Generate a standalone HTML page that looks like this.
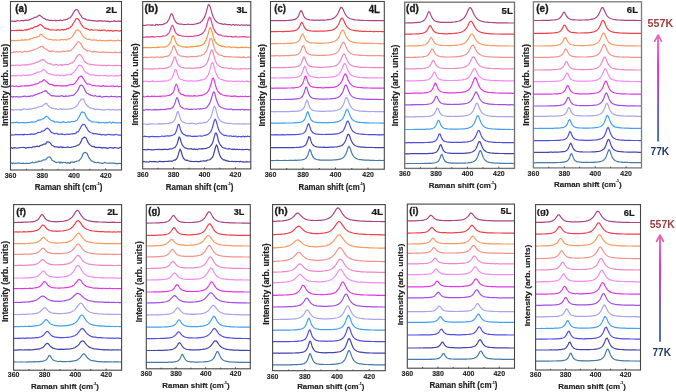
<!DOCTYPE html>
<html><head><meta charset="utf-8"><title>Raman spectra</title><style>
*{margin:0;padding:0}
html,body{width:676px;height:392px;background:#fff;overflow:hidden}
svg{display:block;will-change:transform}
text{font-family:"Liberation Sans", sans-serif}
.tl{font-weight:bold;fill:#222;stroke:#222;stroke-width:0.15px}
.ax{font-weight:bold;fill:#222;stroke:#222;stroke-width:0.2px}
.yl{font-weight:bold;fill:#222;stroke:#222;stroke-width:0.2px}
.pl{font-weight:bold;fill:#1a1a1a;stroke:#1a1a1a;stroke-width:0.3px}
.ly{font-weight:bold;fill:#1a1a1a;stroke:#1a1a1a;stroke-width:0.25px}
.k557{font-weight:bold;fill:#9e3c3e}
.k77{font-weight:bold;fill:#1e3a6a}
</style></head>
<body><svg width="676" height="392" viewBox="0 0 676 392">
<g fill="none" stroke-width="1.2" stroke-linejoin="round">
<path d="M10.7 21.1 11.7 21.0 12.7 21.2 13.7 21.3 14.7 21.2 15.7 21.3 16.7 20.9 17.7 20.5 18.7 21.0 19.7 21.0 20.8 20.6 21.8 20.6 22.8 20.6 23.8 20.8 24.8 20.4 25.8 20.0 26.8 20.4 27.8 20.0 28.8 20.1 29.8 19.6 30.8 19.4 31.8 18.6 32.8 18.5 33.8 17.7 34.8 17.4 35.8 17.1 36.8 17.2 37.8 16.1 38.9 15.4 39.9 15.2 40.9 16.2 41.9 16.8 42.9 17.9 43.9 18.7 44.9 18.7 45.9 19.7 46.9 19.8 47.9 19.7 48.9 20.3 49.9 20.3 50.9 20.3 51.9 20.4 52.9 20.8 53.9 20.5 54.9 20.2 55.9 21.0 57.0 20.3 58.0 20.5 59.0 20.7 60.0 19.9 61.0 20.2 62.0 20.6 63.0 20.2 64.0 19.9 65.0 19.9 66.0 19.5 67.0 19.4 68.0 18.7 69.0 18.0 70.0 17.8 71.0 16.5 72.0 15.3 73.0 13.3 74.0 11.9 75.0 10.3 76.1 9.7 77.1 9.6 78.1 10.5 79.1 12.8 80.1 14.5 81.1 15.7 82.1 17.7 83.1 18.2 84.1 18.8 85.1 18.9 86.1 19.4 87.1 20.0 88.1 20.2 89.1 20.4 90.1 20.0 91.1 20.7 92.1 20.7 93.1 20.6 94.2 20.8 95.2 20.9 96.2 21.2 97.2 20.9 98.2 21.1 99.2 20.7 100.2 20.9 101.2 21.1 102.2 20.9 103.2 21.2 104.2 20.8 105.2 21.1 106.2 21.0 107.2 21.5 108.2 21.1 109.2 21.7 110.2 21.8 111.2 21.3 112.3 21.5 113.3 21.2 114.3 20.6 115.3 21.5 116.3 21.4 117.3 21.2 118.3 21.1 119.3 21.3 120.3 21.3 121.3 21.1" stroke="#ae4482"/>
<path d="M10.7 30.4 11.7 30.8 12.7 30.5 13.7 30.5 14.7 30.7 15.7 30.3 16.7 30.6 17.7 30.1 18.7 30.3 19.7 30.2 20.8 30.4 21.8 30.2 22.8 30.6 23.8 30.3 24.8 29.8 25.8 30.3 26.8 29.4 27.8 29.9 28.8 29.0 29.8 29.2 30.8 28.4 31.8 28.2 32.8 28.3 33.8 27.2 34.8 26.7 35.8 26.8 36.8 26.4 37.8 25.9 38.9 25.4 39.9 24.3 40.9 24.8 41.9 25.3 42.9 26.5 43.9 27.4 44.9 28.4 45.9 28.2 46.9 29.0 47.9 28.9 48.9 29.4 49.9 29.8 50.9 29.8 51.9 30.0 52.9 29.9 53.9 30.0 54.9 30.0 55.9 30.3 57.0 30.2 58.0 29.5 59.0 30.1 60.0 30.2 61.0 29.7 62.0 29.4 63.0 30.1 64.0 29.6 65.0 29.6 66.0 29.7 67.0 28.7 68.0 28.6 69.0 28.1 70.0 27.7 71.0 26.5 72.0 25.6 73.0 23.9 74.0 22.3 75.0 20.5 76.1 18.6 77.1 18.7 78.1 18.9 79.1 20.3 80.1 22.3 81.1 24.2 82.1 25.4 83.1 26.9 84.1 27.7 85.1 28.2 86.1 28.4 87.1 28.9 88.1 29.2 89.1 29.7 90.1 30.1 91.1 29.6 92.1 29.7 93.1 30.1 94.2 30.0 95.2 30.0 96.2 30.0 97.2 30.0 98.2 30.5 99.2 30.0 100.2 30.8 101.2 30.2 102.2 30.3 103.2 30.2 104.2 30.0 105.2 30.1 106.2 30.9 107.2 31.0 108.2 30.3 109.2 30.9 110.2 30.6 111.2 30.4 112.3 31.1 113.3 31.2 114.3 30.6 115.3 30.6 116.3 30.7 117.3 30.6 118.3 30.9 119.3 31.1 120.3 30.7 121.3 30.9" stroke="#f2404a"/>
<path d="M10.7 41.0 11.7 40.4 12.7 40.5 13.7 40.4 14.7 40.7 15.7 40.6 16.7 40.7 17.7 40.6 18.7 40.3 19.7 40.5 20.8 40.1 21.8 40.1 22.8 39.6 23.8 40.4 24.8 39.7 25.8 39.9 26.8 39.7 27.8 40.0 28.8 39.5 29.8 38.9 30.8 38.9 31.8 38.5 32.8 38.3 33.8 37.5 34.8 37.4 35.8 37.7 36.8 36.9 37.8 36.8 38.9 36.6 39.9 35.2 40.9 34.2 41.9 34.7 42.9 35.8 43.9 36.8 44.9 37.1 45.9 38.1 46.9 38.7 47.9 39.0 48.9 39.3 49.9 39.3 50.9 39.5 51.9 39.7 52.9 40.1 53.9 39.8 54.9 40.1 55.9 39.7 57.0 40.3 58.0 40.0 59.0 40.0 60.0 40.3 61.0 39.5 62.0 39.5 63.0 40.0 64.0 39.5 65.0 39.5 66.0 40.2 67.0 39.2 68.0 39.1 69.0 38.7 70.0 38.6 71.0 37.8 72.0 36.9 73.0 35.4 74.0 34.1 75.0 32.4 76.1 30.4 77.1 30.1 78.1 29.9 79.1 30.9 80.1 31.3 81.1 33.2 82.1 34.9 83.1 36.3 84.1 37.4 85.1 38.1 86.1 38.7 87.1 39.1 88.1 39.3 89.1 39.1 90.1 39.6 91.1 39.9 92.1 40.1 93.1 40.2 94.2 39.7 95.2 40.1 96.2 40.2 97.2 40.4 98.2 40.7 99.2 40.4 100.2 40.2 101.2 40.6 102.2 40.5 103.2 40.6 104.2 40.5 105.2 41.0 106.2 40.6 107.2 40.8 108.2 40.3 109.2 40.8 110.2 40.4 111.2 40.2 112.3 40.7 113.3 40.8 114.3 40.6 115.3 40.6 116.3 40.9 117.3 40.5 118.3 40.1 119.3 40.7 120.3 40.7 121.3 41.0" stroke="#f89a62"/>
<path d="M10.7 52.2 11.7 52.6 12.7 52.5 13.7 51.8 14.7 52.4 15.7 51.8 16.7 51.7 17.7 52.0 18.7 51.9 19.7 51.5 20.8 52.0 21.8 52.1 22.8 52.3 23.8 51.8 24.8 51.3 25.8 51.4 26.8 51.8 27.8 51.6 28.8 51.4 29.8 50.9 30.8 50.8 31.8 50.4 32.8 50.1 33.8 49.9 34.8 49.4 35.8 49.0 36.8 48.7 37.8 48.2 38.9 47.4 39.9 47.1 40.9 46.5 41.9 46.6 42.9 46.4 43.9 48.0 44.9 48.9 45.9 49.1 46.9 49.8 47.9 50.5 48.9 51.3 49.9 51.2 50.9 51.4 51.9 51.2 52.9 50.9 53.9 51.5 54.9 51.8 55.9 52.0 57.0 51.7 58.0 51.8 59.0 52.0 60.0 51.7 61.0 52.0 62.0 51.3 63.0 51.3 64.0 51.2 65.0 51.6 66.0 51.2 67.0 51.2 68.0 51.1 69.0 50.9 70.0 50.8 71.0 50.4 72.0 49.1 73.0 48.5 74.0 47.2 75.0 45.4 76.1 44.5 77.1 42.8 78.1 41.9 79.1 41.9 80.1 42.9 81.1 44.0 82.1 45.9 83.1 47.9 84.1 48.9 85.1 49.3 86.1 50.0 87.1 51.1 88.1 50.5 89.1 51.0 90.1 51.0 91.1 51.6 92.1 51.7 93.1 52.1 94.2 51.1 95.2 51.9 96.2 51.5 97.2 52.2 98.2 52.0 99.2 52.5 100.2 52.2 101.2 51.9 102.2 52.5 103.2 51.9 104.2 52.1 105.2 52.5 106.2 52.4 107.2 52.4 108.2 52.3 109.2 52.4 110.2 52.5 111.2 52.4 112.3 52.6 113.3 52.7 114.3 52.3 115.3 52.1 116.3 52.8 117.3 52.3 118.3 52.5 119.3 52.6 120.3 52.1 121.3 52.5" stroke="#f6928a"/>
<path d="M10.7 64.9 11.7 65.6 12.7 65.2 13.7 65.4 14.7 65.5 15.7 65.1 16.7 65.3 17.7 65.0 18.7 65.2 19.7 65.5 20.8 65.1 21.8 65.1 22.8 64.8 23.8 65.2 24.8 64.9 25.8 65.3 26.8 64.5 27.8 64.9 28.8 64.9 29.8 64.3 30.8 63.8 31.8 64.2 32.8 63.8 33.8 63.4 34.8 63.1 35.8 62.4 36.8 62.3 37.8 62.0 38.9 61.2 39.9 61.1 40.9 60.1 41.9 59.8 42.9 59.6 43.9 60.2 44.9 60.2 45.9 61.9 46.9 62.6 47.9 63.3 48.9 63.6 49.9 64.0 50.9 63.7 51.9 64.7 52.9 65.0 53.9 64.9 54.9 65.1 55.9 64.5 57.0 64.5 58.0 65.1 59.0 65.2 60.0 64.9 61.0 64.4 62.0 65.5 63.0 64.6 64.0 65.0 65.0 64.3 66.0 64.8 67.0 64.4 68.0 64.6 69.0 64.3 70.0 63.3 71.0 63.1 72.0 62.9 73.0 62.3 74.0 61.6 75.0 59.8 76.1 57.9 77.1 56.1 78.1 54.8 79.1 54.6 80.1 54.6 81.1 55.6 82.1 57.0 83.1 58.7 84.1 60.8 85.1 62.1 86.1 62.7 87.1 63.4 88.1 63.9 89.1 64.0 90.1 64.6 91.1 64.3 92.1 64.6 93.1 64.7 94.2 64.9 95.2 65.1 96.2 65.2 97.2 65.1 98.2 65.2 99.2 65.1 100.2 65.2 101.2 65.6 102.2 65.2 103.2 65.6 104.2 65.4 105.2 65.4 106.2 65.9 107.2 65.3 108.2 65.3 109.2 65.4 110.2 65.5 111.2 65.5 112.3 65.7 113.3 65.5 114.3 65.6 115.3 65.4 116.3 65.8 117.3 65.4 118.3 65.4 119.3 65.5 120.3 65.6 121.3 65.3" stroke="#f486c8"/>
<path d="M10.7 76.2 11.7 75.6 12.7 75.7 13.7 75.6 14.7 75.6 15.7 75.9 16.7 75.7 17.7 75.5 18.7 75.5 19.7 75.5 20.8 76.0 21.8 75.4 22.8 75.1 23.8 75.1 24.8 75.3 25.8 75.7 26.8 74.9 27.8 75.1 28.8 75.7 29.8 74.7 30.8 75.0 31.8 74.8 32.8 74.3 33.8 73.5 34.8 73.6 35.8 73.1 36.8 72.3 37.8 72.0 38.9 72.1 39.9 71.8 40.9 71.5 41.9 70.7 42.9 69.7 43.9 69.5 44.9 70.3 45.9 71.1 46.9 72.6 47.9 73.2 48.9 73.6 49.9 74.0 50.9 74.2 51.9 74.6 52.9 74.9 53.9 74.9 54.9 75.3 55.9 75.6 57.0 75.0 58.0 75.2 59.0 75.1 60.0 75.7 61.0 75.3 62.0 75.4 63.0 75.4 64.0 75.8 65.0 75.2 66.0 74.7 67.0 74.8 68.0 74.9 69.0 74.6 70.0 74.2 71.0 74.9 72.0 73.7 73.0 73.0 74.0 72.2 75.0 70.8 76.1 69.5 77.1 67.9 78.1 66.2 79.1 65.0 80.1 65.2 81.1 65.5 82.1 66.5 83.1 68.0 84.1 70.3 85.1 71.7 86.1 72.6 87.1 73.0 88.1 73.9 89.1 73.9 90.1 74.8 91.1 74.8 92.1 75.0 93.1 74.9 94.2 74.9 95.2 75.7 96.2 75.6 97.2 75.3 98.2 75.7 99.2 75.9 100.2 75.3 101.2 75.5 102.2 75.5 103.2 75.8 104.2 75.4 105.2 75.8 106.2 75.4 107.2 76.0 108.2 76.0 109.2 75.7 110.2 76.0 111.2 75.6 112.3 75.7 113.3 76.0 114.3 75.8 115.3 75.9 116.3 75.6 117.3 76.0 118.3 75.9 119.3 75.5 120.3 75.2 121.3 75.3" stroke="#f48af4"/>
<path d="M10.7 86.2 11.7 86.2 12.7 85.8 13.7 86.3 14.7 86.5 15.7 86.2 16.7 86.0 17.7 86.4 18.7 86.6 19.7 86.5 20.8 85.9 21.8 86.2 22.8 86.0 23.8 85.9 24.8 85.7 25.8 85.9 26.8 85.6 27.8 85.9 28.8 85.7 29.8 85.7 30.8 85.0 31.8 85.1 32.8 85.1 33.8 84.7 34.8 84.4 35.8 83.8 36.8 84.0 37.8 83.5 38.9 83.0 39.9 81.8 40.9 81.9 41.9 81.6 42.9 80.6 43.9 79.6 44.9 80.2 45.9 81.1 46.9 81.8 47.9 83.0 48.9 83.7 49.9 84.5 50.9 84.2 51.9 84.6 52.9 85.1 53.9 85.2 54.9 86.1 55.9 85.4 57.0 85.7 58.0 85.6 59.0 85.5 60.0 85.8 61.0 86.2 62.0 85.6 63.0 85.9 64.0 85.8 65.0 85.8 66.0 85.7 67.0 86.2 68.0 85.1 69.0 85.2 70.0 84.8 71.0 84.4 72.0 84.6 73.0 84.7 74.0 83.9 75.0 83.2 76.1 81.9 77.1 80.2 78.1 79.0 79.1 76.9 80.1 76.6 81.1 76.1 82.1 76.8 83.1 78.3 84.1 80.0 85.1 81.7 86.1 82.9 87.1 84.1 88.1 84.2 89.1 84.1 90.1 84.4 91.1 84.8 92.1 85.2 93.1 85.7 94.2 85.3 95.2 85.8 96.2 85.9 97.2 86.0 98.2 85.9 99.2 86.1 100.2 86.1 101.2 86.4 102.2 86.2 103.2 85.5 104.2 86.2 105.2 86.3 106.2 86.1 107.2 86.0 108.2 86.5 109.2 86.3 110.2 86.0 111.2 86.2 112.3 86.2 113.3 85.9 114.3 86.5 115.3 86.3 116.3 86.5 117.3 85.9 118.3 86.9 119.3 86.5 120.3 86.5 121.3 86.2" stroke="#e438e6"/>
<path d="M10.7 96.6 11.7 96.4 12.7 97.2 13.7 96.5 14.7 96.8 15.7 96.9 16.7 96.5 17.7 96.9 18.7 97.2 19.7 96.7 20.8 97.0 21.8 96.7 22.8 96.4 23.8 96.4 24.8 96.0 25.8 96.4 26.8 96.7 27.8 96.4 28.8 96.4 29.8 96.4 30.8 95.8 31.8 95.9 32.8 96.1 33.8 95.1 34.8 95.1 35.8 94.6 36.8 94.3 37.8 93.8 38.9 93.7 39.9 93.0 40.9 92.9 41.9 92.4 42.9 91.8 43.9 91.5 44.9 90.6 45.9 90.8 46.9 91.7 47.9 93.3 48.9 93.4 49.9 94.5 50.9 95.4 51.9 95.8 52.9 95.7 53.9 95.8 54.9 96.1 55.9 96.0 57.0 96.3 58.0 96.0 59.0 96.4 60.0 96.2 61.0 95.9 62.0 95.5 63.0 96.5 64.0 96.3 65.0 96.4 66.0 95.9 67.0 96.3 68.0 96.1 69.0 95.8 70.0 95.9 71.0 95.7 72.0 95.3 73.0 95.4 74.0 94.7 75.0 93.8 76.1 92.6 77.1 91.3 78.1 89.9 79.1 87.5 80.1 85.6 81.1 85.1 82.1 85.4 83.1 86.6 84.1 88.0 85.1 90.4 86.1 92.2 87.1 93.3 88.1 93.6 89.1 94.6 90.1 94.7 91.1 95.5 92.1 95.4 93.1 96.0 94.2 96.1 95.2 95.4 96.2 96.0 97.2 96.5 98.2 96.4 99.2 96.3 100.2 96.1 101.2 96.7 102.2 97.1 103.2 96.7 104.2 96.6 105.2 96.6 106.2 96.3 107.2 96.6 108.2 96.5 109.2 97.0 110.2 96.5 111.2 96.2 112.3 96.5 113.3 96.7 114.3 96.7 115.3 96.3 116.3 97.1 117.3 96.8 118.3 96.7 119.3 96.6 120.3 96.9 121.3 96.7" stroke="#a64ce8"/>
<path d="M10.7 109.8 11.7 109.7 12.7 109.8 13.7 110.1 14.7 109.7 15.7 109.5 16.7 110.0 17.7 109.7 18.7 109.5 19.7 109.9 20.8 109.6 21.8 109.9 22.8 109.2 23.8 108.9 24.8 108.9 25.8 109.5 26.8 109.2 27.8 109.3 28.8 109.2 29.8 108.7 30.8 109.4 31.8 108.6 32.8 108.7 33.8 108.1 34.8 108.2 35.8 108.2 36.8 107.6 37.8 107.1 38.9 106.9 39.9 106.5 40.9 106.4 41.9 106.5 42.9 105.2 43.9 104.6 44.9 103.9 45.9 103.4 46.9 103.6 47.9 105.1 48.9 106.4 49.9 107.1 50.9 107.4 51.9 108.5 52.9 108.1 53.9 108.8 54.9 109.1 55.9 108.6 57.0 109.1 58.0 109.5 59.0 109.3 60.0 108.9 61.0 108.9 62.0 109.4 63.0 109.1 64.0 109.0 65.0 109.4 66.0 109.1 67.0 109.1 68.0 109.2 69.0 109.1 70.0 108.8 71.0 108.7 72.0 108.7 73.0 108.4 74.0 107.6 75.0 107.4 76.1 106.5 77.1 105.4 78.1 104.1 79.1 101.9 80.1 100.9 81.1 99.2 82.1 99.2 83.1 98.9 84.1 100.1 85.1 103.0 86.1 104.5 87.1 105.5 88.1 106.5 89.1 107.2 90.1 108.0 91.1 108.2 92.1 108.4 93.1 108.8 94.2 108.7 95.2 109.8 96.2 109.0 97.2 109.6 98.2 109.1 99.2 109.5 100.2 109.7 101.2 109.4 102.2 109.8 103.2 109.9 104.2 110.1 105.2 109.7 106.2 109.5 107.2 109.4 108.2 109.7 109.2 109.4 110.2 109.7 111.2 109.8 112.3 109.6 113.3 109.5 114.3 109.9 115.3 109.9 116.3 109.8 117.3 109.8 118.3 110.1 119.3 109.5 120.3 109.9 121.3 109.7" stroke="#a8a4ee"/>
<path d="M10.7 123.0 11.7 122.7 12.7 122.6 13.7 122.9 14.7 122.2 15.7 122.6 16.7 122.2 17.7 122.4 18.7 122.9 19.7 122.8 20.8 122.5 21.8 122.6 22.8 122.6 23.8 122.6 24.8 123.0 25.8 122.5 26.8 123.0 27.8 122.2 28.8 122.5 29.8 122.4 30.8 122.2 31.8 121.9 32.8 122.2 33.8 122.1 34.8 121.8 35.8 121.8 36.8 121.2 37.8 120.1 38.9 120.5 39.9 119.7 40.9 119.9 41.9 119.1 42.9 118.9 43.9 118.4 44.9 117.5 45.9 116.3 46.9 116.4 47.9 117.0 48.9 118.5 49.9 119.2 50.9 120.3 51.9 120.6 52.9 121.2 53.9 121.0 54.9 122.3 55.9 122.0 57.0 121.7 58.0 122.2 59.0 122.4 60.0 122.3 61.0 122.6 62.0 122.2 63.0 121.6 64.0 121.9 65.0 122.5 66.0 122.5 67.0 122.3 68.0 121.8 69.0 122.3 70.0 122.2 71.0 121.6 72.0 121.5 73.0 121.6 74.0 121.5 75.0 121.3 76.1 120.5 77.1 120.2 78.1 118.2 79.1 117.1 80.1 114.9 81.1 112.7 82.1 111.9 83.1 112.4 84.1 112.4 85.1 113.7 86.1 116.2 87.1 118.0 88.1 119.1 89.1 120.4 90.1 120.2 91.1 121.8 92.1 121.8 93.1 121.8 94.2 122.0 95.2 122.0 96.2 122.1 97.2 122.3 98.2 122.0 99.2 123.0 100.2 122.5 101.2 122.7 102.2 122.5 103.2 122.5 104.2 122.9 105.2 122.8 106.2 122.4 107.2 122.6 108.2 122.9 109.2 122.1 110.2 122.1 111.2 123.2 112.3 122.7 113.3 122.1 114.3 122.6 115.3 122.7 116.3 122.8 117.3 122.9 118.3 122.9 119.3 123.0 120.3 122.6 121.3 122.9" stroke="#44a0f4"/>
<path d="M10.7 134.9 11.7 135.1 12.7 134.8 13.7 135.0 14.7 134.8 15.7 134.4 16.7 134.6 17.7 134.6 18.7 134.6 19.7 134.7 20.8 134.7 21.8 134.7 22.8 134.4 23.8 134.9 24.8 134.2 25.8 134.5 26.8 134.7 27.8 134.5 28.8 134.5 29.8 134.2 30.8 134.4 31.8 133.8 32.8 134.2 33.8 134.4 34.8 133.8 35.8 134.0 36.8 133.2 37.8 132.6 38.9 132.3 39.9 132.5 40.9 132.0 41.9 131.0 42.9 131.1 43.9 130.8 44.9 130.0 45.9 128.8 46.9 128.2 47.9 128.4 48.9 129.2 49.9 130.4 50.9 131.8 51.9 132.7 52.9 132.9 53.9 133.6 54.9 133.6 55.9 133.7 57.0 133.3 58.0 134.3 59.0 134.1 60.0 134.2 61.0 134.1 62.0 133.9 63.0 134.4 64.0 134.5 65.0 134.7 66.0 134.5 67.0 134.1 68.0 134.2 69.0 134.4 70.0 134.2 71.0 134.0 72.0 133.7 73.0 133.8 74.0 133.5 75.0 133.7 76.1 133.1 77.1 131.7 78.1 132.0 79.1 130.3 80.1 128.5 81.1 126.7 82.1 125.2 83.1 124.3 84.1 124.3 85.1 125.1 86.1 127.2 87.1 128.7 88.1 130.5 89.1 131.6 90.1 132.2 91.1 132.7 92.1 133.0 93.1 133.7 94.2 133.5 95.2 133.6 96.2 133.8 97.2 133.8 98.2 134.3 99.2 134.4 100.2 134.2 101.2 134.9 102.2 134.5 103.2 134.7 104.2 134.7 105.2 135.1 106.2 134.9 107.2 134.7 108.2 134.4 109.2 134.4 110.2 134.7 111.2 134.8 112.3 135.0 113.3 134.6 114.3 134.8 115.3 134.6 116.3 134.3 117.3 134.8 118.3 135.2 119.3 135.0 120.3 135.2 121.3 135.2" stroke="#4f4fe6"/>
<path d="M10.7 147.6 11.7 147.9 12.7 148.4 13.7 147.8 14.7 147.6 15.7 148.0 16.7 148.1 17.7 148.0 18.7 147.8 19.7 147.7 20.8 147.5 21.8 147.5 22.8 147.5 23.8 147.4 24.8 147.6 25.8 148.2 26.8 147.7 27.8 147.5 28.8 147.7 29.8 147.3 30.8 147.5 31.8 147.6 32.8 146.8 33.8 146.9 34.8 146.9 35.8 146.5 36.8 146.3 37.8 146.2 38.9 146.7 39.9 145.8 40.9 145.4 41.9 145.2 42.9 144.6 43.9 144.0 44.9 144.1 45.9 143.6 46.9 141.9 47.9 141.8 48.9 142.0 49.9 142.7 50.9 143.9 51.9 145.3 52.9 145.6 53.9 146.4 54.9 146.9 55.9 146.8 57.0 146.8 58.0 147.3 59.0 147.2 60.0 147.4 61.0 146.6 62.0 147.6 63.0 147.1 64.0 147.5 65.0 147.5 66.0 147.3 67.0 147.2 68.0 147.1 69.0 147.3 70.0 147.5 71.0 147.4 72.0 147.0 73.0 146.9 74.0 146.5 75.0 146.5 76.1 146.0 77.1 145.4 78.1 145.2 79.1 144.7 80.1 143.3 81.1 141.6 82.1 138.8 83.1 138.1 84.1 137.1 85.1 137.4 86.1 138.1 87.1 140.2 88.1 142.4 89.1 144.0 90.1 144.9 91.1 145.7 92.1 146.4 93.1 146.6 94.2 146.4 95.2 147.5 96.2 147.2 97.2 147.6 98.2 147.4 99.2 147.3 100.2 147.6 101.2 147.4 102.2 148.2 103.2 147.4 104.2 148.0 105.2 147.6 106.2 147.8 107.2 148.6 108.2 148.1 109.2 147.8 110.2 147.5 111.2 147.8 112.3 147.9 113.3 148.3 114.3 147.6 115.3 147.5 116.3 148.0 117.3 148.0 118.3 148.4 119.3 147.8 120.3 147.3 121.3 147.8" stroke="#4444b2"/>
<path d="M10.7 162.9 11.7 163.1 12.7 163.6 13.7 162.9 14.7 163.6 15.7 163.3 16.7 163.2 17.7 163.0 18.7 163.1 19.7 163.1 20.8 163.4 21.8 163.5 22.8 163.1 23.8 163.3 24.8 163.5 25.8 163.4 26.8 163.2 27.8 163.5 28.8 163.3 29.8 163.3 30.8 162.8 31.8 162.6 32.8 162.1 33.8 162.9 34.8 162.6 35.8 162.0 36.8 162.1 37.8 161.9 38.9 161.1 39.9 161.3 40.9 161.2 41.9 160.9 42.9 160.1 43.9 159.8 44.9 160.0 45.9 159.4 46.9 158.3 47.9 157.4 48.9 157.0 49.9 156.9 50.9 158.2 51.9 160.1 52.9 160.7 53.9 161.1 54.9 161.8 55.9 162.6 57.0 162.3 58.0 162.2 59.0 162.0 60.0 163.2 61.0 161.9 62.0 163.0 63.0 162.5 64.0 162.4 65.0 162.5 66.0 162.7 67.0 163.1 68.0 162.6 69.0 162.9 70.0 163.4 71.0 161.8 72.0 162.3 73.0 161.9 74.0 162.5 75.0 161.7 76.1 161.4 77.1 161.0 78.1 161.0 79.1 160.6 80.1 159.3 81.1 158.3 82.1 156.2 83.1 153.7 84.1 152.8 85.1 152.3 86.1 152.7 87.1 153.5 88.1 155.7 89.1 158.0 90.1 159.1 91.1 160.7 92.1 161.2 93.1 161.4 94.2 162.3 95.2 162.3 96.2 162.8 97.2 162.5 98.2 162.2 99.2 163.0 100.2 162.8 101.2 163.2 102.2 163.3 103.2 163.4 104.2 162.6 105.2 162.4 106.2 163.0 107.2 163.3 108.2 163.0 109.2 163.3 110.2 163.0 111.2 163.1 112.3 163.2 113.3 163.1 114.3 163.4 115.3 163.4 116.3 163.8 117.3 163.4 118.3 163.7 119.3 163.3 120.3 163.6 121.3 163.3" stroke="#467aa8"/>
</g>
<rect x="10.5" y="1.5" width="111.0" height="168.5" fill="none" stroke="#454545" stroke-width="1.10"/>
<path d="M26.4,170.0v-1.2 M42.2,170.0v-1.6 M58.1,170.0v-1.2 M73.9,170.0v-1.6 M89.8,170.0v-1.2 M105.6,170.0v-1.6" stroke="#3a3a3a" stroke-width="0.9"/>
<text class="tl" style="font-size:10.0px" transform="translate(4.72,177.55) scale(0.7000,0.6831)">360</text>
<text class="tl" style="font-size:10.0px" transform="translate(36.44,177.55) scale(0.7000,0.6831)">380</text>
<text class="tl" style="font-size:10.0px" transform="translate(68.18,177.55) scale(0.7000,0.6831)">400</text>
<text class="tl" style="font-size:10.0px" transform="translate(99.90,177.55) scale(0.7000,0.6831)">420</text>
<text class="ax" style="font-size:10.0px" transform="translate(34.77,189.90) scale(0.7945,0.8576)">Raman shift (cm<tspan style="font-size:4.50px" dy="-5.60">-1</tspan><tspan dy="5.60">)</tspan></text>
<text class="yl" style="font-size:10.0px" transform="translate(7.60,126.08) rotate(-90) scale(0.8613,0.8140)">Intensity (arb. units)</text>
<text class="pl" style="font-size:10.0px" transform="translate(15.31,12.44) scale(0.9759,1.0397)">(a)</text>
<text class="ly" style="font-size:10.0px" transform="translate(105.86,12.90) scale(0.9718,0.9012)">2L</text>
<g fill="none" stroke-width="1.2" stroke-linejoin="round">
<path d="M142.9 25.1 143.9 25.5 144.9 25.3 145.9 25.4 146.9 25.0 147.9 24.8 148.9 25.0 149.9 25.2 151.0 24.8 152.0 25.4 153.0 24.8 154.0 25.2 155.0 25.5 156.0 24.4 157.0 24.6 158.0 25.1 159.0 24.7 160.0 24.7 161.0 24.6 162.0 24.7 163.0 24.4 164.0 23.9 165.0 23.6 166.1 22.9 167.1 22.3 168.1 20.6 169.1 19.3 170.1 16.2 171.1 14.0 172.1 13.9 173.1 16.1 174.1 19.3 175.1 20.9 176.1 22.3 177.1 23.2 178.1 23.6 179.1 24.0 180.1 24.2 181.1 24.1 182.2 24.2 183.2 24.5 184.2 24.7 185.2 24.5 186.2 24.5 187.2 24.3 188.2 24.0 189.2 24.3 190.2 24.5 191.2 24.4 192.2 24.5 193.2 24.4 194.2 24.3 195.2 24.0 196.2 23.9 197.3 23.4 198.3 23.3 199.3 22.9 200.3 22.6 201.3 21.4 202.3 20.7 203.3 19.2 204.3 17.7 205.3 15.1 206.3 12.2 207.3 8.2 208.3 4.7 209.3 5.1 210.3 7.2 211.3 10.9 212.4 14.7 213.4 17.2 214.4 19.0 215.4 20.8 216.4 21.5 217.4 22.5 218.4 23.0 219.4 23.4 220.4 23.6 221.4 23.8 222.4 23.9 223.4 24.5 224.4 23.9 225.4 24.2 226.4 24.4 227.4 24.7 228.5 24.7 229.5 24.6 230.5 24.7 231.5 25.2 232.5 24.7 233.5 24.3 234.5 25.3 235.5 24.8 236.5 24.9 237.5 25.1 238.5 24.8 239.5 25.3 240.5 25.1 241.5 24.8 242.5 25.2 243.6 25.2 244.6 25.1 245.6 25.2 246.6 24.8 247.6 25.4 248.6 25.0 249.6 25.4 250.6 25.1" stroke="#ae4482"/>
<path d="M142.9 37.0 143.9 37.5 144.9 37.0 145.9 37.2 146.9 37.1 147.9 36.6 148.9 37.2 149.9 37.1 151.0 36.6 152.0 36.9 153.0 36.6 154.0 36.8 155.0 37.0 156.0 36.8 157.0 36.5 158.0 36.5 159.0 36.6 160.0 36.6 161.0 36.5 162.0 36.5 163.0 35.8 164.0 36.0 165.0 36.0 166.1 35.5 167.1 34.7 168.1 33.8 169.1 32.6 170.1 30.6 171.1 27.4 172.1 25.4 173.1 26.1 174.1 28.7 175.1 31.6 176.1 33.2 177.1 34.1 178.1 34.9 179.1 35.4 180.1 35.3 181.1 35.8 182.2 36.2 183.2 36.0 184.2 36.2 185.2 36.5 186.2 36.3 187.2 36.4 188.2 36.8 189.2 36.4 190.2 36.4 191.2 36.4 192.2 36.5 193.2 36.2 194.2 36.1 195.2 35.9 196.2 36.0 197.3 35.5 198.3 35.6 199.3 35.1 200.3 34.4 201.3 34.3 202.3 33.6 203.3 32.3 204.3 31.3 205.3 29.4 206.3 26.6 207.3 23.0 208.3 19.8 209.3 17.1 210.3 17.8 211.3 21.1 212.4 24.8 213.4 28.0 214.4 30.1 215.4 32.0 216.4 33.0 217.4 33.7 218.4 34.6 219.4 34.9 220.4 34.9 221.4 35.5 222.4 35.9 223.4 36.0 224.4 36.3 225.4 36.2 226.4 36.1 227.4 36.6 228.5 36.5 229.5 36.3 230.5 36.7 231.5 36.6 232.5 36.9 233.5 36.9 234.5 36.9 235.5 36.3 236.5 36.9 237.5 36.9 238.5 37.0 239.5 36.9 240.5 36.8 241.5 36.9 242.5 36.5 243.6 36.9 244.6 36.6 245.6 36.9 246.6 36.8 247.6 37.3 248.6 37.0 249.6 37.0 250.6 37.0" stroke="#ee3f96"/>
<path d="M142.9 48.0 143.9 47.4 144.9 47.7 145.9 47.7 146.9 47.6 147.9 47.6 148.9 47.5 149.9 47.8 151.0 47.7 152.0 47.5 153.0 47.5 154.0 47.5 155.0 47.6 156.0 47.6 157.0 47.4 158.0 47.1 159.0 47.5 160.0 46.9 161.0 47.0 162.0 47.2 163.0 46.8 164.0 47.1 165.0 47.0 166.1 46.6 167.1 46.0 168.1 45.4 169.1 44.5 170.1 42.9 171.1 40.9 172.1 37.2 173.1 35.7 174.1 37.1 175.1 40.2 176.1 42.8 177.1 44.5 178.1 45.4 179.1 45.8 180.1 46.0 181.1 46.3 182.2 46.8 183.2 46.9 184.2 47.0 185.2 46.8 186.2 47.4 187.2 46.7 188.2 47.1 189.2 47.1 190.2 46.9 191.2 46.7 192.2 46.8 193.2 46.6 194.2 46.7 195.2 46.4 196.2 46.3 197.3 46.4 198.3 45.9 199.3 45.9 200.3 45.7 201.3 45.5 202.3 44.8 203.3 43.9 204.3 43.3 205.3 41.4 206.3 39.5 207.3 36.6 208.3 33.4 209.3 29.3 210.3 27.5 211.3 29.5 212.4 33.1 213.4 37.2 214.4 39.5 215.4 41.8 216.4 42.9 217.4 44.4 218.4 44.7 219.4 45.4 220.4 45.6 221.4 46.2 222.4 46.4 223.4 46.0 224.4 46.8 225.4 46.9 226.4 47.0 227.4 47.2 228.5 46.8 229.5 46.8 230.5 47.3 231.5 47.6 232.5 47.0 233.5 47.1 234.5 47.2 235.5 47.1 236.5 47.6 237.5 47.5 238.5 47.7 239.5 47.7 240.5 47.3 241.5 47.6 242.5 47.1 243.6 47.5 244.6 47.7 245.6 47.4 246.6 47.2 247.6 47.5 248.6 47.8 249.6 47.5 250.6 47.3" stroke="#f8963e"/>
<path d="M142.9 57.5 143.9 57.6 144.9 57.2 145.9 57.4 146.9 57.6 147.9 57.4 148.9 57.5 149.9 57.3 151.0 57.3 152.0 57.1 153.0 57.2 154.0 57.6 155.0 57.2 156.0 57.1 157.0 57.1 158.0 57.0 159.0 57.3 160.0 57.3 161.0 56.9 162.0 57.2 163.0 57.3 164.0 56.6 165.0 56.7 166.1 56.4 167.1 56.4 168.1 55.9 169.1 55.2 170.1 54.1 171.1 52.2 172.1 50.2 173.1 46.3 174.1 45.4 175.1 47.7 176.1 50.5 177.1 52.9 178.1 54.6 179.1 54.8 180.1 55.9 181.1 56.0 182.2 56.3 183.2 56.2 184.2 56.7 185.2 56.5 186.2 56.9 187.2 56.6 188.2 57.0 189.2 56.9 190.2 56.4 191.2 56.7 192.2 56.7 193.2 56.3 194.2 56.6 195.2 56.7 196.2 56.3 197.3 56.6 198.3 56.0 199.3 55.8 200.3 55.9 201.3 55.6 202.3 55.0 203.3 54.5 204.3 53.9 205.3 52.5 206.3 51.5 207.3 49.0 208.3 45.9 209.3 42.0 210.3 38.5 211.3 38.2 212.4 40.5 213.4 44.6 214.4 48.1 215.4 50.7 216.4 52.5 217.4 53.4 218.4 54.5 219.4 54.9 220.4 55.2 221.4 55.5 222.4 55.7 223.4 56.3 224.4 56.6 225.4 56.4 226.4 56.6 227.4 56.5 228.5 56.8 229.5 56.7 230.5 56.8 231.5 56.9 232.5 57.0 233.5 57.0 234.5 57.1 235.5 57.1 236.5 57.0 237.5 57.3 238.5 56.9 239.5 57.3 240.5 57.1 241.5 57.3 242.5 57.4 243.6 56.9 244.6 57.4 245.6 57.6 246.6 57.5 247.6 57.4 248.6 56.9 249.6 57.3 250.6 57.2" stroke="#f6928a"/>
<path d="M142.9 69.1 143.9 68.8 144.9 68.8 145.9 68.5 146.9 69.0 147.9 68.8 148.9 68.8 149.9 69.1 151.0 68.9 152.0 68.9 153.0 69.3 154.0 68.7 155.0 68.7 156.0 68.9 157.0 69.0 158.0 68.4 159.0 68.6 160.0 68.4 161.0 68.3 162.0 68.6 163.0 68.3 164.0 68.4 165.0 68.3 166.1 68.1 167.1 67.9 168.1 67.3 169.1 67.1 170.1 66.4 171.1 65.3 172.1 63.4 173.1 60.7 174.1 57.4 175.1 56.9 176.1 59.8 177.1 62.8 178.1 65.0 179.1 65.7 180.1 66.6 181.1 67.3 182.2 67.7 183.2 67.5 184.2 68.0 185.2 68.2 186.2 68.2 187.2 68.2 188.2 68.0 189.2 68.3 190.2 67.9 191.2 68.5 192.2 68.2 193.2 68.5 194.2 67.9 195.2 68.2 196.2 68.1 197.3 67.8 198.3 67.6 199.3 68.0 200.3 67.6 201.3 67.6 202.3 66.9 203.3 66.6 204.3 66.0 205.3 65.3 206.3 64.1 207.3 62.5 208.3 59.8 209.3 56.3 210.3 53.0 211.3 49.9 212.4 50.5 213.4 53.7 214.4 57.8 215.4 60.7 216.4 63.1 217.4 64.3 218.4 65.4 219.4 66.2 220.4 66.7 221.4 67.2 222.4 67.7 223.4 67.6 224.4 67.8 225.4 68.0 226.4 67.9 227.4 68.0 228.5 68.5 229.5 68.6 230.5 68.2 231.5 68.2 232.5 68.7 233.5 68.8 234.5 68.8 235.5 68.8 236.5 69.0 237.5 68.7 238.5 69.0 239.5 69.0 240.5 68.6 241.5 68.9 242.5 68.8 243.6 68.7 244.6 68.7 245.6 68.9 246.6 68.8 247.6 69.0 248.6 68.5 249.6 68.7 250.6 69.1" stroke="#f486c8"/>
<path d="M142.9 81.5 143.9 81.4 144.9 81.4 145.9 81.1 146.9 81.2 147.9 81.6 148.9 81.5 149.9 81.7 151.0 81.4 152.0 81.4 153.0 80.9 154.0 81.4 155.0 81.8 156.0 81.5 157.0 81.3 158.0 81.6 159.0 81.5 160.0 81.4 161.0 81.2 162.0 81.2 163.0 81.3 164.0 80.9 165.0 81.1 166.1 80.9 167.1 80.9 168.1 80.6 169.1 80.0 170.1 79.9 171.1 78.9 172.1 77.5 173.1 75.6 174.1 72.4 175.1 69.6 176.1 69.6 177.1 72.9 178.1 76.0 179.1 78.2 180.1 79.2 181.1 79.5 182.2 79.7 183.2 80.3 184.2 80.3 185.2 80.8 186.2 80.8 187.2 80.9 188.2 80.8 189.2 81.2 190.2 80.8 191.2 80.7 192.2 81.2 193.2 81.2 194.2 80.8 195.2 81.0 196.2 81.3 197.3 80.6 198.3 80.6 199.3 80.6 200.3 79.9 201.3 80.1 202.3 80.0 203.3 79.5 204.3 79.3 205.3 78.7 206.3 77.6 207.3 76.5 208.3 74.7 209.3 71.6 210.3 68.2 211.3 64.3 212.4 62.4 213.4 64.1 214.4 67.8 215.4 71.7 216.4 74.1 217.4 76.5 218.4 77.6 219.4 78.8 220.4 79.2 221.4 79.5 222.4 79.6 223.4 80.3 224.4 80.4 225.4 80.7 226.4 80.9 227.4 81.1 228.5 80.9 229.5 81.3 230.5 81.0 231.5 81.1 232.5 81.3 233.5 81.4 234.5 81.5 235.5 80.9 236.5 81.6 237.5 81.0 238.5 81.2 239.5 81.4 240.5 81.6 241.5 81.2 242.5 81.1 243.6 81.6 244.6 81.5 245.6 81.2 246.6 81.4 247.6 81.1 248.6 81.6 249.6 81.4 250.6 81.7" stroke="#f48af4"/>
<path d="M142.9 96.1 143.9 96.7 144.9 97.0 145.9 96.5 146.9 96.5 147.9 96.1 148.9 96.6 149.9 96.5 151.0 96.3 152.0 96.1 153.0 96.5 154.0 96.2 155.0 96.3 156.0 96.5 157.0 96.4 158.0 96.4 159.0 96.5 160.0 96.1 161.0 96.6 162.0 96.0 163.0 96.0 164.0 96.1 165.0 96.2 166.1 96.0 167.1 95.7 168.1 95.5 169.1 95.4 170.1 94.9 171.1 94.7 172.1 93.7 173.1 92.7 174.1 89.9 175.1 86.6 176.1 84.1 177.1 85.2 178.1 88.8 179.1 92.2 180.1 93.2 181.1 94.5 182.2 94.6 183.2 94.7 184.2 95.6 185.2 95.6 186.2 95.8 187.2 95.8 188.2 95.8 189.2 95.7 190.2 96.2 191.2 95.7 192.2 96.2 193.2 95.9 194.2 95.7 195.2 95.8 196.2 96.1 197.3 96.0 198.3 95.8 199.3 95.7 200.3 95.3 201.3 95.6 202.3 95.1 203.3 94.8 204.3 94.4 205.3 94.0 206.3 93.1 207.3 92.4 208.3 91.0 209.3 89.1 210.3 86.0 211.3 82.9 212.4 78.6 213.4 78.1 214.4 80.8 215.4 84.9 216.4 88.4 217.4 90.5 218.4 92.2 219.4 93.0 220.4 94.2 221.4 94.1 222.4 94.8 223.4 95.2 224.4 95.5 225.4 95.7 226.4 95.9 227.4 95.9 228.5 95.9 229.5 96.0 230.5 96.3 231.5 96.2 232.5 96.3 233.5 96.2 234.5 95.9 235.5 96.1 236.5 96.4 237.5 96.6 238.5 96.6 239.5 96.7 240.5 96.2 241.5 96.5 242.5 96.4 243.6 96.5 244.6 96.4 245.6 96.2 246.6 96.6 247.6 96.5 248.6 96.6 249.6 96.3 250.6 96.7" stroke="#e438e6"/>
<path d="M142.9 110.0 143.9 110.1 144.9 110.1 145.9 109.7 146.9 109.3 147.9 110.0 148.9 109.6 149.9 109.7 151.0 110.0 152.0 109.8 153.0 109.8 154.0 109.9 155.0 109.3 156.0 110.1 157.0 109.6 158.0 109.6 159.0 109.8 160.0 109.6 161.0 109.4 162.0 109.6 163.0 109.5 164.0 109.4 165.0 109.8 166.1 109.1 167.1 108.8 168.1 108.9 169.1 108.7 170.1 109.0 171.1 108.3 172.1 107.9 173.1 107.0 174.1 105.1 175.1 102.9 176.1 99.2 177.1 97.5 178.1 99.5 179.1 103.0 180.1 105.6 181.1 107.0 182.2 107.4 183.2 108.5 184.2 108.8 185.2 109.0 186.2 108.8 187.2 108.7 188.2 109.1 189.2 109.4 190.2 109.4 191.2 109.1 192.2 109.5 193.2 109.0 194.2 109.0 195.2 109.3 196.2 109.1 197.3 109.0 198.3 108.8 199.3 109.3 200.3 108.7 201.3 108.9 202.3 108.8 203.3 108.5 204.3 108.3 205.3 108.1 206.3 107.7 207.3 106.9 208.3 105.4 209.3 103.9 210.3 101.9 211.3 98.7 212.4 95.1 213.4 91.9 214.4 92.2 215.4 95.9 216.4 99.8 217.4 102.6 218.4 104.7 219.4 106.2 220.4 106.8 221.4 107.6 222.4 107.8 223.4 108.3 224.4 108.6 225.4 108.8 226.4 109.0 227.4 109.2 228.5 109.3 229.5 109.1 230.5 109.2 231.5 109.1 232.5 109.8 233.5 109.6 234.5 109.6 235.5 109.5 236.5 109.7 237.5 109.7 238.5 109.5 239.5 109.6 240.5 109.9 241.5 109.4 242.5 109.5 243.6 109.8 244.6 109.6 245.6 109.9 246.6 109.5 247.6 109.8 248.6 109.9 249.6 109.8 250.6 109.9" stroke="#a64ce8"/>
<path d="M142.9 124.0 143.9 124.0 144.9 124.0 145.9 124.1 146.9 124.7 147.9 124.0 148.9 124.4 149.9 123.9 151.0 123.8 152.0 123.9 153.0 124.0 154.0 124.0 155.0 124.0 156.0 124.0 157.0 124.0 158.0 124.1 159.0 123.6 160.0 123.9 161.0 123.7 162.0 123.9 163.0 123.8 164.0 123.8 165.0 123.6 166.1 123.5 167.1 123.5 168.1 123.6 169.1 123.5 170.1 122.8 171.1 122.9 172.1 122.5 173.1 121.6 174.1 120.7 175.1 119.1 176.1 116.4 177.1 112.2 178.1 111.4 179.1 114.4 180.1 118.0 181.1 120.4 182.2 121.7 183.2 122.1 184.2 122.5 185.2 123.0 186.2 123.4 187.2 123.5 188.2 123.4 189.2 123.7 190.2 123.3 191.2 123.3 192.2 123.0 193.2 123.4 194.2 123.6 195.2 123.7 196.2 124.2 197.3 123.6 198.3 123.4 199.3 123.2 200.3 123.2 201.3 123.1 202.3 123.0 203.3 122.8 204.3 122.4 205.3 122.6 206.3 122.1 207.3 121.8 208.3 120.5 209.3 119.5 210.3 118.0 211.3 116.0 212.4 112.3 213.4 108.4 214.4 106.0 215.4 107.7 216.4 111.5 217.4 115.4 218.4 117.7 219.4 119.5 220.4 120.7 221.4 121.5 222.4 122.1 223.4 122.2 224.4 122.8 225.4 122.9 226.4 123.2 227.4 123.5 228.5 123.2 229.5 123.7 230.5 123.4 231.5 123.5 232.5 124.0 233.5 123.9 234.5 123.8 235.5 123.9 236.5 124.0 237.5 123.7 238.5 123.9 239.5 123.8 240.5 124.0 241.5 123.8 242.5 124.1 243.6 123.9 244.6 123.8 245.6 123.9 246.6 124.0 247.6 124.2 248.6 123.9 249.6 123.9 250.6 124.0" stroke="#a8a4ee"/>
<path d="M142.9 136.8 143.9 136.5 144.9 136.1 145.9 136.7 146.9 136.5 147.9 136.5 148.9 137.1 149.9 136.6 151.0 136.7 152.0 136.3 153.0 136.6 154.0 136.7 155.0 136.6 156.0 136.5 157.0 136.6 158.0 136.5 159.0 136.8 160.0 136.5 161.0 136.3 162.0 136.0 163.0 136.3 164.0 136.3 165.0 136.1 166.1 136.1 167.1 135.9 168.1 135.9 169.1 136.1 170.1 135.8 171.1 135.7 172.1 135.4 173.1 135.0 174.1 134.5 175.1 133.7 176.1 131.5 177.1 128.6 178.1 124.5 179.1 124.4 180.1 128.4 181.1 131.1 182.2 133.0 183.2 134.2 184.2 134.6 185.2 135.0 186.2 135.8 187.2 135.6 188.2 135.8 189.2 135.9 190.2 135.9 191.2 136.3 192.2 136.3 193.2 136.3 194.2 136.3 195.2 136.2 196.2 136.4 197.3 136.3 198.3 136.0 199.3 136.0 200.3 135.9 201.3 136.3 202.3 136.0 203.3 135.8 204.3 135.5 205.3 135.4 206.3 134.8 207.3 134.7 208.3 134.1 209.3 133.3 210.3 132.1 211.3 130.6 212.4 127.6 213.4 124.0 214.4 120.2 215.4 119.1 216.4 121.8 217.4 125.7 218.4 129.0 219.4 131.3 220.4 132.6 221.4 133.7 222.4 134.2 223.4 134.9 224.4 135.6 225.4 135.2 226.4 135.6 227.4 136.0 228.5 136.0 229.5 136.2 230.5 135.7 231.5 136.1 232.5 136.5 233.5 136.2 234.5 136.4 235.5 136.0 236.5 136.6 237.5 136.9 238.5 136.4 239.5 136.5 240.5 136.6 241.5 136.9 242.5 136.4 243.6 136.2 244.6 136.9 245.6 136.3 246.6 136.7 247.6 136.1 248.6 136.5 249.6 136.6 250.6 136.4" stroke="#4f4fe6"/>
<path d="M142.9 149.5 143.9 149.7 144.9 149.5 145.9 149.7 146.9 150.0 147.9 149.2 148.9 149.7 149.9 149.7 151.0 149.5 152.0 149.9 153.0 149.9 154.0 149.7 155.0 149.7 156.0 149.5 157.0 149.3 158.0 149.6 159.0 149.4 160.0 149.4 161.0 149.7 162.0 149.4 163.0 149.6 164.0 149.2 165.0 149.3 166.1 149.3 167.1 149.6 168.1 149.2 169.1 149.3 170.1 148.9 171.1 148.9 172.1 148.8 173.1 148.2 174.1 147.8 175.1 147.4 176.1 145.8 177.1 144.0 178.1 140.5 179.1 136.9 180.1 138.2 181.1 142.0 182.2 144.9 183.2 146.2 184.2 147.2 185.2 148.1 186.2 148.1 187.2 148.7 188.2 148.8 189.2 148.8 190.2 149.0 191.2 148.6 192.2 149.1 193.2 149.4 194.2 148.9 195.2 149.3 196.2 149.2 197.3 149.8 198.3 148.9 199.3 148.9 200.3 148.9 201.3 148.8 202.3 148.6 203.3 148.8 204.3 148.5 205.3 148.7 206.3 148.4 207.3 147.8 208.3 147.6 209.3 147.3 210.3 146.2 211.3 145.0 212.4 143.3 213.4 140.1 214.4 136.3 215.4 133.1 216.4 133.2 217.4 136.2 218.4 140.8 219.4 143.3 220.4 145.0 221.4 146.2 222.4 147.4 223.4 147.8 224.4 148.1 225.4 148.2 226.4 148.7 227.4 149.0 228.5 148.7 229.5 148.8 230.5 149.0 231.5 149.3 232.5 149.1 233.5 149.3 234.5 149.1 235.5 149.6 236.5 149.4 237.5 149.4 238.5 149.7 239.5 149.4 240.5 149.5 241.5 149.6 242.5 149.4 243.6 149.8 244.6 149.5 245.6 149.4 246.6 149.5 247.6 149.3 248.6 149.8 249.6 149.9 250.6 149.5" stroke="#4646b4"/>
<path d="M142.9 161.7 143.9 161.4 144.9 161.7 145.9 162.0 146.9 161.7 147.9 162.0 148.9 162.1 149.9 161.3 151.0 161.7 152.0 161.6 153.0 161.7 154.0 161.4 155.0 161.7 156.0 161.5 157.0 162.0 158.0 162.0 159.0 161.4 160.0 161.4 161.0 161.6 162.0 161.6 163.0 161.6 164.0 161.8 165.0 161.3 166.1 161.5 167.1 161.4 168.1 161.4 169.1 161.2 170.1 161.2 171.1 161.1 172.1 161.3 173.1 160.8 174.1 160.1 175.1 160.2 176.1 159.3 177.1 157.8 178.1 155.4 179.1 151.6 180.1 149.1 181.1 151.0 182.2 155.3 183.2 157.8 184.2 159.0 185.2 160.0 186.2 160.3 187.2 160.1 188.2 160.8 189.2 161.0 190.2 161.4 191.2 161.4 192.2 161.5 193.2 161.5 194.2 161.6 195.2 161.5 196.2 161.4 197.3 161.6 198.3 161.7 199.3 161.6 200.3 161.2 201.3 161.3 202.3 161.0 203.3 160.9 204.3 161.1 205.3 160.8 206.3 161.0 207.3 160.1 208.3 160.0 209.3 159.9 210.3 159.5 211.3 158.3 212.4 157.4 213.4 155.0 214.4 151.5 215.4 147.5 216.4 144.9 217.4 146.3 218.4 150.8 219.4 154.1 220.4 156.6 221.4 158.2 222.4 158.9 223.4 159.9 224.4 159.8 225.4 160.6 226.4 160.3 227.4 161.2 228.5 161.0 229.5 161.4 230.5 161.5 231.5 161.3 232.5 161.3 233.5 161.7 234.5 161.3 235.5 161.7 236.5 161.6 237.5 161.5 238.5 161.5 239.5 162.0 240.5 161.3 241.5 161.6 242.5 161.8 243.6 161.9 244.6 162.1 245.6 162.0 246.6 161.6 247.6 161.8 248.6 162.0 249.6 161.9 250.6 161.5" stroke="#4040a0"/>
</g>
<rect x="142.7" y="1.6" width="108.1" height="167.3" fill="none" stroke="#454545" stroke-width="1.10"/>
<path d="M158.1,168.9v-1.2 M173.6,168.9v-1.6 M189.0,168.9v-1.2 M204.5,168.9v-1.6 M219.9,168.9v-1.2 M235.4,168.9v-1.6" stroke="#3a3a3a" stroke-width="0.9"/>
<text class="tl" style="font-size:10.0px" transform="translate(136.92,176.75) scale(0.7000,0.6831)">360</text>
<text class="tl" style="font-size:10.0px" transform="translate(167.81,176.75) scale(0.7000,0.6831)">380</text>
<text class="tl" style="font-size:10.0px" transform="translate(198.72,176.75) scale(0.7000,0.6831)">400</text>
<text class="tl" style="font-size:10.0px" transform="translate(229.61,176.75) scale(0.7000,0.6831)">420</text>
<text class="ax" style="font-size:10.0px" transform="translate(165.87,189.60) scale(0.7945,0.8285)">Raman shift (cm<tspan style="font-size:4.50px" dy="-5.60">-1</tspan><tspan dy="5.60">)</tspan></text>
<text class="yl" style="font-size:10.0px" transform="translate(137.80,125.48) rotate(-90) scale(0.8592,0.8140)">Intensity (arb. units)</text>
<text class="pl" style="font-size:10.0px" transform="translate(144.47,12.38) scale(1.0620,1.0182)">(b)</text>
<text class="ly" style="font-size:10.0px" transform="translate(236.38,12.90) scale(0.9434,0.9738)">3L</text>
<g fill="none" stroke-width="1.2" stroke-linejoin="round">
<path d="M270.7 20.7 271.7 20.7 272.7 20.6 273.7 20.7 274.7 20.7 275.7 20.7 276.7 20.7 277.7 20.7 278.7 20.7 279.7 20.6 280.7 20.6 281.7 20.6 282.7 20.6 283.7 20.5 284.7 20.6 285.8 20.6 286.8 20.5 287.8 20.5 288.8 20.4 289.8 20.3 290.8 20.2 291.8 20.1 292.8 19.9 293.8 19.7 294.8 19.4 295.8 18.9 296.8 18.2 297.8 17.1 298.8 15.2 299.8 12.5 300.8 10.5 301.8 11.2 302.8 13.8 303.8 16.1 304.8 17.7 305.8 18.4 306.8 19.1 307.8 19.5 308.8 19.7 309.8 19.9 310.8 20.0 311.8 20.1 312.8 20.1 313.9 20.2 314.9 20.3 315.9 20.2 316.9 20.2 317.9 20.2 318.9 20.3 319.9 20.2 320.9 20.2 321.9 20.1 322.9 20.2 323.9 20.1 324.9 20.1 325.9 20.0 326.9 19.9 327.9 19.7 328.9 19.6 329.9 19.5 330.9 19.2 331.9 18.9 332.9 18.5 333.9 18.1 334.9 17.3 335.9 16.4 336.9 15.2 337.9 13.5 338.9 11.2 339.9 8.9 340.9 7.4 342.0 7.6 343.0 9.3 344.0 11.6 345.0 13.7 346.0 15.3 347.0 16.6 348.0 17.5 349.0 18.1 350.0 18.7 351.0 19.0 352.0 19.3 353.0 19.4 354.0 19.6 355.0 19.9 356.0 20.0 357.0 20.1 358.0 20.2 359.0 20.2 360.0 20.3 361.0 20.3 362.0 20.4 363.0 20.4 364.0 20.5 365.0 20.5 366.0 20.5 367.0 20.5 368.0 20.5 369.0 20.6 370.1 20.5 371.1 20.6 372.1 20.6 373.1 20.7 374.1 20.7 375.1 20.6 376.1 20.6 377.1 20.6 378.1 20.6 379.1 20.7 380.1 20.7 381.1 20.7 382.1 20.6 383.1 20.7 384.1 20.7" stroke="#ae4482"/>
<path d="M270.7 31.6 271.7 31.6 272.7 31.6 273.7 31.6 274.7 31.5 275.7 31.6 276.7 31.6 277.7 31.5 278.7 31.5 279.7 31.5 280.7 31.5 281.7 31.6 282.7 31.5 283.7 31.6 284.7 31.4 285.8 31.5 286.8 31.4 287.8 31.4 288.8 31.4 289.8 31.3 290.8 31.2 291.8 31.1 292.8 30.9 293.8 30.8 294.8 30.6 295.8 30.4 296.8 29.8 297.8 29.1 298.8 28.0 299.8 26.1 300.8 23.6 301.8 22.2 302.8 23.6 303.8 26.1 304.8 28.0 305.8 29.0 306.8 29.9 307.8 30.3 308.8 30.5 309.8 30.9 310.8 30.9 311.8 31.0 312.8 31.1 313.9 31.0 314.9 31.3 315.9 31.1 316.9 31.1 317.9 31.1 318.9 31.2 319.9 31.2 320.9 31.2 321.9 31.1 322.9 31.2 323.9 31.1 324.9 30.9 325.9 31.0 326.9 30.9 327.9 30.7 328.9 30.7 329.9 30.4 330.9 30.3 331.9 30.1 332.9 29.7 333.9 29.4 334.9 28.8 335.9 28.0 336.9 27.0 337.9 25.5 338.9 23.7 339.9 21.3 340.9 19.1 342.0 18.0 343.0 18.9 344.0 21.0 345.0 23.4 346.0 25.3 347.0 26.8 348.0 27.8 349.0 28.6 350.0 29.3 351.0 29.7 352.0 30.0 353.0 30.3 354.0 30.4 355.0 30.6 356.0 30.8 357.0 30.9 358.0 30.9 359.0 31.1 360.0 31.2 361.0 31.1 362.0 31.3 363.0 31.3 364.0 31.3 365.0 31.4 366.0 31.3 367.0 31.5 368.0 31.5 369.0 31.5 370.1 31.4 371.1 31.5 372.1 31.5 373.1 31.6 374.1 31.5 375.1 31.6 376.1 31.5 377.1 31.5 378.1 31.6 379.1 31.5 380.1 31.5 381.1 31.5 382.1 31.6 383.1 31.6 384.1 31.5" stroke="#f2404a"/>
<path d="M270.7 43.6 271.7 43.7 272.7 43.5 273.7 43.6 274.7 43.5 275.7 43.6 276.7 43.6 277.7 43.6 278.7 43.5 279.7 43.5 280.7 43.6 281.7 43.5 282.7 43.5 283.7 43.6 284.7 43.6 285.8 43.5 286.8 43.4 287.8 43.4 288.8 43.4 289.8 43.3 290.8 43.2 291.8 43.3 292.8 43.1 293.8 43.0 294.8 42.8 295.8 42.6 296.8 42.2 297.8 41.6 298.8 40.8 299.8 39.4 300.8 37.0 301.8 34.6 302.8 33.8 303.8 35.8 304.8 38.3 305.8 40.1 306.8 41.3 307.8 41.8 308.8 42.3 309.8 42.6 310.8 42.8 311.8 42.9 312.8 43.0 313.9 43.0 314.9 43.1 315.9 43.1 316.9 43.2 317.9 43.1 318.9 43.3 319.9 43.3 320.9 43.1 321.9 43.2 322.9 43.1 323.9 43.1 324.9 43.1 325.9 43.0 326.9 42.8 327.9 43.0 328.9 42.7 329.9 42.5 330.9 42.4 331.9 42.2 332.9 41.9 333.9 41.5 334.9 41.2 335.9 40.6 336.9 39.7 337.9 38.5 338.9 36.9 339.9 34.8 340.9 32.4 342.0 30.3 343.0 29.9 344.0 31.4 345.0 33.8 346.0 36.2 347.0 38.0 348.0 39.2 349.0 40.3 350.0 41.0 351.0 41.4 352.0 41.9 353.0 42.1 354.0 42.4 355.0 42.6 356.0 42.7 357.0 42.9 358.0 43.0 359.0 42.9 360.0 43.2 361.0 43.2 362.0 43.2 363.0 43.3 364.0 43.4 365.0 43.2 366.0 43.4 367.0 43.3 368.0 43.4 369.0 43.4 370.1 43.4 371.1 43.4 372.1 43.4 373.1 43.5 374.1 43.5 375.1 43.5 376.1 43.5 377.1 43.5 378.1 43.6 379.1 43.6 380.1 43.5 381.1 43.6 382.1 43.6 383.1 43.6 384.1 43.6" stroke="#f89a62"/>
<path d="M270.7 55.8 271.7 55.8 272.7 55.8 273.7 55.7 274.7 55.8 275.7 55.6 276.7 55.7 277.7 55.7 278.7 55.8 279.7 55.9 280.7 55.8 281.7 55.7 282.7 55.6 283.7 55.8 284.7 55.6 285.8 55.7 286.8 55.6 287.8 55.7 288.8 55.6 289.8 55.6 290.8 55.4 291.8 55.4 292.8 55.4 293.8 55.2 294.8 55.1 295.8 54.9 296.8 54.6 297.8 54.2 298.8 53.6 299.8 52.6 300.8 51.0 301.8 48.3 302.8 45.7 303.8 45.8 304.8 48.4 305.8 50.9 306.8 52.6 307.8 53.6 308.8 54.2 309.8 54.4 310.8 54.8 311.8 55.0 312.8 55.2 313.9 55.2 314.9 55.2 315.9 55.3 316.9 55.4 317.9 55.4 318.9 55.4 319.9 55.4 320.9 55.3 321.9 55.3 322.9 55.2 323.9 55.4 324.9 55.3 325.9 55.2 326.9 55.2 327.9 55.2 328.9 55.1 329.9 54.9 330.9 54.8 331.9 54.6 332.9 54.3 333.9 54.0 334.9 53.7 335.9 53.2 336.9 52.6 337.9 51.6 338.9 50.3 339.9 48.5 340.9 46.1 342.0 43.7 343.0 42.1 344.0 42.4 345.0 44.4 346.0 47.0 347.0 49.1 348.0 50.8 349.0 51.9 350.0 52.8 351.0 53.4 352.0 53.9 353.0 54.2 354.0 54.5 355.0 54.8 356.0 54.9 357.0 55.0 358.0 55.1 359.0 55.1 360.0 55.3 361.0 55.4 362.0 55.4 363.0 55.5 364.0 55.5 365.0 55.5 366.0 55.5 367.0 55.6 368.0 55.6 369.0 55.6 370.1 55.7 371.1 55.7 372.1 55.7 373.1 55.6 374.1 55.7 375.1 55.6 376.1 55.7 377.1 55.7 378.1 55.7 379.1 55.7 380.1 55.7 381.1 55.7 382.1 55.8 383.1 55.8 384.1 55.7" stroke="#f6928a"/>
<path d="M270.7 67.7 271.7 67.7 272.7 67.7 273.7 67.8 274.7 67.6 275.7 67.7 276.7 67.7 277.7 67.6 278.7 67.5 279.7 67.7 280.7 67.6 281.7 67.6 282.7 67.6 283.7 67.6 284.7 67.6 285.8 67.5 286.8 67.5 287.8 67.5 288.8 67.4 289.8 67.4 290.8 67.4 291.8 67.3 292.8 67.2 293.8 67.2 294.8 67.1 295.8 67.0 296.8 66.7 297.8 66.4 298.8 65.9 299.8 65.2 300.8 64.1 301.8 62.0 302.8 59.0 303.8 56.7 304.8 57.8 305.8 60.7 306.8 63.2 307.8 64.7 308.8 65.6 309.8 66.1 310.8 66.5 311.8 66.7 312.8 66.9 313.9 67.1 314.9 67.2 315.9 67.2 316.9 67.2 317.9 67.3 318.9 67.3 319.9 67.3 320.9 67.3 321.9 67.3 322.9 67.3 323.9 67.3 324.9 67.2 325.9 67.1 326.9 67.1 327.9 67.1 328.9 66.9 329.9 66.9 330.9 66.7 331.9 66.6 332.9 66.5 333.9 66.2 334.9 66.0 335.9 65.6 336.9 65.1 337.9 64.2 338.9 63.2 339.9 61.7 340.9 59.7 342.0 57.1 343.0 54.8 344.0 53.8 345.0 54.9 346.0 57.3 347.0 59.9 348.0 61.9 349.0 63.3 350.0 64.3 351.0 65.1 352.0 65.5 353.0 66.1 354.0 66.3 355.0 66.6 356.0 66.6 357.0 66.9 358.0 66.9 359.0 67.1 360.0 67.2 361.0 67.3 362.0 67.3 363.0 67.4 364.0 67.3 365.0 67.3 366.0 67.4 367.0 67.5 368.0 67.5 369.0 67.6 370.1 67.5 371.1 67.5 372.1 67.6 373.1 67.6 374.1 67.7 375.1 67.7 376.1 67.7 377.1 67.6 378.1 67.6 379.1 67.7 380.1 67.7 381.1 67.6 382.1 67.7 383.1 67.7 384.1 67.7" stroke="#f486c8"/>
<path d="M270.7 78.1 271.7 78.0 272.7 78.0 273.7 77.9 274.7 78.1 275.7 78.0 276.7 78.0 277.7 78.0 278.7 78.0 279.7 78.0 280.7 77.9 281.7 78.0 282.7 77.9 283.7 77.9 284.7 77.9 285.8 77.9 286.8 77.8 287.8 77.8 288.8 77.8 289.8 77.8 290.8 77.8 291.8 77.7 292.8 77.7 293.8 77.5 294.8 77.5 295.8 77.4 296.8 77.1 297.8 76.9 298.8 76.6 299.8 75.9 300.8 75.1 301.8 73.6 302.8 71.1 303.8 67.9 304.8 66.0 305.8 67.9 306.8 71.4 307.8 73.7 308.8 75.1 309.8 76.0 310.8 76.5 311.8 76.8 312.8 76.9 313.9 77.3 314.9 77.3 315.9 77.4 316.9 77.5 317.9 77.6 318.9 77.5 319.9 77.6 320.9 77.5 321.9 77.5 322.9 77.5 323.9 77.5 324.9 77.5 325.9 77.5 326.9 77.5 327.9 77.4 328.9 77.4 329.9 77.2 330.9 77.2 331.9 76.9 332.9 76.8 333.9 76.7 334.9 76.4 335.9 76.1 336.9 75.5 337.9 74.9 338.9 74.1 339.9 72.9 340.9 71.1 342.0 68.8 343.0 66.0 344.0 63.8 345.0 63.5 346.0 65.4 347.0 68.2 348.0 70.7 349.0 72.5 350.0 73.9 351.0 74.8 352.0 75.5 353.0 76.0 354.0 76.4 355.0 76.6 356.0 77.0 357.0 77.0 358.0 77.3 359.0 77.2 360.0 77.5 361.0 77.5 362.0 77.6 363.0 77.5 364.0 77.7 365.0 77.7 366.0 77.7 367.0 77.8 368.0 77.8 369.0 77.8 370.1 77.8 371.1 77.8 372.1 77.9 373.1 77.9 374.1 77.9 375.1 77.9 376.1 77.8 377.1 77.9 378.1 77.9 379.1 78.0 380.1 78.0 381.1 77.9 382.1 78.0 383.1 78.0 384.1 78.0" stroke="#f48af4"/>
<path d="M270.7 88.2 271.7 88.1 272.7 88.3 273.7 88.2 274.7 88.2 275.7 88.2 276.7 88.2 277.7 88.2 278.7 88.1 279.7 88.2 280.7 88.2 281.7 88.1 282.7 88.1 283.7 88.1 284.7 88.2 285.8 88.0 286.8 88.1 287.8 88.0 288.8 88.0 289.8 88.0 290.8 88.0 291.8 87.8 292.8 87.8 293.8 87.9 294.8 87.8 295.8 87.5 296.8 87.5 297.8 87.3 298.8 87.0 299.8 86.6 300.8 85.9 301.8 84.9 302.8 83.2 303.8 80.4 304.8 76.8 305.8 75.9 306.8 78.8 307.8 82.1 308.8 84.2 309.8 85.5 310.8 86.3 311.8 86.7 312.8 87.1 313.9 87.2 314.9 87.4 315.9 87.5 316.9 87.6 317.9 87.7 318.9 87.7 319.9 87.7 320.9 87.7 321.9 87.8 322.9 87.9 323.9 87.9 324.9 87.7 325.9 87.7 326.9 87.7 327.9 87.7 328.9 87.6 329.9 87.6 330.9 87.4 331.9 87.3 332.9 87.3 333.9 87.1 334.9 87.0 335.9 86.6 336.9 86.3 337.9 85.7 338.9 85.0 339.9 84.1 340.9 82.7 342.0 80.9 343.0 78.3 344.0 75.6 345.0 73.8 346.0 74.5 347.0 77.0 348.0 79.7 349.0 81.9 350.0 83.5 351.0 84.6 352.0 85.4 353.0 86.1 354.0 86.5 355.0 86.9 356.0 87.0 357.0 87.2 358.0 87.5 359.0 87.5 360.0 87.5 361.0 87.7 362.0 87.7 363.0 87.8 364.0 87.8 365.0 88.0 366.0 87.9 367.0 87.9 368.0 88.0 369.0 88.0 370.1 88.0 371.1 88.1 372.1 88.1 373.1 88.1 374.1 88.1 375.1 88.1 376.1 88.1 377.1 88.1 378.1 88.2 379.1 88.2 380.1 88.2 381.1 88.1 382.1 88.1 383.1 88.1 384.1 88.2" stroke="#e438e6"/>
<path d="M270.7 99.6 271.7 99.5 272.7 99.5 273.7 99.6 274.7 99.5 275.7 99.5 276.7 99.5 277.7 99.5 278.7 99.6 279.7 99.5 280.7 99.5 281.7 99.5 282.7 99.5 283.7 99.5 284.7 99.4 285.8 99.4 286.8 99.4 287.8 99.4 288.8 99.4 289.8 99.3 290.8 99.3 291.8 99.3 292.8 99.2 293.8 99.1 294.8 99.1 295.8 98.9 296.8 98.9 297.8 98.7 298.8 98.6 299.8 98.2 300.8 97.7 301.8 97.0 302.8 95.8 303.8 93.8 304.8 90.6 305.8 87.2 306.8 87.4 307.8 90.9 308.8 94.0 309.8 95.9 310.8 97.0 311.8 97.8 312.8 98.2 313.9 98.5 314.9 98.6 315.9 98.9 316.9 98.9 317.9 98.8 318.9 99.0 319.9 99.1 320.9 99.1 321.9 99.0 322.9 99.1 323.9 99.0 324.9 99.1 325.9 99.1 326.9 98.9 327.9 99.0 328.9 99.0 329.9 98.9 330.9 98.8 331.9 98.7 332.9 98.6 333.9 98.5 334.9 98.4 335.9 98.1 336.9 97.8 337.9 97.4 338.9 96.9 339.9 96.1 340.9 95.0 342.0 93.4 343.0 91.3 344.0 88.5 345.0 85.8 346.0 84.9 347.0 86.4 348.0 89.3 349.0 91.8 350.0 94.0 351.0 95.3 352.0 96.4 353.0 97.0 354.0 97.5 355.0 97.9 356.0 98.2 357.0 98.5 358.0 98.5 359.0 98.7 360.0 98.8 361.0 99.0 362.0 99.1 363.0 99.0 364.0 99.1 365.0 99.2 366.0 99.2 367.0 99.3 368.0 99.2 369.0 99.3 370.1 99.3 371.1 99.4 372.1 99.3 373.1 99.4 374.1 99.3 375.1 99.3 376.1 99.4 377.1 99.4 378.1 99.4 379.1 99.6 380.1 99.4 381.1 99.5 382.1 99.5 383.1 99.5 384.1 99.5" stroke="#a64ce8"/>
<path d="M270.7 111.7 271.7 111.7 272.7 111.6 273.7 111.7 274.7 111.8 275.7 111.6 276.7 111.7 277.7 111.6 278.7 111.7 279.7 111.7 280.7 111.6 281.7 111.6 282.7 111.7 283.7 111.6 284.7 111.7 285.8 111.6 286.8 111.6 287.8 111.7 288.8 111.6 289.8 111.5 290.8 111.4 291.8 111.4 292.8 111.4 293.8 111.4 294.8 111.4 295.8 111.3 296.8 111.3 297.8 111.1 298.8 111.1 299.8 110.7 300.8 110.4 301.8 109.8 302.8 109.2 303.8 108.0 304.8 105.9 305.8 102.7 306.8 100.0 307.8 101.4 308.8 104.7 309.8 107.3 310.8 108.9 311.8 109.7 312.8 110.2 313.9 110.5 314.9 110.8 315.9 111.0 316.9 111.1 317.9 111.2 318.9 111.2 319.9 111.3 320.9 111.3 321.9 111.2 322.9 111.4 323.9 111.3 324.9 111.3 325.9 111.3 326.9 111.2 327.9 111.2 328.9 111.2 329.9 111.2 330.9 111.1 331.9 111.0 332.9 110.9 333.9 110.8 334.9 110.6 335.9 110.5 336.9 110.3 337.9 109.9 338.9 109.5 339.9 109.0 340.9 108.2 342.0 106.9 343.0 105.3 344.0 102.9 345.0 100.1 346.0 97.7 347.0 97.8 348.0 99.9 349.0 102.9 350.0 105.3 351.0 106.9 352.0 108.2 353.0 109.0 354.0 109.6 355.0 110.1 356.0 110.3 357.0 110.5 358.0 110.8 359.0 110.9 360.0 111.1 361.0 111.2 362.0 111.2 363.0 111.3 364.0 111.2 365.0 111.4 366.0 111.4 367.0 111.4 368.0 111.6 369.0 111.6 370.1 111.5 371.1 111.6 372.1 111.5 373.1 111.5 374.1 111.6 375.1 111.7 376.1 111.7 377.1 111.6 378.1 111.7 379.1 111.6 380.1 111.6 381.1 111.7 382.1 111.6 383.1 111.6 384.1 111.6" stroke="#a8a4ee"/>
<path d="M270.7 123.2 271.7 123.1 272.7 123.1 273.7 123.1 274.7 123.2 275.7 123.1 276.7 123.1 277.7 123.1 278.7 123.1 279.7 123.0 280.7 123.1 281.7 123.2 282.7 123.1 283.7 123.1 284.7 123.0 285.8 123.1 286.8 123.0 287.8 123.0 288.8 123.0 289.8 123.0 290.8 123.0 291.8 123.0 292.8 122.9 293.8 122.9 294.8 122.9 295.8 122.7 296.8 122.7 297.8 122.6 298.8 122.5 299.8 122.3 300.8 122.1 301.8 121.8 302.8 121.3 303.8 120.6 304.8 119.1 305.8 116.8 306.8 113.4 307.8 111.6 308.8 114.0 309.8 117.1 310.8 119.3 311.8 120.6 312.8 121.3 313.9 121.8 314.9 122.1 315.9 122.4 316.9 122.4 317.9 122.6 318.9 122.6 319.9 122.6 320.9 122.6 321.9 122.7 322.9 122.8 323.9 122.7 324.9 122.7 325.9 122.7 326.9 122.8 327.9 122.7 328.9 122.7 329.9 122.6 330.9 122.5 331.9 122.5 332.9 122.5 333.9 122.4 334.9 122.2 335.9 122.1 336.9 121.9 337.9 121.6 338.9 121.3 339.9 120.9 340.9 120.3 342.0 119.4 343.0 118.2 344.0 116.2 345.0 113.6 346.0 110.7 347.0 109.2 348.0 110.1 349.0 112.9 350.0 115.6 351.0 117.7 352.0 119.1 353.0 120.1 354.0 120.7 355.0 121.3 356.0 121.7 357.0 121.9 358.0 122.2 359.0 122.3 360.0 122.3 361.0 122.5 362.0 122.6 363.0 122.6 364.0 122.6 365.0 122.8 366.0 122.7 367.0 122.8 368.0 122.9 369.0 122.9 370.1 123.0 371.1 123.0 372.1 123.0 373.1 122.9 374.1 123.0 375.1 123.0 376.1 123.0 377.1 123.0 378.1 123.0 379.1 123.0 380.1 123.1 381.1 123.1 382.1 123.0 383.1 123.1 384.1 123.1" stroke="#44a0f4"/>
<path d="M270.7 134.7 271.7 134.8 272.7 134.9 273.7 134.8 274.7 134.7 275.7 134.8 276.7 134.7 277.7 134.8 278.7 134.8 279.7 134.8 280.7 134.8 281.7 134.7 282.7 134.8 283.7 134.7 284.7 134.8 285.8 134.8 286.8 134.7 287.8 134.7 288.8 134.7 289.8 134.8 290.8 134.7 291.8 134.7 292.8 134.5 293.8 134.6 294.8 134.6 295.8 134.6 296.8 134.5 297.8 134.5 298.8 134.3 299.8 134.2 300.8 134.0 301.8 133.8 302.8 133.5 303.8 132.9 304.8 132.1 305.8 130.6 306.8 127.9 307.8 124.6 308.8 123.7 309.8 126.6 310.8 129.7 311.8 131.5 312.8 132.6 313.9 133.2 314.9 133.6 315.9 133.9 316.9 134.1 317.9 134.2 318.9 134.3 319.9 134.3 320.9 134.5 321.9 134.4 322.9 134.5 323.9 134.5 324.9 134.5 325.9 134.3 326.9 134.4 327.9 134.4 328.9 134.4 329.9 134.3 330.9 134.4 331.9 134.3 332.9 134.1 333.9 134.2 334.9 134.1 335.9 133.9 336.9 133.8 337.9 133.6 338.9 133.3 339.9 132.9 340.9 132.4 342.0 131.8 343.0 130.8 344.0 129.3 345.0 127.1 346.0 124.3 347.0 121.7 348.0 121.0 349.0 122.7 350.0 125.6 351.0 128.3 352.0 130.1 353.0 131.3 354.0 132.1 355.0 132.8 356.0 133.2 357.0 133.5 358.0 133.7 359.0 133.9 360.0 134.0 361.0 134.2 362.0 134.2 363.0 134.3 364.0 134.4 365.0 134.5 366.0 134.5 367.0 134.5 368.0 134.6 369.0 134.5 370.1 134.6 371.1 134.6 372.1 134.6 373.1 134.6 374.1 134.7 375.1 134.7 376.1 134.6 377.1 134.8 378.1 134.8 379.1 134.7 380.1 134.8 381.1 134.8 382.1 134.8 383.1 134.7 384.1 134.7" stroke="#4f4fe6"/>
<path d="M270.7 147.7 271.7 147.7 272.7 147.7 273.7 147.8 274.7 147.7 275.7 147.7 276.7 147.7 277.7 147.7 278.7 147.6 279.7 147.7 280.7 147.6 281.7 147.7 282.7 147.7 283.7 147.7 284.7 147.7 285.8 147.7 286.8 147.6 287.8 147.6 288.8 147.6 289.8 147.6 290.8 147.6 291.8 147.7 292.8 147.6 293.8 147.6 294.8 147.5 295.8 147.5 296.8 147.4 297.8 147.5 298.8 147.4 299.8 147.2 300.8 147.1 301.8 146.9 302.8 146.6 303.8 146.2 304.8 145.6 305.8 144.7 306.8 142.9 307.8 140.0 308.8 136.7 309.8 137.0 310.8 140.4 311.8 143.2 312.8 144.8 313.9 145.7 314.9 146.3 315.9 146.6 316.9 146.8 317.9 147.0 318.9 147.2 319.9 147.2 320.9 147.2 321.9 147.3 322.9 147.4 323.9 147.2 324.9 147.4 325.9 147.4 326.9 147.3 327.9 147.4 328.9 147.3 329.9 147.2 330.9 147.2 331.9 147.2 332.9 147.2 333.9 147.1 334.9 147.0 335.9 147.0 336.9 146.9 337.9 146.7 338.9 146.4 339.9 146.2 340.9 145.8 342.0 145.4 343.0 144.5 344.0 143.3 345.0 141.7 346.0 139.4 347.0 136.6 348.0 134.2 349.0 134.6 350.0 137.0 351.0 139.9 352.0 142.1 353.0 143.6 354.0 144.8 355.0 145.4 356.0 146.0 357.0 146.3 358.0 146.6 359.0 146.8 360.0 146.9 361.0 147.1 362.0 147.1 363.0 147.1 364.0 147.2 365.0 147.3 366.0 147.4 367.0 147.5 368.0 147.4 369.0 147.5 370.1 147.5 371.1 147.4 372.1 147.5 373.1 147.5 374.1 147.5 375.1 147.7 376.1 147.7 377.1 147.6 378.1 147.7 379.1 147.6 380.1 147.7 381.1 147.6 382.1 147.6 383.1 147.6 384.1 147.7" stroke="#4444b2"/>
<path d="M270.7 160.5 271.7 160.5 272.7 160.6 273.7 160.5 274.7 160.5 275.7 160.5 276.7 160.4 277.7 160.4 278.7 160.5 279.7 160.5 280.7 160.5 281.7 160.5 282.7 160.5 283.7 160.4 284.7 160.5 285.8 160.4 286.8 160.5 287.8 160.5 288.8 160.4 289.8 160.4 290.8 160.3 291.8 160.4 292.8 160.4 293.8 160.3 294.8 160.3 295.8 160.2 296.8 160.3 297.8 160.2 298.8 160.2 299.8 160.1 300.8 160.0 301.8 159.9 302.8 159.6 303.8 159.5 304.8 159.0 305.8 158.4 306.8 157.2 307.8 155.3 308.8 152.1 309.8 149.4 310.8 150.9 311.8 154.3 312.8 156.7 313.9 158.0 314.9 158.9 315.9 159.2 316.9 159.5 317.9 159.8 318.9 159.8 319.9 160.1 320.9 160.1 321.9 160.2 322.9 160.2 323.9 160.2 324.9 160.2 325.9 160.2 326.9 160.1 327.9 160.2 328.9 160.2 329.9 160.2 330.9 160.0 331.9 160.2 332.9 160.0 333.9 159.9 334.9 159.9 335.9 159.9 336.9 159.7 337.9 159.6 338.9 159.4 339.9 159.2 340.9 158.8 342.0 158.5 343.0 157.8 344.0 156.9 345.0 155.7 346.0 153.8 347.0 151.0 348.0 147.9 349.0 146.4 350.0 147.8 351.0 150.7 352.0 153.6 353.0 155.5 354.0 156.9 355.0 157.8 356.0 158.4 357.0 158.8 358.0 159.2 359.0 159.5 360.0 159.7 361.0 159.7 362.0 159.9 363.0 159.9 364.0 160.1 365.0 160.1 366.0 160.1 367.0 160.2 368.0 160.2 369.0 160.2 370.1 160.3 371.1 160.4 372.1 160.3 373.1 160.4 374.1 160.3 375.1 160.5 376.1 160.5 377.1 160.5 378.1 160.5 379.1 160.4 380.1 160.4 381.1 160.5 382.1 160.5 383.1 160.4 384.1 160.5" stroke="#467aa8"/>
</g>
<rect x="270.5" y="1.5" width="113.8" height="167.7" fill="none" stroke="#454545" stroke-width="1.10"/>
<path d="M286.8,169.2v-1.2 M303.0,169.2v-1.6 M319.3,169.2v-1.2 M335.5,169.2v-1.6 M351.8,169.2v-1.2 M368.0,169.2v-1.6" stroke="#3a3a3a" stroke-width="0.9"/>
<text class="tl" style="font-size:10.0px" transform="translate(264.73,177.15) scale(0.7000,0.6831)">360</text>
<text class="tl" style="font-size:10.0px" transform="translate(297.24,177.15) scale(0.7000,0.6831)">380</text>
<text class="tl" style="font-size:10.0px" transform="translate(329.78,177.15) scale(0.7000,0.6831)">400</text>
<text class="tl" style="font-size:10.0px" transform="translate(362.30,177.15) scale(0.7000,0.6831)">420</text>
<text class="ax" style="font-size:10.0px" transform="translate(298.47,190.10) scale(0.7886,0.8576)">Raman shift (cm<tspan style="font-size:4.50px" dy="-5.60">-1</tspan><tspan dy="5.60">)</tspan></text>
<text class="yl" style="font-size:10.0px" transform="translate(265.20,126.38) rotate(-90) scale(0.8613,0.8430)">Intensity (arb. units)</text>
<text class="pl" style="font-size:10.0px" transform="translate(274.32,12.38) scale(0.9537,1.0182)">(c)</text>
<text class="ly" style="font-size:10.0px" transform="translate(368.66,12.90) scale(0.9634,1.0174)">4L</text>
<g fill="none" stroke-width="1.2" stroke-linejoin="round">
<path d="M404.9 23.0 405.9 22.9 406.9 23.0 407.9 22.9 408.9 22.8 409.9 22.9 410.9 22.8 411.9 22.8 412.9 22.8 413.9 22.7 414.9 22.7 415.9 22.6 416.9 22.6 417.9 22.4 419.0 22.3 420.0 22.1 421.0 21.8 422.0 21.5 423.0 21.1 424.0 20.3 425.0 19.3 426.0 17.7 427.0 15.4 428.0 12.9 429.0 11.5 430.0 12.8 431.0 15.3 432.0 17.5 433.0 19.2 434.0 20.2 435.0 20.9 436.0 21.3 437.0 21.7 438.0 21.9 439.0 22.1 440.0 22.2 441.0 22.3 442.0 22.3 443.0 22.4 444.0 22.4 445.0 22.3 446.1 22.4 447.1 22.4 448.1 22.3 449.1 22.4 450.1 22.3 451.1 22.3 452.1 22.2 453.1 22.1 454.1 22.0 455.1 21.9 456.1 21.7 457.1 21.5 458.1 21.3 459.1 21.0 460.1 20.6 461.1 20.1 462.1 19.6 463.1 18.8 464.1 17.8 465.1 16.4 466.1 14.6 467.1 12.5 468.1 10.1 469.1 8.2 470.1 7.4 471.1 8.3 472.1 10.3 473.1 12.6 474.2 14.8 475.2 16.5 476.2 17.9 477.2 18.9 478.2 19.7 479.2 20.3 480.2 20.7 481.2 21.1 482.2 21.4 483.2 21.6 484.2 21.8 485.2 22.0 486.2 22.1 487.2 22.2 488.2 22.3 489.2 22.4 490.2 22.5 491.2 22.5 492.2 22.6 493.2 22.6 494.2 22.7 495.2 22.7 496.2 22.8 497.2 22.8 498.2 22.8 499.2 22.8 500.2 22.9 501.3 22.9 502.3 22.9 503.3 22.9 504.3 22.9 505.3 22.9 506.3 22.9 507.3 22.9 508.3 23.0 509.3 23.0 510.3 23.0 511.3 23.0 512.3 23.0 513.3 23.0 514.3 23.0" stroke="#ae4482"/>
<path d="M404.9 34.2 405.9 34.2 406.9 34.1 407.9 34.1 408.9 34.2 409.9 34.2 410.9 34.2 411.9 34.1 412.9 34.0 413.9 34.0 414.9 34.0 415.9 33.9 416.9 33.9 417.9 33.9 419.0 33.8 420.0 33.7 421.0 33.5 422.0 33.4 423.0 33.1 424.0 32.7 425.0 32.3 426.0 31.5 427.0 30.4 428.0 28.7 429.0 26.7 430.0 25.5 431.0 26.3 432.0 28.3 433.0 30.1 434.0 31.3 435.0 32.1 436.0 32.6 437.0 33.0 438.0 33.2 439.0 33.4 440.0 33.5 441.0 33.5 442.0 33.7 443.0 33.7 444.0 33.7 445.0 33.8 446.1 33.8 447.1 33.8 448.1 33.7 449.1 33.7 450.1 33.7 451.1 33.6 452.1 33.6 453.1 33.5 454.1 33.4 455.1 33.4 456.1 33.2 457.1 33.2 458.1 33.0 459.1 32.7 460.1 32.5 461.1 32.2 462.1 31.8 463.1 31.3 464.1 30.7 465.1 29.8 466.1 28.6 467.1 27.0 468.1 25.2 469.1 23.1 470.1 21.5 471.1 21.1 472.1 22.0 473.1 23.9 474.2 25.9 475.2 27.7 476.2 29.1 477.2 30.2 478.2 31.0 479.2 31.6 480.2 32.0 481.2 32.4 482.2 32.7 483.2 32.9 484.2 33.1 485.2 33.3 486.2 33.4 487.2 33.5 488.2 33.6 489.2 33.7 490.2 33.8 491.2 33.8 492.2 33.8 493.2 33.9 494.2 34.0 495.2 34.0 496.2 34.0 497.2 34.0 498.2 34.0 499.2 34.0 500.2 34.1 501.3 34.1 502.3 34.1 503.3 34.1 504.3 34.1 505.3 34.1 506.3 34.1 507.3 34.1 508.3 34.2 509.3 34.2 510.3 34.1 511.3 34.2 512.3 34.2 513.3 34.1 514.3 34.2" stroke="#f2404a"/>
<path d="M404.9 46.0 405.9 46.0 406.9 46.0 407.9 46.0 408.9 45.9 409.9 45.9 410.9 45.9 411.9 45.9 412.9 45.9 413.9 45.9 414.9 45.8 415.9 45.8 416.9 45.8 417.9 45.7 419.0 45.7 420.0 45.6 421.0 45.5 422.0 45.4 423.0 45.2 424.0 45.0 425.0 44.7 426.0 44.2 427.0 43.5 428.0 42.3 429.0 40.7 430.0 38.7 431.0 37.5 432.0 38.2 433.0 40.2 434.0 42.0 435.0 43.2 436.0 44.0 437.0 44.5 438.0 44.8 439.0 45.1 440.0 45.2 441.0 45.4 442.0 45.4 443.0 45.5 444.0 45.5 445.0 45.5 446.1 45.5 447.1 45.6 448.1 45.6 449.1 45.6 450.1 45.5 451.1 45.6 452.1 45.5 453.1 45.5 454.1 45.4 455.1 45.3 456.1 45.3 457.1 45.1 458.1 45.0 459.1 45.0 460.1 44.7 461.1 44.4 462.1 44.2 463.1 43.8 464.1 43.4 465.1 42.8 466.1 41.9 467.1 40.7 468.1 39.2 469.1 37.5 470.1 35.5 471.1 34.0 472.1 33.8 473.1 34.9 474.2 36.7 475.2 38.6 476.2 40.3 477.2 41.5 478.2 42.5 479.2 43.2 480.2 43.8 481.2 44.1 482.2 44.5 483.2 44.6 484.2 44.9 485.2 45.1 486.2 45.2 487.2 45.3 488.2 45.4 489.2 45.5 490.2 45.6 491.2 45.6 492.2 45.6 493.2 45.7 494.2 45.7 495.2 45.7 496.2 45.8 497.2 45.8 498.2 45.8 499.2 45.9 500.2 45.9 501.3 45.9 502.3 46.0 503.3 45.9 504.3 45.9 505.3 45.9 506.3 46.0 507.3 45.9 508.3 46.0 509.3 46.0 510.3 46.0 511.3 46.0 512.3 46.0 513.3 46.0 514.3 46.0" stroke="#f89a62"/>
<path d="M404.9 57.4 405.9 57.4 406.9 57.4 407.9 57.4 408.9 57.3 409.9 57.4 410.9 57.3 411.9 57.3 412.9 57.3 413.9 57.3 414.9 57.2 415.9 57.3 416.9 57.3 417.9 57.1 419.0 57.1 420.0 57.1 421.0 57.0 422.0 56.9 423.0 56.8 424.0 56.6 425.0 56.5 426.0 56.2 427.0 55.7 428.0 55.0 429.0 54.0 430.0 52.4 431.0 50.2 432.0 48.9 433.0 49.6 434.0 51.6 435.0 53.5 436.0 54.6 437.0 55.4 438.0 55.9 439.0 56.2 440.0 56.5 441.0 56.6 442.0 56.8 443.0 56.9 444.0 56.9 445.0 56.9 446.1 57.0 447.1 57.0 448.1 57.1 449.1 57.0 450.1 57.0 451.1 56.9 452.1 57.0 453.1 56.9 454.1 56.9 455.1 56.8 456.1 56.8 457.1 56.7 458.1 56.6 459.1 56.4 460.1 56.3 461.1 56.1 462.1 55.9 463.1 55.7 464.1 55.3 465.1 54.8 466.1 54.2 467.1 53.3 468.1 52.1 469.1 50.6 470.1 48.7 471.1 46.7 472.1 45.3 473.1 45.2 474.2 46.7 475.2 48.7 476.2 50.5 477.2 52.1 478.2 53.3 479.2 54.1 480.2 54.8 481.2 55.3 482.2 55.7 483.2 56.0 484.2 56.2 485.2 56.4 486.2 56.5 487.2 56.7 488.2 56.8 489.2 56.9 490.2 56.9 491.2 57.0 492.2 57.0 493.2 57.1 494.2 57.1 495.2 57.2 496.2 57.2 497.2 57.1 498.2 57.2 499.2 57.3 500.2 57.2 501.3 57.3 502.3 57.3 503.3 57.3 504.3 57.3 505.3 57.3 506.3 57.3 507.3 57.3 508.3 57.4 509.3 57.4 510.3 57.3 511.3 57.3 512.3 57.4 513.3 57.4 514.3 57.4" stroke="#f6928a"/>
<path d="M404.9 68.9 405.9 68.9 406.9 68.9 407.9 68.9 408.9 68.9 409.9 68.8 410.9 68.8 411.9 68.9 412.9 68.8 413.9 68.9 414.9 68.8 415.9 68.8 416.9 68.7 417.9 68.7 419.0 68.7 420.0 68.7 421.0 68.6 422.0 68.6 423.0 68.5 424.0 68.3 425.0 68.2 426.0 68.0 427.0 67.7 428.0 67.3 429.0 66.6 430.0 65.8 431.0 64.2 432.0 62.1 433.0 60.4 434.0 61.1 435.0 63.1 436.0 65.0 437.0 66.2 438.0 67.0 439.0 67.5 440.0 67.8 441.0 68.0 442.0 68.2 443.0 68.3 444.0 68.4 445.0 68.5 446.1 68.5 447.1 68.5 448.1 68.5 449.1 68.5 450.1 68.5 451.1 68.5 452.1 68.5 453.1 68.5 454.1 68.5 455.1 68.4 456.1 68.4 457.1 68.3 458.1 68.2 459.1 68.1 460.1 68.0 461.1 67.9 462.1 67.8 463.1 67.5 464.1 67.2 465.1 66.9 466.1 66.4 467.1 65.8 468.1 64.9 469.1 63.7 470.1 62.1 471.1 60.2 472.1 58.2 473.1 56.9 474.2 57.1 475.2 58.8 476.2 60.8 477.2 62.7 478.2 64.1 479.2 65.2 480.2 66.0 481.2 66.6 482.2 67.0 483.2 67.3 484.2 67.6 485.2 67.8 486.2 68.0 487.2 68.1 488.2 68.2 489.2 68.3 490.2 68.4 491.2 68.5 492.2 68.5 493.2 68.6 494.2 68.6 495.2 68.6 496.2 68.7 497.2 68.7 498.2 68.7 499.2 68.7 500.2 68.7 501.3 68.8 502.3 68.8 503.3 68.8 504.3 68.8 505.3 68.8 506.3 68.8 507.3 68.8 508.3 68.9 509.3 68.9 510.3 68.9 511.3 68.9 512.3 68.9 513.3 68.8 514.3 69.0" stroke="#f486c8"/>
<path d="M404.9 80.9 405.9 80.9 406.9 80.9 407.9 80.9 408.9 80.9 409.9 80.9 410.9 80.8 411.9 80.9 412.9 80.8 413.9 80.8 414.9 80.8 415.9 80.8 416.9 80.7 417.9 80.7 419.0 80.7 420.0 80.7 421.0 80.7 422.0 80.6 423.0 80.5 424.0 80.4 425.0 80.4 426.0 80.2 427.0 80.0 428.0 79.8 429.0 79.3 430.0 78.6 431.0 77.7 432.0 76.1 433.0 73.8 434.0 72.0 435.0 72.6 436.0 74.8 437.0 76.8 438.0 78.2 439.0 79.0 440.0 79.4 441.0 79.8 442.0 80.0 443.0 80.2 444.0 80.4 445.0 80.4 446.1 80.4 447.1 80.4 448.1 80.5 449.1 80.5 450.1 80.5 451.1 80.5 452.1 80.5 453.1 80.5 454.1 80.5 455.1 80.4 456.1 80.5 457.1 80.4 458.1 80.3 459.1 80.2 460.1 80.1 461.1 80.0 462.1 79.9 463.1 79.7 464.1 79.5 465.1 79.2 466.1 78.9 467.1 78.4 468.1 77.7 469.1 76.8 470.1 75.5 471.1 73.8 472.1 71.7 473.1 69.7 474.2 68.4 475.2 69.0 476.2 70.8 477.2 73.0 478.2 74.9 479.2 76.3 480.2 77.3 481.2 78.1 482.2 78.7 483.2 79.1 484.2 79.4 485.2 79.7 486.2 79.8 487.2 80.0 488.2 80.2 489.2 80.2 490.2 80.3 491.2 80.5 492.2 80.5 493.2 80.5 494.2 80.6 495.2 80.6 496.2 80.6 497.2 80.6 498.2 80.7 499.2 80.7 500.2 80.7 501.3 80.7 502.3 80.8 503.3 80.7 504.3 80.8 505.3 80.8 506.3 80.8 507.3 80.9 508.3 80.8 509.3 80.8 510.3 80.8 511.3 80.9 512.3 80.9 513.3 80.9 514.3 80.9" stroke="#f48af4"/>
<path d="M404.9 93.3 405.9 93.2 406.9 93.3 407.9 93.3 408.9 93.3 409.9 93.3 410.9 93.3 411.9 93.3 412.9 93.2 413.9 93.2 414.9 93.2 415.9 93.2 416.9 93.2 417.9 93.1 419.0 93.1 420.0 93.2 421.0 93.1 422.0 93.1 423.0 93.0 424.0 92.9 425.0 92.8 426.0 92.7 427.0 92.6 428.0 92.3 429.0 92.0 430.0 91.6 431.0 90.9 432.0 89.8 433.0 88.0 434.0 85.5 435.0 83.1 436.0 83.6 437.0 86.2 438.0 88.6 439.0 90.1 440.0 91.1 441.0 91.7 442.0 92.0 443.0 92.3 444.0 92.5 445.0 92.6 446.1 92.7 447.1 92.8 448.1 92.8 449.1 92.9 450.1 92.9 451.1 92.8 452.1 92.9 453.1 92.8 454.1 92.8 455.1 92.8 456.1 92.7 457.1 92.7 458.1 92.7 459.1 92.5 460.1 92.5 461.1 92.3 462.1 92.3 463.1 92.1 464.1 91.8 465.1 91.6 466.1 91.3 467.1 90.8 468.1 90.2 469.1 89.3 470.1 88.2 471.1 86.5 472.1 84.2 473.1 81.4 474.2 78.7 475.2 77.5 476.2 78.5 477.2 81.2 478.2 84.0 479.2 86.4 480.2 87.9 481.2 89.2 482.2 90.1 483.2 90.8 484.2 91.3 485.2 91.6 486.2 91.9 487.2 92.1 488.2 92.3 489.2 92.5 490.2 92.5 491.2 92.7 492.2 92.7 493.2 92.8 494.2 92.9 495.2 92.9 496.2 93.0 497.2 93.0 498.2 93.0 499.2 93.1 500.2 93.1 501.3 93.1 502.3 93.1 503.3 93.1 504.3 93.2 505.3 93.2 506.3 93.2 507.3 93.2 508.3 93.2 509.3 93.3 510.3 93.2 511.3 93.2 512.3 93.3 513.3 93.3 514.3 93.3" stroke="#e438e6"/>
<path d="M404.9 104.8 405.9 104.8 406.9 104.8 407.9 104.8 408.9 104.8 409.9 104.8 410.9 104.8 411.9 104.7 412.9 104.8 413.9 104.7 414.9 104.7 415.9 104.7 416.9 104.7 417.9 104.7 419.0 104.7 420.0 104.7 421.0 104.6 422.0 104.6 423.0 104.6 424.0 104.5 425.0 104.5 426.0 104.5 427.0 104.3 428.0 104.2 429.0 104.0 430.0 103.8 431.0 103.5 432.0 102.9 433.0 102.0 434.0 100.5 435.0 98.4 436.0 96.2 437.0 96.5 438.0 98.7 439.0 100.9 440.0 102.2 441.0 103.0 442.0 103.5 443.0 103.8 444.0 103.9 445.0 104.1 446.1 104.2 447.1 104.3 448.1 104.4 449.1 104.3 450.1 104.4 451.1 104.4 452.1 104.5 453.1 104.4 454.1 104.4 455.1 104.4 456.1 104.3 457.1 104.3 458.1 104.3 459.1 104.3 460.1 104.2 461.1 104.1 462.1 104.1 463.1 103.9 464.1 103.8 465.1 103.7 466.1 103.5 467.1 103.2 468.1 102.8 469.1 102.2 470.1 101.5 471.1 100.6 472.1 99.2 473.1 97.2 474.2 94.9 475.2 92.6 476.2 91.8 477.2 93.1 478.2 95.3 479.2 97.7 480.2 99.5 481.2 100.8 482.2 101.8 483.2 102.4 484.2 102.9 485.2 103.2 486.2 103.5 487.2 103.7 488.2 103.9 489.2 104.1 490.2 104.2 491.2 104.2 492.2 104.3 493.2 104.3 494.2 104.4 495.2 104.5 496.2 104.5 497.2 104.5 498.2 104.6 499.2 104.6 500.2 104.6 501.3 104.6 502.3 104.7 503.3 104.7 504.3 104.7 505.3 104.7 506.3 104.7 507.3 104.8 508.3 104.8 509.3 104.7 510.3 104.8 511.3 104.7 512.3 104.7 513.3 104.8 514.3 104.8" stroke="#a64ce8"/>
<path d="M404.9 116.9 405.9 116.8 406.9 116.8 407.9 116.8 408.9 116.8 409.9 116.8 410.9 116.8 411.9 116.8 412.9 116.8 413.9 116.8 414.9 116.7 415.9 116.8 416.9 116.7 417.9 116.7 419.0 116.7 420.0 116.7 421.0 116.7 422.0 116.6 423.0 116.6 424.0 116.6 425.0 116.6 426.0 116.5 427.0 116.5 428.0 116.4 429.0 116.3 430.0 116.1 431.0 115.8 432.0 115.6 433.0 115.0 434.0 114.2 435.0 112.7 436.0 110.5 437.0 108.1 438.0 108.3 439.0 110.6 440.0 112.9 441.0 114.2 442.0 115.0 443.0 115.5 444.0 115.8 445.0 116.0 446.1 116.2 447.1 116.3 448.1 116.4 449.1 116.4 450.1 116.4 451.1 116.4 452.1 116.5 453.1 116.5 454.1 116.4 455.1 116.4 456.1 116.4 457.1 116.4 458.1 116.3 459.1 116.3 460.1 116.3 461.1 116.2 462.1 116.1 463.1 116.1 464.1 116.0 465.1 115.8 466.1 115.7 467.1 115.4 468.1 115.1 469.1 114.7 470.1 114.2 471.1 113.4 472.1 112.3 473.1 110.8 474.2 108.6 475.2 106.0 476.2 103.6 477.2 103.1 478.2 104.7 479.2 107.4 480.2 109.8 481.2 111.6 482.2 113.0 483.2 113.8 484.2 114.5 485.2 115.0 486.2 115.3 487.2 115.6 488.2 115.7 489.2 116.0 490.2 116.0 491.2 116.1 492.2 116.3 493.2 116.3 494.2 116.4 495.2 116.4 496.2 116.5 497.2 116.6 498.2 116.5 499.2 116.6 500.2 116.6 501.3 116.6 502.3 116.6 503.3 116.6 504.3 116.7 505.3 116.7 506.3 116.7 507.3 116.7 508.3 116.7 509.3 116.7 510.3 116.7 511.3 116.7 512.3 116.8 513.3 116.8 514.3 116.8" stroke="#a8a4ee"/>
<path d="M404.9 129.5 405.9 129.5 406.9 129.5 407.9 129.5 408.9 129.5 409.9 129.5 410.9 129.5 411.9 129.5 412.9 129.5 413.9 129.4 414.9 129.5 415.9 129.4 416.9 129.4 417.9 129.4 419.0 129.4 420.0 129.4 421.0 129.4 422.0 129.4 423.0 129.4 424.0 129.3 425.0 129.3 426.0 129.2 427.0 129.2 428.0 129.2 429.0 129.1 430.0 129.0 431.0 128.8 432.0 128.6 433.0 128.2 434.0 127.7 435.0 126.9 436.0 125.5 437.0 123.1 438.0 120.6 439.0 120.4 440.0 123.0 441.0 125.4 442.0 126.8 443.0 127.6 444.0 128.2 445.0 128.6 446.1 128.7 447.1 128.9 448.1 129.0 449.1 129.0 450.1 129.1 451.1 129.1 452.1 129.2 453.1 129.2 454.1 129.2 455.1 129.2 456.1 129.1 457.1 129.1 458.1 129.1 459.1 129.1 460.1 129.0 461.1 128.9 462.1 129.0 463.1 128.9 464.1 128.8 465.1 128.7 466.1 128.5 467.1 128.4 468.1 128.2 469.1 127.8 470.1 127.4 471.1 126.9 472.1 126.1 473.1 125.0 474.2 123.3 475.2 121.1 476.2 118.3 477.2 115.9 478.2 115.7 479.2 117.8 480.2 120.6 481.2 123.0 482.2 124.7 483.2 126.0 484.2 126.8 485.2 127.4 486.2 127.8 487.2 128.1 488.2 128.4 489.2 128.5 490.2 128.7 491.2 128.8 492.2 128.9 493.2 129.0 494.2 129.0 495.2 129.1 496.2 129.2 497.2 129.2 498.2 129.3 499.2 129.2 500.2 129.3 501.3 129.3 502.3 129.4 503.3 129.3 504.3 129.4 505.3 129.4 506.3 129.4 507.3 129.5 508.3 129.4 509.3 129.4 510.3 129.5 511.3 129.5 512.3 129.5 513.3 129.5 514.3 129.5" stroke="#44a0f4"/>
<path d="M404.9 142.7 405.9 142.7 406.9 142.8 407.9 142.7 408.9 142.7 409.9 142.7 410.9 142.8 411.9 142.7 412.9 142.7 413.9 142.7 414.9 142.7 415.9 142.7 416.9 142.7 417.9 142.7 419.0 142.7 420.0 142.7 421.0 142.6 422.0 142.6 423.0 142.6 424.0 142.6 425.0 142.5 426.0 142.5 427.0 142.5 428.0 142.4 429.0 142.3 430.0 142.3 431.0 142.2 432.0 142.1 433.0 141.9 434.0 141.6 435.0 141.1 436.0 140.4 437.0 139.0 438.0 136.8 439.0 134.1 440.0 133.8 441.0 136.5 442.0 138.7 443.0 140.2 444.0 141.0 445.0 141.5 446.1 141.7 447.1 142.0 448.1 142.1 449.1 142.2 450.1 142.3 451.1 142.3 452.1 142.3 453.1 142.4 454.1 142.4 455.1 142.4 456.1 142.4 457.1 142.4 458.1 142.4 459.1 142.3 460.1 142.4 461.1 142.3 462.1 142.3 463.1 142.2 464.1 142.1 465.1 142.1 466.1 142.0 467.1 141.9 468.1 141.7 469.1 141.5 470.1 141.3 471.1 140.9 472.1 140.5 473.1 139.8 474.2 138.7 475.2 137.2 476.2 135.0 477.2 132.5 478.2 130.5 479.2 130.6 480.2 132.8 481.2 135.4 482.2 137.4 483.2 138.8 484.2 139.8 485.2 140.6 486.2 141.0 487.2 141.3 488.2 141.6 489.2 141.8 490.2 141.9 491.2 142.0 492.2 142.1 493.2 142.3 494.2 142.3 495.2 142.3 496.2 142.4 497.2 142.5 498.2 142.5 499.2 142.4 500.2 142.5 501.3 142.5 502.3 142.6 503.3 142.6 504.3 142.6 505.3 142.6 506.3 142.6 507.3 142.6 508.3 142.6 509.3 142.7 510.3 142.6 511.3 142.7 512.3 142.6 513.3 142.7 514.3 142.7" stroke="#4f4fe6"/>
<path d="M404.9 153.7 405.9 153.8 406.9 153.7 407.9 153.8 408.9 153.8 409.9 153.7 410.9 153.7 411.9 153.7 412.9 153.7 413.9 153.7 414.9 153.7 415.9 153.7 416.9 153.7 417.9 153.7 419.0 153.6 420.0 153.7 421.0 153.6 422.0 153.6 423.0 153.7 424.0 153.6 425.0 153.6 426.0 153.6 427.0 153.5 428.0 153.6 429.0 153.4 430.0 153.4 431.0 153.3 432.0 153.3 433.0 153.1 434.0 152.9 435.0 152.6 436.0 152.2 437.0 151.5 438.0 150.2 439.0 148.0 440.0 145.2 441.0 144.6 442.0 147.2 443.0 149.8 444.0 151.2 445.0 152.1 446.1 152.5 447.1 152.8 448.1 153.0 449.1 153.1 450.1 153.2 451.1 153.3 452.1 153.3 453.1 153.4 454.1 153.4 455.1 153.4 456.1 153.4 457.1 153.4 458.1 153.4 459.1 153.4 460.1 153.4 461.1 153.3 462.1 153.3 463.1 153.3 464.1 153.3 465.1 153.2 466.1 153.1 467.1 153.1 468.1 152.9 469.1 152.8 470.1 152.6 471.1 152.3 472.1 152.0 473.1 151.5 474.2 150.8 475.2 149.8 476.2 148.2 477.2 145.9 478.2 143.3 479.2 141.4 480.2 142.1 481.2 144.5 482.2 147.0 483.2 149.0 484.2 150.3 485.2 151.1 486.2 151.8 487.2 152.2 488.2 152.5 489.2 152.7 490.2 152.9 491.2 153.0 492.2 153.1 493.2 153.2 494.2 153.3 495.2 153.3 496.2 153.4 497.2 153.4 498.2 153.4 499.2 153.5 500.2 153.5 501.3 153.5 502.3 153.5 503.3 153.5 504.3 153.6 505.3 153.6 506.3 153.6 507.3 153.7 508.3 153.6 509.3 153.6 510.3 153.6 511.3 153.7 512.3 153.7 513.3 153.7 514.3 153.7" stroke="#4444b2"/>
<path d="M404.9 163.5 405.9 163.5 406.9 163.5 407.9 163.6 408.9 163.5 409.9 163.5 410.9 163.5 411.9 163.5 412.9 163.5 413.9 163.5 414.9 163.5 415.9 163.5 416.9 163.5 417.9 163.5 419.0 163.5 420.0 163.5 421.0 163.5 422.0 163.4 423.0 163.5 424.0 163.4 425.0 163.4 426.0 163.4 427.0 163.3 428.0 163.3 429.0 163.3 430.0 163.2 431.0 163.3 432.0 163.2 433.0 163.0 434.0 163.0 435.0 162.8 436.0 162.5 437.0 162.1 438.0 161.5 439.0 160.3 440.0 158.2 441.0 155.2 442.0 154.4 443.0 157.1 444.0 159.6 445.0 161.1 446.1 161.9 447.1 162.4 448.1 162.7 449.1 162.8 450.1 162.9 451.1 163.1 452.1 163.1 453.1 163.2 454.1 163.2 455.1 163.2 456.1 163.2 457.1 163.3 458.1 163.2 459.1 163.2 460.1 163.2 461.1 163.2 462.1 163.2 463.1 163.2 464.1 163.1 465.1 163.1 466.1 163.0 467.1 163.0 468.1 162.9 469.1 162.7 470.1 162.6 471.1 162.4 472.1 162.2 473.1 161.8 474.2 161.3 475.2 160.5 476.2 159.4 477.2 157.7 478.2 155.2 479.2 152.2 480.2 150.4 481.2 151.5 482.2 154.4 483.2 157.2 484.2 159.0 485.2 160.3 486.2 161.1 487.2 161.7 488.2 162.1 489.2 162.3 490.2 162.5 491.2 162.7 492.2 162.8 493.2 162.9 494.2 163.0 495.2 163.1 496.2 163.1 497.2 163.2 498.2 163.2 499.2 163.2 500.2 163.3 501.3 163.3 502.3 163.4 503.3 163.4 504.3 163.4 505.3 163.4 506.3 163.5 507.3 163.4 508.3 163.5 509.3 163.4 510.3 163.4 511.3 163.4 512.3 163.4 513.3 163.5 514.3 163.5" stroke="#467aa8"/>
</g>
<rect x="404.7" y="2.2" width="109.8" height="166.2" fill="none" stroke="#727272" stroke-width="1.35"/>
<path d="M420.4,168.4v-1.2 M436.1,168.4v-1.6 M451.8,168.4v-1.2 M467.4,168.4v-1.6 M483.1,168.4v-1.2 M498.8,168.4v-1.6" stroke="#3a3a3a" stroke-width="0.9"/>
<text class="tl" style="font-size:10.0px" transform="translate(398.93,176.40) scale(0.7000,0.6831)">360</text>
<text class="tl" style="font-size:10.0px" transform="translate(430.30,176.40) scale(0.7000,0.6831)">380</text>
<text class="tl" style="font-size:10.0px" transform="translate(461.70,176.40) scale(0.7000,0.6831)">400</text>
<text class="tl" style="font-size:10.0px" transform="translate(493.07,176.40) scale(0.7000,0.6831)">420</text>
<text class="ax" style="font-size:10.0px" transform="translate(428.66,188.30) scale(0.8005,0.7994)">Raman shift (cm<tspan style="font-size:4.50px" dy="-5.60">-1</tspan><tspan dy="5.60">)</tspan></text>
<text class="yl" style="font-size:10.0px" transform="translate(398.20,126.17) rotate(-90) scale(0.8550,0.8866)">Intensity (arb. units)</text>
<text class="pl" style="font-size:10.0px" transform="translate(406.10,11.72) scale(0.9941,1.0504)">(d)</text>
<text class="ly" style="font-size:10.0px" transform="translate(501.60,14.20) scale(0.9593,0.9448)">5L</text>
<g fill="none" stroke-width="1.2" stroke-linejoin="round">
<path d="M533.6 20.5 534.6 20.5 535.6 20.5 536.6 20.5 537.6 20.5 538.6 20.5 539.6 20.5 540.6 20.5 541.7 20.4 542.7 20.4 543.7 20.4 544.7 20.4 545.7 20.4 546.7 20.3 547.7 20.3 548.7 20.3 549.7 20.3 550.7 20.2 551.7 20.2 552.7 20.1 553.7 20.0 554.7 19.9 555.7 19.7 556.8 19.5 557.8 19.2 558.8 18.7 559.8 18.1 560.8 17.0 561.8 15.4 562.8 13.5 563.8 12.1 564.8 12.8 565.8 14.8 566.8 16.5 567.8 17.7 568.8 18.5 569.8 19.0 570.8 19.4 571.8 19.5 572.9 19.8 573.9 19.8 574.9 19.9 575.9 20.0 576.9 20.0 577.9 20.0 578.9 20.1 579.9 20.1 580.9 20.1 581.9 20.0 582.9 20.0 583.9 20.0 584.9 19.9 585.9 19.9 586.9 19.9 588.0 19.8 589.0 19.7 590.0 19.5 591.0 19.4 592.0 19.2 593.0 18.9 594.0 18.6 595.0 18.2 596.0 17.6 597.0 16.7 598.0 15.5 599.0 13.8 600.0 11.6 601.0 9.1 602.0 7.5 603.1 7.7 604.1 9.7 605.1 12.1 606.1 14.2 607.1 15.8 608.1 16.9 609.1 17.7 610.1 18.3 611.1 18.7 612.1 19.0 613.1 19.3 614.1 19.5 615.1 19.6 616.1 19.8 617.1 19.9 618.1 20.0 619.2 20.0 620.2 20.1 621.2 20.1 622.2 20.2 623.2 20.2 624.2 20.3 625.2 20.3 626.2 20.3 627.2 20.3 628.2 20.4 629.2 20.4 630.2 20.4 631.2 20.4 632.2 20.4 633.2 20.4 634.3 20.4 635.3 20.4 636.3 20.4 637.3 20.5 638.3 20.5 639.3 20.5 640.3 20.5 641.3 20.5" stroke="#ae4482"/>
<path d="M533.6 33.4 534.6 33.4 535.6 33.4 536.6 33.4 537.6 33.4 538.6 33.4 539.6 33.4 540.6 33.3 541.7 33.4 542.7 33.3 543.7 33.4 544.7 33.4 545.7 33.3 546.7 33.2 547.7 33.3 548.7 33.2 549.7 33.2 550.7 33.2 551.7 33.1 552.7 33.0 553.7 32.9 554.7 32.8 555.7 32.7 556.8 32.6 557.8 32.3 558.8 32.0 559.8 31.5 560.8 30.7 561.8 29.4 562.8 27.6 563.8 25.6 564.8 25.0 565.8 26.4 566.8 28.4 567.8 30.0 568.8 31.0 569.8 31.7 570.8 32.1 571.8 32.3 572.9 32.5 573.9 32.7 574.9 32.7 575.9 32.8 576.9 32.9 577.9 33.0 578.9 33.0 579.9 33.0 580.9 33.0 581.9 32.9 582.9 33.0 583.9 32.9 584.9 32.9 585.9 32.9 586.9 32.8 588.0 32.8 589.0 32.6 590.0 32.5 591.0 32.4 592.0 32.3 593.0 32.0 594.0 31.8 595.0 31.4 596.0 30.9 597.0 30.2 598.0 29.2 599.0 27.8 600.0 25.9 601.0 23.5 602.0 21.1 603.1 20.2 604.1 21.4 605.1 23.8 606.1 26.2 607.1 28.1 608.1 29.4 609.1 30.3 610.1 31.0 611.1 31.5 612.1 31.8 613.1 32.1 614.1 32.3 615.1 32.5 616.1 32.6 617.1 32.7 618.1 32.8 619.2 32.9 620.2 33.0 621.2 33.0 622.2 33.1 623.2 33.1 624.2 33.2 625.2 33.2 626.2 33.2 627.2 33.2 628.2 33.3 629.2 33.3 630.2 33.3 631.2 33.3 632.2 33.3 633.2 33.4 634.3 33.4 635.3 33.4 636.3 33.4 637.3 33.4 638.3 33.4 639.3 33.3 640.3 33.4 641.3 33.4" stroke="#f2404a"/>
<path d="M533.6 46.0 534.6 46.0 535.6 46.0 536.6 46.0 537.6 46.0 538.6 46.0 539.6 46.0 540.6 46.0 541.7 46.0 542.7 46.0 543.7 45.9 544.7 45.9 545.7 45.9 546.7 46.0 547.7 45.9 548.7 45.8 549.7 45.8 550.7 45.8 551.7 45.8 552.7 45.7 553.7 45.6 554.7 45.6 555.7 45.5 556.8 45.3 557.8 45.1 558.8 44.8 559.8 44.5 560.8 43.8 561.8 42.9 562.8 41.5 563.8 39.5 564.8 37.6 565.8 37.9 566.8 39.8 567.8 41.7 568.8 43.1 569.8 43.9 570.8 44.5 571.8 44.8 572.9 45.0 573.9 45.2 574.9 45.3 575.9 45.4 576.9 45.5 577.9 45.5 578.9 45.6 579.9 45.6 580.9 45.6 581.9 45.6 582.9 45.6 583.9 45.6 584.9 45.5 585.9 45.5 586.9 45.5 588.0 45.4 589.0 45.3 590.0 45.2 591.0 45.1 592.0 45.0 593.0 44.8 594.0 44.6 595.0 44.3 596.0 43.8 597.0 43.3 598.0 42.5 599.0 41.3 600.0 39.7 601.0 37.5 602.0 35.0 603.1 33.1 604.1 33.1 605.1 35.1 606.1 37.6 607.1 39.8 608.1 41.4 609.1 42.5 610.1 43.3 611.1 43.9 612.1 44.3 613.1 44.6 614.1 44.8 615.1 45.1 616.1 45.2 617.1 45.3 618.1 45.4 619.2 45.5 620.2 45.6 621.2 45.6 622.2 45.7 623.2 45.7 624.2 45.7 625.2 45.8 626.2 45.8 627.2 45.8 628.2 45.9 629.2 45.9 630.2 45.9 631.2 45.9 632.2 45.9 633.2 45.9 634.3 45.9 635.3 45.9 636.3 46.0 637.3 46.0 638.3 46.0 639.3 46.0 640.3 46.0 641.3 46.0" stroke="#f89a62"/>
<path d="M533.6 57.5 534.6 57.4 535.6 57.4 536.6 57.4 537.6 57.4 538.6 57.4 539.6 57.4 540.6 57.4 541.7 57.4 542.7 57.4 543.7 57.4 544.7 57.3 545.7 57.3 546.7 57.3 547.7 57.3 548.7 57.3 549.7 57.3 550.7 57.2 551.7 57.2 552.7 57.1 553.7 57.1 554.7 57.0 555.7 56.9 556.8 56.8 557.8 56.7 558.8 56.5 559.8 56.1 560.8 55.7 561.8 55.0 562.8 53.9 563.8 52.2 564.8 50.0 565.8 48.8 566.8 49.9 567.8 52.0 568.8 53.8 569.8 54.9 570.8 55.6 571.8 56.1 572.9 56.3 573.9 56.6 574.9 56.7 575.9 56.8 576.9 56.9 577.9 56.9 578.9 56.9 579.9 57.0 580.9 57.0 581.9 57.0 582.9 57.0 583.9 57.0 584.9 57.0 585.9 57.0 586.9 56.9 588.0 56.9 589.0 56.8 590.0 56.7 591.0 56.7 592.0 56.5 593.0 56.4 594.0 56.2 595.0 55.9 596.0 55.6 597.0 55.1 598.0 54.5 599.0 53.5 600.0 52.2 601.0 50.3 602.0 47.9 603.1 45.4 604.1 44.2 605.1 45.3 606.1 47.7 607.1 50.2 608.1 52.1 609.1 53.5 610.1 54.4 611.1 55.1 612.1 55.5 613.1 55.9 614.1 56.2 615.1 56.4 616.1 56.6 617.1 56.7 618.1 56.8 619.2 56.9 620.2 57.0 621.2 57.0 622.2 57.1 623.2 57.1 624.2 57.1 625.2 57.2 626.2 57.2 627.2 57.2 628.2 57.2 629.2 57.2 630.2 57.3 631.2 57.3 632.2 57.3 633.2 57.3 634.3 57.3 635.3 57.3 636.3 57.3 637.3 57.4 638.3 57.4 639.3 57.4 640.3 57.4 641.3 57.4" stroke="#f6928a"/>
<path d="M533.6 70.0 534.6 70.0 535.6 70.0 536.6 70.0 537.6 70.0 538.6 70.0 539.6 70.0 540.6 69.9 541.7 70.0 542.7 69.9 543.7 70.0 544.7 69.9 545.7 69.9 546.7 69.9 547.7 69.9 548.7 69.9 549.7 69.9 550.7 69.9 551.7 69.8 552.7 69.7 553.7 69.7 554.7 69.7 555.7 69.6 556.8 69.5 557.8 69.4 558.8 69.2 559.8 69.0 560.8 68.6 561.8 68.1 562.8 67.3 563.8 66.0 564.8 64.0 565.8 61.8 566.8 61.5 567.8 63.3 568.8 65.5 569.8 67.0 570.8 67.9 571.8 68.5 572.9 68.8 573.9 69.1 574.9 69.2 575.9 69.4 576.9 69.5 577.9 69.5 578.9 69.6 579.9 69.6 580.9 69.6 581.9 69.6 582.9 69.6 583.9 69.6 584.9 69.6 585.9 69.6 586.9 69.5 588.0 69.5 589.0 69.4 590.0 69.4 591.0 69.3 592.0 69.2 593.0 69.1 594.0 69.0 595.0 68.7 596.0 68.4 597.0 68.0 598.0 67.5 599.0 66.7 600.0 65.7 601.0 64.2 602.0 62.0 603.1 59.4 604.1 57.2 605.1 57.0 606.1 59.0 607.1 61.6 608.1 63.9 609.1 65.5 610.1 66.7 611.1 67.4 612.1 68.0 613.1 68.4 614.1 68.7 615.1 68.9 616.1 69.1 617.1 69.2 618.1 69.4 619.2 69.4 620.2 69.5 621.2 69.6 622.2 69.6 623.2 69.7 624.2 69.7 625.2 69.8 626.2 69.8 627.2 69.8 628.2 69.8 629.2 69.9 630.2 69.9 631.2 69.9 632.2 69.9 633.2 69.9 634.3 69.9 635.3 70.0 636.3 70.0 637.3 70.0 638.3 70.0 639.3 70.0 640.3 70.0 641.3 70.0" stroke="#f486c8"/>
<path d="M533.6 81.6 534.6 81.6 535.6 81.6 536.6 81.6 537.6 81.6 538.6 81.6 539.6 81.6 540.6 81.6 541.7 81.5 542.7 81.6 543.7 81.6 544.7 81.6 545.7 81.5 546.7 81.5 547.7 81.5 548.7 81.5 549.7 81.5 550.7 81.5 551.7 81.4 552.7 81.4 553.7 81.4 554.7 81.3 555.7 81.3 556.8 81.2 557.8 81.1 558.8 81.0 559.8 80.8 560.8 80.5 561.8 80.1 562.8 79.5 563.8 78.5 564.8 76.9 565.8 74.7 566.8 72.9 567.8 73.6 568.8 75.9 569.8 77.8 570.8 79.0 571.8 79.8 572.9 80.2 573.9 80.6 574.9 80.8 575.9 81.0 576.9 81.1 577.9 81.1 578.9 81.2 579.9 81.2 580.9 81.2 581.9 81.2 582.9 81.2 583.9 81.3 584.9 81.2 585.9 81.2 586.9 81.2 588.0 81.1 589.0 81.1 590.0 81.0 591.0 81.0 592.0 80.9 593.0 80.8 594.0 80.7 595.0 80.4 596.0 80.3 597.0 79.9 598.0 79.5 599.0 78.9 600.0 78.0 601.0 76.8 602.0 75.0 603.1 72.6 604.1 69.9 605.1 68.4 606.1 69.4 607.1 71.9 608.1 74.5 609.1 76.4 610.1 77.8 611.1 78.7 612.1 79.4 613.1 79.8 614.1 80.2 615.1 80.4 616.1 80.6 617.1 80.8 618.1 80.9 619.2 81.0 620.2 81.1 621.2 81.2 622.2 81.2 623.2 81.3 624.2 81.3 625.2 81.4 626.2 81.4 627.2 81.4 628.2 81.4 629.2 81.4 630.2 81.5 631.2 81.5 632.2 81.5 633.2 81.5 634.3 81.5 635.3 81.6 636.3 81.5 637.3 81.5 638.3 81.6 639.3 81.6 640.3 81.6 641.3 81.6" stroke="#f48af4"/>
<path d="M533.6 94.2 534.6 94.2 535.6 94.2 536.6 94.2 537.6 94.2 538.6 94.2 539.6 94.2 540.6 94.2 541.7 94.2 542.7 94.2 543.7 94.2 544.7 94.2 545.7 94.1 546.7 94.2 547.7 94.1 548.7 94.1 549.7 94.1 550.7 94.1 551.7 94.1 552.7 94.0 553.7 94.0 554.7 93.9 555.7 93.9 556.8 93.9 557.8 93.8 558.8 93.6 559.8 93.5 560.8 93.3 561.8 93.0 562.8 92.5 563.8 91.8 564.8 90.7 565.8 88.8 566.8 86.4 567.8 85.4 568.8 87.0 569.8 89.4 570.8 91.1 571.8 92.0 572.9 92.7 573.9 93.0 574.9 93.3 575.9 93.5 576.9 93.6 577.9 93.7 578.9 93.8 579.9 93.8 580.9 93.8 581.9 93.8 582.9 93.8 583.9 93.9 584.9 93.8 585.9 93.8 586.9 93.8 588.0 93.8 589.0 93.8 590.0 93.7 591.0 93.6 592.0 93.6 593.0 93.5 594.0 93.3 595.0 93.2 596.0 93.0 597.0 92.8 598.0 92.4 599.0 92.0 600.0 91.3 601.0 90.2 602.0 88.8 603.1 86.8 604.1 84.1 605.1 81.6 606.1 81.1 607.1 83.1 608.1 85.8 609.1 88.2 610.1 89.9 611.1 90.9 612.1 91.7 613.1 92.3 614.1 92.7 615.1 93.0 616.1 93.2 617.1 93.3 618.1 93.5 619.2 93.6 620.2 93.7 621.2 93.8 622.2 93.9 623.2 93.9 624.2 93.9 625.2 93.9 626.2 94.0 627.2 94.0 628.2 94.0 629.2 94.0 630.2 94.1 631.2 94.1 632.2 94.1 633.2 94.1 634.3 94.1 635.3 94.1 636.3 94.1 637.3 94.2 638.3 94.2 639.3 94.1 640.3 94.2 641.3 94.2" stroke="#e438e6"/>
<path d="M533.6 106.0 534.6 106.0 535.6 106.0 536.6 106.0 537.6 106.0 538.6 106.0 539.6 106.0 540.6 106.0 541.7 106.0 542.7 106.0 543.7 106.0 544.7 106.0 545.7 106.0 546.7 106.0 547.7 105.9 548.7 106.0 549.7 105.9 550.7 105.9 551.7 105.8 552.7 105.8 553.7 105.8 554.7 105.8 555.7 105.7 556.8 105.7 557.8 105.6 558.8 105.5 559.8 105.4 560.8 105.2 561.8 105.0 562.8 104.7 563.8 104.2 564.8 103.3 565.8 101.9 566.8 99.7 567.8 97.4 568.8 97.5 569.8 99.8 570.8 102.0 571.8 103.3 572.9 104.2 573.9 104.7 574.9 105.0 575.9 105.2 576.9 105.4 577.9 105.5 578.9 105.5 579.9 105.6 580.9 105.6 581.9 105.7 582.9 105.7 583.9 105.6 584.9 105.7 585.9 105.7 586.9 105.6 588.0 105.6 589.0 105.6 590.0 105.5 591.0 105.5 592.0 105.5 593.0 105.4 594.0 105.3 595.0 105.1 596.0 105.0 597.0 104.8 598.0 104.5 599.0 104.1 600.0 103.5 601.0 102.7 602.0 101.6 603.1 99.9 604.1 97.5 605.1 94.7 606.1 92.9 607.1 93.6 608.1 96.2 609.1 98.9 610.1 100.9 611.1 102.3 612.1 103.2 613.1 103.9 614.1 104.3 615.1 104.7 616.1 104.9 617.1 105.1 618.1 105.3 619.2 105.4 620.2 105.4 621.2 105.5 622.2 105.6 623.2 105.6 624.2 105.7 625.2 105.7 626.2 105.8 627.2 105.8 628.2 105.8 629.2 105.9 630.2 105.9 631.2 105.9 632.2 105.9 633.2 105.9 634.3 105.9 635.3 105.9 636.3 106.0 637.3 106.0 638.3 105.9 639.3 106.0 640.3 105.9 641.3 106.0" stroke="#a64ce8"/>
<path d="M533.6 116.3 534.6 116.3 535.6 116.3 536.6 116.3 537.6 116.3 538.6 116.3 539.6 116.3 540.6 116.3 541.7 116.3 542.7 116.3 543.7 116.3 544.7 116.3 545.7 116.3 546.7 116.3 547.7 116.2 548.7 116.2 549.7 116.2 550.7 116.2 551.7 116.2 552.7 116.2 553.7 116.1 554.7 116.1 555.7 116.1 556.8 116.1 557.8 116.0 558.8 115.9 559.8 115.8 560.8 115.7 561.8 115.5 562.8 115.2 563.8 114.9 564.8 114.2 565.8 113.2 566.8 111.6 567.8 109.0 568.8 107.3 569.8 108.6 570.8 111.1 571.8 113.0 572.9 114.1 573.9 114.7 574.9 115.2 575.9 115.5 576.9 115.6 577.9 115.7 578.9 115.8 579.9 115.9 580.9 115.9 581.9 115.9 582.9 115.9 583.9 116.0 584.9 116.0 585.9 116.0 586.9 115.9 588.0 115.9 589.0 115.9 590.0 115.9 591.0 115.8 592.0 115.8 593.0 115.7 594.0 115.7 595.0 115.5 596.0 115.4 597.0 115.2 598.0 115.0 599.0 114.7 600.0 114.3 601.0 113.6 602.0 112.7 603.1 111.3 604.1 109.3 605.1 106.7 606.1 104.0 607.1 103.2 608.1 105.0 609.1 107.9 610.1 110.3 611.1 112.0 612.1 113.1 613.1 113.9 614.1 114.4 615.1 114.8 616.1 115.2 617.1 115.3 618.1 115.5 619.2 115.6 620.2 115.7 621.2 115.8 622.2 115.9 623.2 115.9 624.2 116.0 625.2 116.0 626.2 116.1 627.2 116.1 628.2 116.1 629.2 116.1 630.2 116.2 631.2 116.2 632.2 116.2 633.2 116.2 634.3 116.2 635.3 116.3 636.3 116.2 637.3 116.3 638.3 116.3 639.3 116.3 640.3 116.3 641.3 116.3" stroke="#a8a4ee"/>
<path d="M533.6 128.4 534.6 128.4 535.6 128.4 536.6 128.5 537.6 128.4 538.6 128.4 539.6 128.4 540.6 128.4 541.7 128.4 542.7 128.4 543.7 128.4 544.7 128.4 545.7 128.4 546.7 128.4 547.7 128.4 548.7 128.4 549.7 128.3 550.7 128.4 551.7 128.3 552.7 128.3 553.7 128.3 554.7 128.2 555.7 128.2 556.8 128.2 557.8 128.1 558.8 128.1 559.8 128.0 560.8 127.9 561.8 127.7 562.8 127.6 563.8 127.3 564.8 126.8 565.8 126.1 566.8 124.9 567.8 122.8 568.8 120.2 569.8 119.5 570.8 121.7 571.8 124.1 572.9 125.6 573.9 126.5 574.9 127.1 575.9 127.4 576.9 127.6 577.9 127.8 578.9 127.9 579.9 128.0 580.9 128.0 581.9 128.0 582.9 128.1 583.9 128.0 584.9 128.1 585.9 128.1 586.9 128.1 588.0 128.1 589.0 128.1 590.0 128.0 591.0 128.0 592.0 128.0 593.0 127.9 594.0 127.8 595.0 127.7 596.0 127.6 597.0 127.5 598.0 127.3 599.0 127.0 600.0 126.7 601.0 126.2 602.0 125.5 603.1 124.4 604.1 122.8 605.1 120.4 606.1 117.5 607.1 115.3 608.1 115.9 609.1 118.6 610.1 121.3 611.1 123.4 612.1 124.8 613.1 125.7 614.1 126.4 615.1 126.9 616.1 127.2 617.1 127.4 618.1 127.6 619.2 127.7 620.2 127.8 621.2 127.9 622.2 128.0 623.2 128.0 624.2 128.1 625.2 128.1 626.2 128.2 627.2 128.2 628.2 128.2 629.2 128.3 630.2 128.3 631.2 128.3 632.2 128.3 633.2 128.3 634.3 128.3 635.3 128.3 636.3 128.4 637.3 128.3 638.3 128.3 639.3 128.4 640.3 128.4 641.3 128.4" stroke="#44a0f4"/>
<path d="M533.6 140.6 534.6 140.6 535.6 140.7 536.6 140.6 537.6 140.6 538.6 140.6 539.6 140.6 540.6 140.6 541.7 140.6 542.7 140.6 543.7 140.6 544.7 140.6 545.7 140.6 546.7 140.6 547.7 140.6 548.7 140.6 549.7 140.5 550.7 140.5 551.7 140.5 552.7 140.5 553.7 140.5 554.7 140.5 555.7 140.4 556.8 140.4 557.8 140.4 558.8 140.3 559.8 140.2 560.8 140.2 561.8 140.0 562.8 139.9 563.8 139.7 564.8 139.4 565.8 138.8 566.8 138.0 567.8 136.5 568.8 134.0 569.8 131.6 570.8 132.3 571.8 135.0 572.9 137.1 573.9 138.3 574.9 139.0 575.9 139.4 576.9 139.8 577.9 139.9 578.9 140.0 579.9 140.1 580.9 140.2 581.9 140.2 582.9 140.2 583.9 140.3 584.9 140.3 585.9 140.3 586.9 140.3 588.0 140.3 589.0 140.3 590.0 140.3 591.0 140.3 592.0 140.2 593.0 140.2 594.0 140.1 595.0 140.0 596.0 139.9 597.0 139.8 598.0 139.6 599.0 139.4 600.0 139.2 601.0 138.7 602.0 138.2 603.1 137.3 604.1 136.1 605.1 134.2 606.1 131.5 607.1 128.6 608.1 127.4 609.1 129.2 610.1 132.2 611.1 134.7 612.1 136.4 613.1 137.6 614.1 138.3 615.1 138.9 616.1 139.3 617.1 139.5 618.1 139.7 619.2 139.9 620.2 140.0 621.2 140.1 622.2 140.1 623.2 140.2 624.2 140.3 625.2 140.3 626.2 140.3 627.2 140.4 628.2 140.4 629.2 140.4 630.2 140.4 631.2 140.5 632.2 140.5 633.2 140.5 634.3 140.5 635.3 140.5 636.3 140.5 637.3 140.5 638.3 140.5 639.3 140.6 640.3 140.6 641.3 140.6" stroke="#4f4fe6"/>
<path d="M533.6 152.3 534.6 152.3 535.6 152.3 536.6 152.3 537.6 152.3 538.6 152.3 539.6 152.3 540.6 152.3 541.7 152.3 542.7 152.3 543.7 152.3 544.7 152.3 545.7 152.3 546.7 152.3 547.7 152.3 548.7 152.3 549.7 152.2 550.7 152.2 551.7 152.2 552.7 152.3 553.7 152.2 554.7 152.2 555.7 152.2 556.8 152.2 557.8 152.1 558.8 152.1 559.8 152.0 560.8 151.9 561.8 151.9 562.8 151.7 563.8 151.6 564.8 151.4 565.8 151.0 566.8 150.3 567.8 149.3 568.8 147.4 569.8 144.6 570.8 143.1 571.8 145.0 572.9 147.7 573.9 149.5 574.9 150.4 575.9 151.0 576.9 151.3 577.9 151.5 578.9 151.7 579.9 151.8 580.9 151.9 581.9 151.9 582.9 152.0 583.9 152.0 584.9 152.0 585.9 152.0 586.9 152.0 588.0 152.0 589.0 152.0 590.0 152.0 591.0 152.0 592.0 151.9 593.0 151.9 594.0 151.8 595.0 151.8 596.0 151.7 597.0 151.6 598.0 151.5 599.0 151.3 600.0 151.1 601.0 150.8 602.0 150.3 603.1 149.6 604.1 148.7 605.1 147.2 606.1 144.9 607.1 141.9 608.1 139.4 609.1 139.7 610.1 142.4 611.1 145.3 612.1 147.4 613.1 148.8 614.1 149.8 615.1 150.3 616.1 150.8 617.1 151.1 618.1 151.3 619.2 151.5 620.2 151.7 621.2 151.7 622.2 151.8 623.2 151.9 624.2 152.0 625.2 152.0 626.2 152.0 627.2 152.1 628.2 152.1 629.2 152.1 630.2 152.2 631.2 152.2 632.2 152.2 633.2 152.2 634.3 152.2 635.3 152.2 636.3 152.2 637.3 152.2 638.3 152.3 639.3 152.3 640.3 152.3 641.3 152.3" stroke="#4444b2"/>
<path d="M533.6 162.7 534.6 162.8 535.6 162.8 536.6 162.7 537.6 162.7 538.6 162.7 539.6 162.7 540.6 162.7 541.7 162.7 542.7 162.7 543.7 162.7 544.7 162.7 545.7 162.7 546.7 162.7 547.7 162.7 548.7 162.7 549.7 162.6 550.7 162.7 551.7 162.6 552.7 162.7 553.7 162.6 554.7 162.6 555.7 162.6 556.8 162.6 557.8 162.5 558.8 162.5 559.8 162.5 560.8 162.4 561.8 162.3 562.8 162.2 563.8 162.1 564.8 161.9 565.8 161.7 566.8 161.2 567.8 160.5 568.8 159.2 569.8 156.9 570.8 154.0 571.8 153.8 572.9 156.6 573.9 159.0 574.9 160.4 575.9 161.1 576.9 161.6 577.9 161.8 578.9 162.0 579.9 162.2 580.9 162.2 581.9 162.3 582.9 162.3 583.9 162.4 584.9 162.4 585.9 162.4 586.9 162.4 588.0 162.4 589.0 162.5 590.0 162.4 591.0 162.4 592.0 162.4 593.0 162.3 594.0 162.3 595.0 162.2 596.0 162.2 597.0 162.1 598.0 162.0 599.0 161.8 600.0 161.6 601.0 161.4 602.0 161.0 603.1 160.5 604.1 159.7 605.1 158.6 606.1 156.8 607.1 154.1 608.1 151.1 609.1 149.5 610.1 151.2 611.1 154.3 612.1 156.9 613.1 158.7 614.1 159.8 615.1 160.5 616.1 161.0 617.1 161.4 618.1 161.7 619.2 161.9 620.2 162.0 621.2 162.1 622.2 162.2 623.2 162.3 624.2 162.3 625.2 162.4 626.2 162.4 627.2 162.4 628.2 162.5 629.2 162.5 630.2 162.6 631.2 162.6 632.2 162.6 633.2 162.6 634.3 162.6 635.3 162.6 636.3 162.6 637.3 162.6 638.3 162.7 639.3 162.7 640.3 162.6 641.3 162.7" stroke="#467aa8"/>
</g>
<rect x="533.4" y="1.8" width="108.1" height="166.1" fill="none" stroke="#7a7a7a" stroke-width="1.30"/>
<path d="M548.8,167.9v-1.2 M564.3,167.9v-1.6 M579.7,167.9v-1.2 M595.2,167.9v-1.6 M610.6,167.9v-1.2 M626.1,167.9v-1.6" stroke="#3a3a3a" stroke-width="0.9"/>
<text class="tl" style="font-size:10.0px" transform="translate(527.62,175.80) scale(0.7000,0.6831)">360</text>
<text class="tl" style="font-size:10.0px" transform="translate(558.51,175.80) scale(0.7000,0.6831)">380</text>
<text class="tl" style="font-size:10.0px" transform="translate(589.42,175.80) scale(0.7000,0.6831)">400</text>
<text class="tl" style="font-size:10.0px" transform="translate(620.31,175.80) scale(0.7000,0.6831)">420</text>
<text class="ax" style="font-size:10.0px" transform="translate(553.97,186.70) scale(0.7969,0.7849)">Raman shift (cm<tspan style="font-size:4.50px" dy="-5.60">-1</tspan><tspan dy="5.60">)</tspan></text>
<text class="yl" style="font-size:10.0px" transform="translate(528.50,125.87) rotate(-90) scale(0.8560,0.8866)">Intensity (arb. units)</text>
<text class="pl" style="font-size:10.0px" transform="translate(536.30,11.72) scale(0.9982,1.0504)">(e)</text>
<text class="ly" style="font-size:10.0px" transform="translate(626.85,12.90) scale(0.9554,0.9738)">6L</text>
<g fill="none" stroke-width="1.2" stroke-linejoin="round">
<path d="M13.8 222.4 14.8 222.3 15.8 222.5 16.8 222.3 17.8 222.4 18.8 222.3 19.8 222.3 20.8 222.4 21.8 222.2 22.9 222.4 23.9 222.2 24.9 222.2 25.9 222.2 26.9 222.2 27.9 222.1 28.9 222.0 29.9 222.0 30.9 221.8 31.9 221.9 32.9 221.6 33.9 221.4 34.9 221.3 35.9 220.8 36.9 220.4 37.9 219.7 38.9 218.5 39.9 217.0 41.0 215.3 42.0 214.6 43.0 215.2 44.0 216.7 45.0 218.2 46.0 219.3 47.0 220.1 48.0 220.7 49.0 220.9 50.0 221.1 51.0 221.4 52.0 221.5 53.0 221.7 54.0 221.6 55.0 221.6 56.0 221.8 57.0 221.6 58.0 221.6 59.1 221.6 60.1 221.5 61.1 221.4 62.1 221.5 63.1 221.3 64.1 221.0 65.1 220.8 66.1 220.6 67.1 220.5 68.1 220.0 69.1 219.5 70.1 218.8 71.1 218.0 72.1 217.2 73.1 215.9 74.1 214.4 75.1 212.5 76.1 211.2 77.2 210.3 78.2 210.7 79.2 212.0 80.2 213.9 81.2 215.4 82.2 216.7 83.2 218.0 84.2 218.8 85.2 219.4 86.2 219.9 87.2 220.3 88.2 220.6 89.2 221.0 90.2 221.1 91.2 221.3 92.2 221.4 93.2 221.6 94.2 221.6 95.3 221.9 96.3 221.7 97.3 221.9 98.3 221.9 99.3 222.0 100.3 222.0 101.3 222.0 102.3 222.2 103.3 222.2 104.3 222.2 105.3 222.2 106.3 222.4 107.3 222.3 108.3 222.3 109.3 222.3 110.3 222.3 111.3 222.4 112.3 222.2 113.4 222.3 114.4 222.2 115.4 222.4 116.4 222.5 117.4 222.4 118.4 222.5 119.4 222.4 120.4 222.5 121.4 222.4" stroke="#ae4482"/>
<path d="M13.8 232.0 14.8 232.0 15.8 231.8 16.8 231.9 17.8 232.1 18.8 231.9 19.8 232.0 20.8 231.9 21.8 232.0 22.9 231.9 23.9 231.7 24.9 231.9 25.9 231.8 26.9 231.8 27.9 231.7 28.9 231.5 29.9 231.7 30.9 231.6 31.9 231.4 32.9 231.4 33.9 231.2 34.9 230.9 35.9 230.7 36.9 230.4 37.9 229.9 38.9 229.2 39.9 228.2 41.0 226.9 42.0 225.6 43.0 224.9 44.0 225.5 45.0 226.6 46.0 227.8 47.0 229.0 48.0 229.6 49.0 230.1 50.0 230.5 51.0 230.8 52.0 230.8 53.0 231.1 54.0 231.1 55.0 231.2 56.0 231.1 57.0 231.3 58.0 231.1 59.1 231.1 60.1 231.1 61.1 231.0 62.1 231.0 63.1 230.9 64.1 230.6 65.1 230.5 66.1 230.3 67.1 230.0 68.1 229.8 69.1 229.3 70.1 228.8 71.1 228.2 72.1 227.3 73.1 226.4 74.1 224.9 75.1 223.6 76.1 222.1 77.2 220.9 78.2 220.6 79.2 221.2 80.2 222.3 81.2 223.8 82.2 225.3 83.2 226.5 84.2 227.5 85.2 228.3 86.2 229.1 87.2 229.5 88.2 229.8 89.2 230.2 90.2 230.5 91.2 230.6 92.2 230.9 93.2 231.0 94.2 231.0 95.3 231.4 96.3 231.3 97.3 231.4 98.3 231.5 99.3 231.6 100.3 231.6 101.3 231.7 102.3 231.7 103.3 231.7 104.3 231.8 105.3 231.8 106.3 231.8 107.3 231.8 108.3 231.8 109.3 231.9 110.3 231.9 111.3 232.0 112.3 232.1 113.4 231.9 114.4 231.8 115.4 232.1 116.4 232.0 117.4 231.9 118.4 231.9 119.4 231.9 120.4 231.9 121.4 232.0" stroke="#f2404a"/>
<path d="M13.8 243.7 14.8 243.7 15.8 243.7 16.8 243.6 17.8 243.6 18.8 243.6 19.8 243.7 20.8 243.5 21.8 243.7 22.9 243.6 23.9 243.8 24.9 243.6 25.9 243.5 26.9 243.5 27.9 243.4 28.9 243.5 29.9 243.2 30.9 243.2 31.9 243.2 32.9 243.1 33.9 243.0 34.9 242.7 35.9 242.6 36.9 242.4 37.9 241.9 38.9 241.3 39.9 240.5 41.0 239.6 42.0 238.3 43.0 237.4 44.0 237.3 45.0 238.3 46.0 239.4 47.0 240.3 48.0 241.2 49.0 241.7 50.0 242.0 51.0 242.4 52.0 242.6 53.0 242.8 54.0 242.9 55.0 242.9 56.0 243.1 57.0 243.1 58.0 242.9 59.1 243.0 60.1 242.8 61.1 242.9 62.1 242.8 63.1 242.7 64.1 242.6 65.1 242.6 66.1 242.3 67.1 242.3 68.1 241.9 69.1 241.4 70.1 241.2 71.1 240.5 72.1 240.0 73.1 239.1 74.1 238.0 75.1 236.6 76.1 235.2 77.2 233.9 78.2 233.1 79.2 233.5 80.2 234.5 81.2 235.9 82.2 237.4 83.2 238.7 84.2 239.7 85.2 240.4 86.2 241.1 87.2 241.5 88.2 241.9 89.2 242.0 90.2 242.4 91.2 242.7 92.2 242.7 93.2 242.9 94.2 243.0 95.3 243.2 96.3 243.1 97.3 243.2 98.3 243.3 99.3 243.4 100.3 243.3 101.3 243.4 102.3 243.3 103.3 243.5 104.3 243.6 105.3 243.5 106.3 243.6 107.3 243.5 108.3 243.7 109.3 243.6 110.3 243.6 111.3 243.6 112.3 243.7 113.4 243.7 114.4 243.7 115.4 243.7 116.4 243.7 117.4 243.7 118.4 243.9 119.4 243.7 120.4 243.6 121.4 243.7" stroke="#f89a62"/>
<path d="M13.8 254.4 14.8 254.4 15.8 254.4 16.8 254.5 17.8 254.3 18.8 254.3 19.8 254.3 20.8 254.3 21.8 254.3 22.9 254.3 23.9 254.2 24.9 254.2 25.9 254.2 26.9 254.3 27.9 254.2 28.9 254.0 29.9 254.1 30.9 254.1 31.9 253.9 32.9 253.9 33.9 253.5 34.9 253.4 35.9 253.1 36.9 252.9 37.9 252.4 38.9 251.7 39.9 250.8 41.0 249.7 42.0 248.5 43.0 248.1 44.0 248.6 45.0 249.8 46.0 251.0 47.0 251.7 48.0 252.4 49.0 252.7 50.0 252.9 51.0 253.1 52.0 253.4 53.0 253.5 54.0 253.5 55.0 253.7 56.0 253.7 57.0 253.6 58.0 253.7 59.1 253.7 60.1 253.7 61.1 253.6 62.1 253.6 63.1 253.4 64.1 253.4 65.1 253.1 66.1 253.0 67.1 252.9 68.1 252.5 69.1 252.3 70.1 251.7 71.1 251.2 72.1 250.5 73.1 249.5 74.1 248.5 75.1 247.0 76.1 245.5 77.2 244.4 78.2 244.0 79.2 244.6 80.2 245.7 81.2 247.3 82.2 248.6 83.2 249.7 84.2 250.6 85.2 251.4 86.2 251.7 87.2 252.4 88.2 252.7 89.2 253.0 90.2 253.1 91.2 253.4 92.2 253.4 93.2 253.7 94.2 253.7 95.3 253.8 96.3 253.8 97.3 254.0 98.3 254.1 99.3 254.0 100.3 254.2 101.3 254.2 102.3 254.1 103.3 254.3 104.3 254.1 105.3 254.3 106.3 254.3 107.3 254.2 108.3 254.2 109.3 254.3 110.3 254.3 111.3 254.3 112.3 254.3 113.4 254.3 114.4 254.4 115.4 254.4 116.4 254.4 117.4 254.3 118.4 254.3 119.4 254.4 120.4 254.3 121.4 254.4" stroke="#f6928a"/>
<path d="M13.8 265.5 14.8 265.5 15.8 265.3 16.8 265.6 17.8 265.4 18.8 265.4 19.8 265.4 20.8 265.2 21.8 265.3 22.9 265.3 23.9 265.4 24.9 265.3 25.9 265.3 26.9 265.3 27.9 265.2 28.9 265.2 29.9 265.1 30.9 264.9 31.9 264.9 32.9 264.8 33.9 264.8 34.9 264.4 35.9 264.1 36.9 263.9 37.9 263.4 38.9 262.6 39.9 261.7 41.0 260.5 42.0 259.7 43.0 259.5 44.0 260.2 45.0 261.4 46.0 262.3 47.0 263.0 48.0 263.7 49.0 263.9 50.0 264.3 51.0 264.4 52.0 264.6 53.0 264.7 54.0 264.8 55.0 264.9 56.0 264.9 57.0 264.9 58.0 264.7 59.1 264.7 60.1 264.9 61.1 264.6 62.1 264.6 63.1 264.6 64.1 264.4 65.1 264.3 66.1 264.2 67.1 263.9 68.1 263.6 69.1 263.4 70.1 262.9 71.1 262.3 72.1 261.6 73.1 260.7 74.1 259.4 75.1 258.0 76.1 256.6 77.2 255.6 78.2 255.3 79.2 256.0 80.2 257.2 81.2 258.6 82.2 260.1 83.2 261.1 84.2 262.0 85.2 262.7 86.2 263.0 87.2 263.5 88.2 264.0 89.2 264.1 90.2 264.4 91.2 264.4 92.2 264.6 93.2 264.8 94.2 264.8 95.3 264.9 96.3 265.0 97.3 265.1 98.3 265.1 99.3 265.1 100.3 265.3 101.3 265.2 102.3 265.3 103.3 265.3 104.3 265.3 105.3 265.4 106.3 265.4 107.3 265.4 108.3 265.3 109.3 265.4 110.3 265.4 111.3 265.4 112.3 265.6 113.4 265.4 114.4 265.5 115.4 265.5 116.4 265.5 117.4 265.4 118.4 265.4 119.4 265.4 120.4 265.5 121.4 265.5" stroke="#f486c8"/>
<path d="M13.8 278.1 14.8 278.0 15.8 278.0 16.8 278.0 17.8 278.1 18.8 278.0 19.8 278.0 20.8 278.0 21.8 278.0 22.9 278.2 23.9 278.0 24.9 277.8 25.9 277.9 26.9 278.0 27.9 277.8 28.9 277.9 29.9 277.5 30.9 277.6 31.9 277.6 32.9 277.3 33.9 277.3 34.9 277.0 35.9 276.8 36.9 276.5 37.9 275.9 38.9 275.4 39.9 274.2 41.0 273.1 42.0 271.8 43.0 271.1 44.0 271.1 45.0 272.2 46.0 273.7 47.0 274.6 48.0 275.5 49.0 276.1 50.0 276.4 51.0 276.7 52.0 276.8 53.0 277.0 54.0 277.3 55.0 277.0 56.0 277.2 57.0 277.3 58.0 277.3 59.1 277.3 60.1 277.2 61.1 277.1 62.1 277.0 63.1 277.0 64.1 276.8 65.1 276.6 66.1 276.4 67.1 276.0 68.1 275.9 69.1 275.3 70.1 274.8 71.1 274.2 72.1 273.1 73.1 272.0 74.1 270.6 75.1 268.8 76.1 267.0 77.2 265.8 78.2 265.3 79.2 266.2 80.2 267.8 81.2 269.5 82.2 271.1 83.2 272.6 84.2 273.7 85.2 274.4 86.2 275.0 87.2 275.7 88.2 276.1 89.2 276.4 90.2 276.7 91.2 277.0 92.2 276.9 93.2 277.1 94.2 277.3 95.3 277.3 96.3 277.5 97.3 277.5 98.3 277.6 99.3 277.7 100.3 277.7 101.3 277.7 102.3 277.8 103.3 277.7 104.3 277.9 105.3 277.9 106.3 278.0 107.3 277.9 108.3 278.0 109.3 277.9 110.3 277.9 111.3 278.0 112.3 277.9 113.4 277.9 114.4 278.0 115.4 278.1 116.4 278.2 117.4 278.1 118.4 278.1 119.4 278.1 120.4 278.1 121.4 278.2" stroke="#f48af4"/>
<path d="M13.8 288.5 14.8 288.7 15.8 288.6 16.8 288.5 17.8 288.7 18.8 288.5 19.8 288.5 20.8 288.6 21.8 288.6 22.9 288.5 23.9 288.6 24.9 288.4 25.9 288.5 26.9 288.5 27.9 288.5 28.9 288.3 29.9 288.2 30.9 288.4 31.9 288.3 32.9 288.3 33.9 288.0 34.9 287.9 35.9 287.6 36.9 287.6 37.9 287.3 38.9 286.9 39.9 286.2 41.0 285.6 42.0 284.2 43.0 282.8 44.0 281.6 45.0 281.7 46.0 282.7 47.0 284.1 48.0 285.5 49.0 286.2 50.0 286.7 51.0 287.2 52.0 287.5 53.0 287.7 54.0 287.8 55.0 287.9 56.0 288.0 57.0 288.0 58.0 288.1 59.1 288.1 60.1 288.1 61.1 287.9 62.1 288.0 63.1 288.0 64.1 287.8 65.1 287.7 66.1 287.7 67.1 287.6 68.1 287.4 69.1 287.2 70.1 287.0 71.1 286.6 72.1 286.2 73.1 285.5 74.1 284.9 75.1 283.7 76.1 282.5 77.2 281.2 78.2 279.8 79.2 279.3 80.2 280.0 81.2 280.9 82.2 282.6 83.2 283.9 84.2 284.8 85.2 285.5 86.2 286.2 87.2 286.7 88.2 286.9 89.2 287.2 90.2 287.4 91.2 287.4 92.2 287.8 93.2 288.1 94.2 288.0 95.3 288.2 96.3 288.1 97.3 288.2 98.3 288.3 99.3 288.4 100.3 288.3 101.3 288.4 102.3 288.6 103.3 288.3 104.3 288.4 105.3 288.5 106.3 288.4 107.3 288.6 108.3 288.5 109.3 288.4 110.3 288.4 111.3 288.5 112.3 288.6 113.4 288.6 114.4 288.5 115.4 288.5 116.4 288.6 117.4 288.7 118.4 288.7 119.4 288.7 120.4 288.5 121.4 288.6" stroke="#e438e6"/>
<path d="M13.8 302.5 14.8 302.5 15.8 302.2 16.8 302.3 17.8 302.5 18.8 302.4 19.8 302.4 20.8 302.4 21.8 302.3 22.9 302.0 23.9 302.1 24.9 302.1 25.9 302.1 26.9 302.0 27.9 301.8 28.9 301.9 29.9 301.9 30.9 301.4 31.9 301.4 32.9 301.1 33.9 300.9 34.9 300.5 35.9 300.3 36.9 299.7 37.9 298.9 38.9 298.2 39.9 297.5 41.0 296.6 42.0 296.2 43.0 296.1 44.0 296.4 45.0 297.0 46.0 297.9 47.0 298.8 48.0 299.3 49.0 299.8 50.0 300.3 51.0 300.8 52.0 300.7 53.0 300.9 54.0 301.1 55.0 301.3 56.0 301.4 57.0 301.2 58.0 301.2 59.1 301.3 60.1 301.3 61.1 301.2 62.1 301.2 63.1 301.0 64.1 300.9 65.1 300.7 66.1 300.5 67.1 300.1 68.1 299.8 69.1 299.6 70.1 298.9 71.1 298.5 72.1 297.6 73.1 296.7 74.1 295.8 75.1 295.1 76.1 294.0 77.2 293.4 78.2 293.3 79.2 293.9 80.2 294.5 81.2 295.4 82.2 296.4 83.2 297.2 84.2 298.2 85.2 298.7 86.2 299.3 87.2 299.9 88.2 300.3 89.2 300.6 90.2 300.8 91.2 301.0 92.2 301.2 93.2 301.3 94.2 301.7 95.3 301.9 96.3 301.8 97.3 301.8 98.3 301.9 99.3 302.1 100.3 302.0 101.3 301.9 102.3 302.1 103.3 302.2 104.3 302.3 105.3 302.1 106.3 302.3 107.3 302.3 108.3 302.2 109.3 302.3 110.3 302.5 111.3 302.3 112.3 302.4 113.4 302.4 114.4 302.4 115.4 302.5 116.4 302.5 117.4 302.5 118.4 302.4 119.4 302.6 120.4 302.5 121.4 302.6" stroke="#a64ce8"/>
<path d="M13.8 314.5 14.8 314.5 15.8 314.5 16.8 314.5 17.8 314.5 18.8 314.5 19.8 314.6 20.8 314.3 21.8 314.5 22.9 314.4 23.9 314.4 24.9 314.3 25.9 314.4 26.9 314.2 27.9 314.1 28.9 314.1 29.9 314.0 30.9 314.0 31.9 314.1 32.9 313.8 33.9 313.7 34.9 313.6 35.9 313.4 36.9 313.2 37.9 312.9 38.9 312.3 39.9 311.7 41.0 311.1 42.0 309.9 43.0 308.8 44.0 307.9 45.0 307.8 46.0 308.4 47.0 309.5 48.0 310.6 49.0 311.6 50.0 312.1 51.0 312.6 52.0 313.0 53.0 313.1 54.0 313.4 55.0 313.4 56.0 313.4 57.0 313.6 58.0 313.6 59.1 313.6 60.1 313.6 61.1 313.7 62.1 313.5 63.1 313.5 64.1 313.4 65.1 313.4 66.1 313.2 67.1 313.1 68.1 312.9 69.1 312.6 70.1 312.4 71.1 312.0 72.1 311.6 73.1 311.0 74.1 310.4 75.1 309.4 76.1 308.2 77.2 306.9 78.2 305.4 79.2 304.1 80.2 303.3 81.2 303.2 82.2 303.9 83.2 305.4 84.2 307.0 85.2 308.2 86.2 309.4 87.2 310.2 88.2 311.1 89.2 311.7 90.2 312.2 91.2 312.5 92.2 312.8 93.2 313.1 94.2 313.3 95.3 313.5 96.3 313.4 97.3 313.8 98.3 313.8 99.3 313.9 100.3 314.0 101.3 313.9 102.3 314.2 103.3 314.0 104.3 314.3 105.3 314.2 106.3 314.0 107.3 314.4 108.3 314.4 109.3 314.2 110.3 314.3 111.3 314.4 112.3 314.4 113.4 314.5 114.4 314.4 115.4 314.3 116.4 314.5 117.4 314.4 118.4 314.4 119.4 314.3 120.4 314.5 121.4 314.5" stroke="#a8a4ee"/>
<path d="M13.8 326.7 14.8 326.7 15.8 326.6 16.8 326.6 17.8 326.7 18.8 326.7 19.8 326.6 20.8 326.5 21.8 326.4 22.9 326.6 23.9 326.5 24.9 326.4 25.9 326.4 26.9 326.5 27.9 326.4 28.9 326.2 29.9 326.4 30.9 326.3 31.9 326.4 32.9 326.2 33.9 326.1 34.9 325.9 35.9 325.9 36.9 325.7 37.9 325.5 38.9 325.2 39.9 325.0 41.0 324.3 42.0 323.7 43.0 322.8 44.0 321.5 45.0 320.3 46.0 319.5 47.0 320.1 48.0 321.0 49.0 322.3 50.0 323.4 51.0 324.1 52.0 324.5 53.0 325.0 54.0 325.3 55.0 325.3 56.0 325.7 57.0 325.7 58.0 325.8 59.1 325.8 60.1 325.8 61.1 325.8 62.1 325.9 63.1 325.8 64.1 325.7 65.1 325.7 66.1 325.6 67.1 325.6 68.1 325.4 69.1 325.2 70.1 325.1 71.1 324.7 72.1 324.5 73.1 324.1 74.1 323.6 75.1 322.9 76.1 322.0 77.2 320.8 78.2 319.5 79.2 317.9 80.2 316.2 81.2 315.1 82.2 315.1 83.2 315.9 84.2 317.5 85.2 319.1 86.2 320.6 87.2 321.6 88.2 322.6 89.2 323.4 90.2 324.0 91.2 324.4 92.2 324.6 93.2 325.0 94.2 325.2 95.3 325.4 96.3 325.6 97.3 325.6 98.3 325.8 99.3 325.9 100.3 326.1 101.3 325.9 102.3 326.1 103.3 326.2 104.3 326.1 105.3 326.3 106.3 326.3 107.3 326.4 108.3 326.4 109.3 326.4 110.3 326.4 111.3 326.5 112.3 326.5 113.4 326.5 114.4 326.5 115.4 326.6 116.4 326.5 117.4 326.5 118.4 326.5 119.4 326.7 120.4 326.5 121.4 326.7" stroke="#44a0f4"/>
<path d="M13.8 338.3 14.8 338.3 15.8 338.3 16.8 338.4 17.8 338.3 18.8 338.1 19.8 338.3 20.8 338.3 21.8 338.2 22.9 338.2 23.9 338.1 24.9 338.3 25.9 338.3 26.9 337.9 27.9 338.1 28.9 338.1 29.9 338.1 30.9 338.0 31.9 338.1 32.9 337.9 33.9 337.9 34.9 337.8 35.9 337.7 36.9 337.7 37.9 337.6 38.9 337.5 39.9 337.0 41.0 336.8 42.0 336.3 43.0 335.4 44.0 334.7 45.0 333.4 46.0 332.2 47.0 331.4 48.0 331.7 49.0 332.8 50.0 333.9 51.0 335.1 52.0 335.9 53.0 336.4 54.0 336.7 55.0 337.1 56.0 337.1 57.0 337.3 58.0 337.3 59.1 337.6 60.1 337.5 61.1 337.7 62.1 337.6 63.1 337.6 64.1 337.5 65.1 337.5 66.1 337.5 67.1 337.4 68.1 337.3 69.1 337.2 70.1 337.0 71.1 336.8 72.1 336.5 73.1 336.2 74.1 336.0 75.1 335.4 76.1 334.7 77.2 333.9 78.2 332.7 79.2 331.5 80.2 330.2 81.2 329.0 82.2 328.4 83.2 328.9 84.2 330.0 85.2 331.3 86.2 332.6 87.2 333.7 88.2 334.6 89.2 335.3 90.2 335.9 91.2 336.4 92.2 336.6 93.2 337.1 94.2 337.1 95.3 337.2 96.3 337.4 97.3 337.6 98.3 337.6 99.3 337.7 100.3 337.7 101.3 337.7 102.3 337.8 103.3 337.9 104.3 338.0 105.3 338.0 106.3 338.0 107.3 338.1 108.3 338.0 109.3 338.3 110.3 338.2 111.3 338.1 112.3 338.2 113.4 338.2 114.4 338.3 115.4 338.2 116.4 338.2 117.4 338.1 118.4 338.2 119.4 338.3 120.4 338.3 121.4 338.2" stroke="#4f4fe6"/>
<path d="M13.8 349.9 14.8 350.2 15.8 350.0 16.8 350.1 17.8 349.9 18.8 349.9 19.8 349.9 20.8 349.9 21.8 349.9 22.9 350.0 23.9 349.9 24.9 349.8 25.9 349.9 26.9 349.9 27.9 349.9 28.9 349.7 29.9 349.8 30.9 349.8 31.9 349.8 32.9 349.7 33.9 349.6 34.9 349.4 35.9 349.4 36.9 349.2 37.9 349.1 38.9 349.1 39.9 348.7 41.0 348.3 42.0 347.8 43.0 347.4 44.0 346.5 45.0 345.2 46.0 344.0 47.0 343.3 48.0 343.5 49.0 344.6 50.0 346.0 51.0 346.8 52.0 347.6 53.0 348.1 54.0 348.4 55.0 348.7 56.0 349.0 57.0 349.1 58.0 349.3 59.1 349.3 60.1 349.2 61.1 349.3 62.1 349.2 63.1 349.3 64.1 349.4 65.1 349.2 66.1 349.1 67.1 349.2 68.1 349.2 69.1 349.0 70.1 348.8 71.1 348.8 72.1 348.5 73.1 348.3 74.1 347.9 75.1 347.5 76.1 346.8 77.2 346.1 78.2 345.2 79.2 344.2 80.2 342.5 81.2 341.5 82.2 340.8 83.2 341.0 84.2 341.7 85.2 343.1 86.2 344.3 87.2 345.4 88.2 346.2 89.2 347.1 90.2 347.6 91.2 348.0 92.2 348.2 93.2 348.7 94.2 348.8 95.3 349.0 96.3 349.1 97.3 349.2 98.3 349.3 99.3 349.4 100.3 349.5 101.3 349.6 102.3 349.6 103.3 349.8 104.3 349.7 105.3 349.8 106.3 349.8 107.3 349.7 108.3 349.8 109.3 349.8 110.3 349.8 111.3 350.1 112.3 349.9 113.4 349.9 114.4 349.9 115.4 350.0 116.4 349.9 117.4 349.9 118.4 349.9 119.4 350.0 120.4 349.9 121.4 349.9" stroke="#4444b2"/>
<path d="M13.8 361.9 14.8 361.9 15.8 362.0 16.8 362.0 17.8 362.0 18.8 362.0 19.8 362.0 20.8 361.9 21.8 362.0 22.9 362.0 23.9 362.0 24.9 362.0 25.9 362.0 26.9 362.1 27.9 361.9 28.9 361.9 29.9 361.9 30.9 361.9 31.9 361.9 32.9 361.9 33.9 361.7 34.9 361.9 35.9 361.7 36.9 361.6 37.9 361.8 38.9 361.7 39.9 361.7 41.0 361.4 42.0 361.4 43.0 361.3 44.0 360.8 45.0 360.5 46.0 360.0 47.0 358.8 48.0 357.3 49.0 355.6 50.0 355.6 51.0 357.2 52.0 358.7 53.0 359.8 54.0 360.4 55.0 360.8 56.0 361.0 57.0 361.3 58.0 361.5 59.1 361.5 60.1 361.4 61.1 361.5 62.1 361.6 63.1 361.6 64.1 361.6 65.1 361.6 66.1 361.7 67.1 361.5 68.1 361.5 69.1 361.4 70.1 361.6 71.1 361.3 72.1 361.1 73.1 361.2 74.1 360.8 75.1 360.6 76.1 360.4 77.2 360.1 78.2 359.3 79.2 358.6 80.2 357.6 81.2 356.4 82.2 355.1 83.2 353.9 84.2 354.0 85.2 354.7 86.2 356.2 87.2 357.5 88.2 358.6 89.2 359.2 90.2 360.0 91.2 360.4 92.2 360.6 93.2 360.9 94.2 360.9 95.3 361.1 96.3 361.3 97.3 361.4 98.3 361.7 99.3 361.6 100.3 361.7 101.3 361.7 102.3 361.8 103.3 361.8 104.3 361.8 105.3 361.7 106.3 361.8 107.3 361.9 108.3 361.9 109.3 361.9 110.3 361.9 111.3 361.9 112.3 362.0 113.4 361.9 114.4 361.9 115.4 361.9 116.4 361.9 117.4 361.9 118.4 361.8 119.4 362.0 120.4 362.1 121.4 362.1" stroke="#467aa8"/>
</g>
<rect x="13.6" y="204.6" width="108.0" height="165.6" fill="none" stroke="#454545" stroke-width="1.10"/>
<path d="M29.0,370.2v-1.2 M44.5,370.2v-1.6 M59.9,370.2v-1.2 M75.3,370.2v-1.6 M90.7,370.2v-1.2 M106.2,370.2v-1.6" stroke="#3a3a3a" stroke-width="0.9"/>
<text class="tl" style="font-size:10.0px" transform="translate(7.82,376.90) scale(0.7000,0.6831)">360</text>
<text class="tl" style="font-size:10.0px" transform="translate(38.68,376.90) scale(0.7000,0.6831)">380</text>
<text class="tl" style="font-size:10.0px" transform="translate(69.57,376.90) scale(0.7000,0.6831)">400</text>
<text class="tl" style="font-size:10.0px" transform="translate(100.42,376.90) scale(0.7000,0.6831)">420</text>
<text class="ax" style="font-size:10.0px" transform="translate(31.06,388.80) scale(0.7993,0.7558)">Raman shift (cm<tspan style="font-size:4.50px" dy="-5.60">-1</tspan><tspan dy="5.60">)</tspan></text>
<text class="yl" style="font-size:10.0px" transform="translate(8.00,322.07) rotate(-90) scale(0.8497,0.8866)">Intensity (arb. units)</text>
<text class="pl" style="font-size:10.0px" transform="translate(16.31,214.93) scale(0.9789,0.9003)">(f)</text>
<text class="ly" style="font-size:10.0px" transform="translate(107.17,214.80) scale(0.9355,0.9448)">2L</text>
<g fill="none" stroke-width="1.2" stroke-linejoin="round">
<path d="M146.5 223.1 147.5 223.1 148.5 223.1 149.5 223.0 150.5 223.0 151.5 223.1 152.5 223.0 153.5 223.0 154.5 223.0 155.6 223.0 156.6 222.9 157.6 222.9 158.6 222.9 159.6 222.8 160.6 222.7 161.6 222.7 162.6 222.6 163.6 222.5 164.6 222.4 165.6 222.1 166.6 221.9 167.6 221.5 168.6 221.0 169.6 220.2 170.6 219.0 171.6 217.5 172.7 215.9 173.7 215.3 174.7 216.4 175.7 218.0 176.7 219.4 177.7 220.4 178.7 221.1 179.7 221.6 180.7 221.9 181.7 222.1 182.7 222.2 183.7 222.3 184.7 222.4 185.7 222.5 186.7 222.5 187.7 222.5 188.7 222.5 189.8 222.5 190.8 222.5 191.8 222.5 192.8 222.4 193.8 222.3 194.8 222.2 195.8 222.1 196.8 222.0 197.8 221.8 198.8 221.6 199.8 221.3 200.8 220.9 201.8 220.5 202.8 219.8 203.8 218.9 204.8 217.8 205.8 216.2 206.8 214.4 207.9 212.7 208.9 211.7 209.9 212.1 210.9 213.5 211.9 215.3 212.9 216.9 213.9 218.3 214.9 219.3 215.9 220.1 216.9 220.7 217.9 221.1 218.9 221.5 219.9 221.8 220.9 222.0 221.9 222.1 222.9 222.3 223.9 222.4 225.0 222.5 226.0 222.6 227.0 222.6 228.0 222.7 229.0 222.7 230.0 222.8 231.0 222.8 232.0 222.8 233.0 222.9 234.0 222.9 235.0 222.9 236.0 223.0 237.0 223.0 238.0 223.0 239.0 223.0 240.0 223.0 241.0 223.0 242.1 223.1 243.1 223.1 244.1 223.0 245.1 223.1 246.1 223.1 247.1 223.1 248.1 223.1 249.1 223.1 250.1 223.1" stroke="#ae4482"/>
<path d="M146.5 235.4 147.5 235.4 148.5 235.4 149.5 235.4 150.5 235.4 151.5 235.3 152.5 235.3 153.5 235.3 154.5 235.3 155.6 235.3 156.6 235.3 157.6 235.2 158.6 235.1 159.6 235.1 160.6 235.1 161.6 235.0 162.6 234.9 163.6 234.8 164.6 234.7 165.6 234.6 166.6 234.3 167.6 234.0 168.6 233.6 169.6 232.9 170.6 231.9 171.6 230.5 172.7 228.8 173.7 227.6 174.7 227.9 175.7 229.5 176.7 231.1 177.7 232.3 178.7 233.1 179.7 233.7 180.7 234.0 181.7 234.3 182.7 234.4 183.7 234.6 184.7 234.7 185.7 234.7 186.7 234.8 187.7 234.8 188.7 234.8 189.8 234.8 190.8 234.8 191.8 234.7 192.8 234.7 193.8 234.6 194.8 234.5 195.8 234.4 196.8 234.3 197.8 234.1 198.8 233.9 199.8 233.7 200.8 233.3 201.8 232.8 202.8 232.3 203.8 231.5 204.8 230.4 205.8 229.0 206.8 227.3 207.9 225.4 208.9 224.0 209.9 223.7 210.9 224.6 211.9 226.4 212.9 228.3 213.9 229.9 214.9 231.1 215.9 232.0 216.9 232.7 217.9 233.2 218.9 233.6 219.9 233.9 220.9 234.1 221.9 234.3 222.9 234.5 223.9 234.6 225.0 234.7 226.0 234.8 227.0 234.9 228.0 235.0 229.0 235.0 230.0 235.1 231.0 235.1 232.0 235.2 233.0 235.2 234.0 235.2 235.0 235.2 236.0 235.3 237.0 235.3 238.0 235.3 239.0 235.3 240.0 235.3 241.0 235.3 242.1 235.4 243.1 235.3 244.1 235.3 245.1 235.4 246.1 235.4 247.1 235.4 248.1 235.4 249.1 235.4 250.1 235.4" stroke="#f2404a"/>
<path d="M146.5 246.0 147.5 246.0 148.5 245.9 149.5 245.9 150.5 245.9 151.5 245.9 152.5 245.9 153.5 245.8 154.5 245.8 155.6 245.7 156.6 245.7 157.6 245.7 158.6 245.6 159.6 245.5 160.6 245.4 161.6 245.3 162.6 245.1 163.6 244.9 164.6 244.6 165.6 244.2 166.6 243.7 167.6 242.9 168.6 242.0 169.6 240.8 170.6 239.8 171.6 239.5 172.7 239.9 173.7 241.0 174.7 242.1 175.7 243.0 176.7 243.6 177.7 244.2 178.7 244.5 179.7 244.7 180.7 244.9 181.7 245.1 182.7 245.1 183.7 245.2 184.7 245.3 185.7 245.3 186.7 245.3 187.7 245.3 188.7 245.3 189.8 245.2 190.8 245.2 191.8 245.1 192.8 245.1 193.8 244.9 194.8 244.8 195.8 244.6 196.8 244.4 197.8 244.2 198.8 243.8 199.8 243.4 200.8 242.9 201.8 242.2 202.8 241.3 203.8 240.3 204.8 238.9 205.8 237.5 206.8 236.2 207.9 235.5 208.9 235.6 209.9 236.5 210.9 237.8 211.9 239.3 212.9 240.5 213.9 241.6 214.9 242.4 215.9 243.1 216.9 243.6 217.9 244.0 218.9 244.4 219.9 244.6 220.9 244.8 221.9 245.0 222.9 245.1 223.9 245.2 225.0 245.3 226.0 245.4 227.0 245.5 228.0 245.5 229.0 245.6 230.0 245.7 231.0 245.7 232.0 245.7 233.0 245.8 234.0 245.8 235.0 245.8 236.0 245.9 237.0 245.9 238.0 245.9 239.0 245.9 240.0 245.9 241.0 245.9 242.1 245.9 243.1 246.0 244.1 246.0 245.1 246.0 246.1 246.0 247.1 246.0 248.1 246.0 249.1 246.0 250.1 246.0" stroke="#f89a62"/>
<path d="M146.5 257.0 147.5 257.0 148.5 256.9 149.5 256.9 150.5 256.9 151.5 256.9 152.5 256.9 153.5 256.8 154.5 256.8 155.6 256.8 156.6 256.7 157.6 256.7 158.6 256.6 159.6 256.6 160.6 256.5 161.6 256.4 162.6 256.3 163.6 256.1 164.6 255.9 165.6 255.6 166.6 255.2 167.6 254.6 168.6 253.8 169.6 252.7 170.6 251.2 171.6 249.9 172.7 249.5 173.7 250.4 174.7 251.8 175.7 253.1 176.7 254.1 177.7 254.8 178.7 255.3 179.7 255.6 180.7 255.9 181.7 256.0 182.7 256.1 183.7 256.3 184.7 256.3 185.7 256.4 186.7 256.4 187.7 256.4 188.7 256.4 189.8 256.4 190.8 256.3 191.8 256.3 192.8 256.3 193.8 256.2 194.8 256.1 195.8 256.1 196.8 255.9 197.8 255.7 198.8 255.5 199.8 255.2 200.8 254.9 201.8 254.4 202.8 253.7 203.8 252.8 204.8 251.7 205.8 250.2 206.8 248.4 207.9 246.7 208.9 245.5 209.9 245.7 210.9 246.9 211.9 248.7 212.9 250.5 213.9 252.0 214.9 253.1 215.9 253.9 216.9 254.5 217.9 254.9 218.9 255.4 219.9 255.6 220.9 255.8 221.9 256.0 222.9 256.2 223.9 256.3 225.0 256.4 226.0 256.5 227.0 256.6 228.0 256.6 229.0 256.6 230.0 256.7 231.0 256.8 232.0 256.8 233.0 256.8 234.0 256.8 235.0 256.9 236.0 256.9 237.0 256.9 238.0 256.9 239.0 256.9 240.0 256.9 241.0 256.9 242.1 257.0 243.1 256.9 244.1 257.0 245.1 257.0 246.1 257.0 247.1 257.0 248.1 257.1 249.1 257.0 250.1 257.0" stroke="#f6928a"/>
<path d="M146.5 268.5 147.5 268.4 148.5 268.5 149.5 268.5 150.5 268.4 151.5 268.4 152.5 268.4 153.5 268.4 154.5 268.4 155.6 268.3 156.6 268.3 157.6 268.3 158.6 268.2 159.6 268.1 160.6 268.1 161.6 268.0 162.6 267.9 163.6 267.7 164.6 267.6 165.6 267.3 166.6 266.9 167.6 266.4 168.6 265.8 169.6 264.8 170.6 263.6 171.6 262.2 172.7 261.4 173.7 261.6 174.7 262.9 175.7 264.2 176.7 265.3 177.7 266.1 178.7 266.7 179.7 267.0 180.7 267.3 181.7 267.5 182.7 267.7 183.7 267.7 184.7 267.8 185.7 267.9 186.7 267.9 187.7 268.0 188.7 267.9 189.8 267.9 190.8 267.9 191.8 267.9 192.8 267.8 193.8 267.8 194.8 267.7 195.8 267.6 196.8 267.5 197.8 267.4 198.8 267.2 199.8 267.0 200.8 266.7 201.8 266.3 202.8 265.8 203.8 265.2 204.8 264.3 205.8 263.1 206.8 261.6 207.9 259.8 208.9 258.0 209.9 256.8 210.9 256.8 211.9 258.1 212.9 260.0 213.9 261.8 214.9 263.2 215.9 264.5 216.9 265.3 217.9 265.9 218.9 266.4 219.9 266.8 220.9 267.1 221.9 267.3 222.9 267.5 223.9 267.6 225.0 267.8 226.0 267.8 227.0 268.0 228.0 268.0 229.0 268.1 230.0 268.1 231.0 268.1 232.0 268.2 233.0 268.3 234.0 268.3 235.0 268.3 236.0 268.3 237.0 268.3 238.0 268.4 239.0 268.4 240.0 268.4 241.0 268.4 242.1 268.4 243.1 268.4 244.1 268.5 245.1 268.5 246.1 268.5 247.1 268.5 248.1 268.5 249.1 268.5 250.1 268.5" stroke="#f486c8"/>
<path d="M146.5 280.0 147.5 280.0 148.5 280.0 149.5 279.9 150.5 280.0 151.5 279.9 152.5 279.9 153.5 279.9 154.5 279.9 155.6 279.9 156.6 279.8 157.6 279.8 158.6 279.8 159.6 279.7 160.6 279.7 161.6 279.6 162.6 279.5 163.6 279.4 164.6 279.3 165.6 279.2 166.6 279.0 167.6 278.7 168.6 278.3 169.6 277.8 170.6 277.0 171.6 275.9 172.7 274.6 173.7 273.3 174.7 272.9 175.7 273.7 176.7 275.0 177.7 276.2 178.7 277.1 179.7 277.8 180.7 278.3 181.7 278.6 182.7 278.9 183.7 279.0 184.7 279.2 185.7 279.3 186.7 279.3 187.7 279.3 188.7 279.3 189.8 279.4 190.8 279.4 191.8 279.3 192.8 279.3 193.8 279.3 194.8 279.2 195.8 279.2 196.8 279.0 197.8 278.9 198.8 278.8 199.8 278.6 200.8 278.3 201.8 278.0 202.8 277.5 203.8 277.0 204.8 276.2 205.8 275.2 206.8 273.9 207.9 272.3 208.9 270.3 209.9 268.6 210.9 267.8 211.9 268.4 212.9 270.1 213.9 272.0 214.9 273.8 215.9 275.1 216.9 276.2 217.9 277.0 218.9 277.5 219.9 278.0 220.9 278.3 221.9 278.6 222.9 278.8 223.9 279.0 225.0 279.2 226.0 279.2 227.0 279.4 228.0 279.4 229.0 279.6 230.0 279.6 231.0 279.6 232.0 279.6 233.0 279.7 234.0 279.8 235.0 279.8 236.0 279.8 237.0 279.9 238.0 279.8 239.0 279.9 240.0 279.9 241.0 279.9 242.1 279.9 243.1 280.0 244.1 280.0 245.1 280.0 246.1 280.0 247.1 279.9 248.1 280.0 249.1 280.0 250.1 280.0" stroke="#f48af4"/>
<path d="M146.5 292.0 147.5 292.0 148.5 292.0 149.5 292.0 150.5 292.0 151.5 292.0 152.5 292.0 153.5 291.9 154.5 291.9 155.6 291.9 156.6 291.9 157.6 291.9 158.6 291.9 159.6 291.8 160.6 291.8 161.6 291.8 162.6 291.7 163.6 291.7 164.6 291.6 165.6 291.6 166.6 291.5 167.6 291.4 168.6 291.2 169.6 291.0 170.6 290.7 171.6 290.3 172.7 289.7 173.7 288.8 174.7 287.5 175.7 285.9 176.7 284.6 177.7 284.8 178.7 286.2 179.7 287.8 180.7 289.0 181.7 289.8 182.7 290.3 183.7 290.7 184.7 290.9 185.7 291.1 186.7 291.3 187.7 291.3 188.7 291.4 189.8 291.4 190.8 291.5 191.8 291.5 192.8 291.5 193.8 291.5 194.8 291.5 195.8 291.4 196.8 291.3 197.8 291.3 198.8 291.2 199.8 291.0 200.8 290.9 201.8 290.7 202.8 290.5 203.8 290.1 204.8 289.7 205.8 289.0 206.8 288.2 207.9 287.0 208.9 285.5 209.9 283.8 210.9 282.2 211.9 281.8 212.9 282.8 213.9 284.5 214.9 286.2 215.9 287.6 216.9 288.7 217.9 289.4 218.9 289.9 219.9 290.3 220.9 290.7 221.9 290.9 222.9 291.1 223.9 291.2 225.0 291.4 226.0 291.4 227.0 291.5 228.0 291.6 229.0 291.6 230.0 291.7 231.0 291.7 232.0 291.7 233.0 291.8 234.0 291.8 235.0 291.8 236.0 291.9 237.0 291.9 238.0 291.9 239.0 291.9 240.0 291.9 241.0 291.9 242.1 291.9 243.1 291.9 244.1 292.0 245.1 292.0 246.1 292.0 247.1 292.0 248.1 292.0 249.1 292.0 250.1 292.0" stroke="#e438e6"/>
<path d="M146.5 303.0 147.5 303.0 148.5 302.9 149.5 302.9 150.5 302.9 151.5 302.9 152.5 302.9 153.5 302.8 154.5 302.8 155.6 302.8 156.6 302.7 157.6 302.7 158.6 302.7 159.6 302.6 160.6 302.5 161.6 302.4 162.6 302.3 163.6 302.2 164.6 302.0 165.6 301.8 166.6 301.5 167.6 301.1 168.6 300.7 169.6 300.0 170.6 299.1 171.6 298.1 172.7 296.9 173.7 295.9 174.7 295.6 175.7 296.1 176.7 297.2 177.7 298.3 178.7 299.3 179.7 300.1 180.7 300.6 181.7 301.0 182.7 301.4 183.7 301.6 184.7 301.8 185.7 301.9 186.7 302.0 187.7 302.1 188.7 302.1 189.8 302.1 190.8 302.1 191.8 302.1 192.8 302.1 193.8 302.0 194.8 302.0 195.8 301.8 196.8 301.7 197.8 301.6 198.8 301.4 199.8 301.2 200.8 300.9 201.8 300.5 202.8 300.1 203.8 299.5 204.8 298.7 205.8 297.8 206.8 296.7 207.9 295.4 208.9 294.2 209.9 293.2 210.9 292.8 211.9 293.1 212.9 294.1 213.9 295.4 214.9 296.6 215.9 297.8 216.9 298.7 217.9 299.5 218.9 300.1 219.9 300.6 220.9 300.9 221.9 301.3 222.9 301.5 223.9 301.7 225.0 301.9 226.0 302.0 227.0 302.2 228.0 302.3 229.0 302.4 230.0 302.5 231.0 302.5 232.0 302.6 233.0 302.6 234.0 302.7 235.0 302.7 236.0 302.7 237.0 302.8 238.0 302.8 239.0 302.8 240.0 302.8 241.0 302.9 242.1 302.8 243.1 302.9 244.1 302.9 245.1 302.9 246.1 302.9 247.1 303.0 248.1 303.0 249.1 303.0 250.1 303.0" stroke="#a64ce8"/>
<path d="M146.5 314.9 147.5 314.9 148.5 314.9 149.5 314.9 150.5 314.9 151.5 314.9 152.5 314.9 153.5 314.8 154.5 314.8 155.6 314.8 156.6 314.8 157.6 314.7 158.6 314.8 159.6 314.8 160.6 314.7 161.6 314.7 162.6 314.6 163.6 314.6 164.6 314.5 165.6 314.4 166.6 314.3 167.6 314.2 168.6 314.1 169.6 313.9 170.6 313.6 171.6 313.2 172.7 312.7 173.7 312.0 174.7 310.9 175.7 309.6 176.7 308.2 177.7 307.7 178.7 308.3 179.7 309.6 180.7 310.9 181.7 311.9 182.7 312.7 183.7 313.2 184.7 313.5 185.7 313.7 186.7 313.9 187.7 314.1 188.7 314.1 189.8 314.2 190.8 314.3 191.8 314.2 192.8 314.3 193.8 314.2 194.8 314.3 195.8 314.2 196.8 314.1 197.8 314.1 198.8 314.0 199.8 313.9 200.8 313.8 201.8 313.6 202.8 313.5 203.8 313.2 204.8 312.9 205.8 312.4 206.8 311.8 207.9 311.1 208.9 310.1 209.9 308.9 210.9 307.5 211.9 306.3 212.9 305.4 213.9 305.4 214.9 306.4 215.9 307.7 216.9 309.1 217.9 310.3 218.9 311.3 219.9 312.0 220.9 312.5 221.9 312.9 222.9 313.3 223.9 313.6 225.0 313.8 226.0 314.0 227.0 314.1 228.0 314.2 229.0 314.3 230.0 314.4 231.0 314.4 232.0 314.5 233.0 314.5 234.0 314.5 235.0 314.6 236.0 314.7 237.0 314.7 238.0 314.7 239.0 314.7 240.0 314.8 241.0 314.8 242.1 314.8 243.1 314.8 244.1 314.8 245.1 314.8 246.1 314.8 247.1 314.8 248.1 314.9 249.1 314.8 250.1 314.9" stroke="#a8a4ee"/>
<path d="M146.5 327.2 147.5 327.2 148.5 327.2 149.5 327.2 150.5 327.2 151.5 327.2 152.5 327.2 153.5 327.1 154.5 327.1 155.6 327.1 156.6 327.1 157.6 327.1 158.6 327.1 159.6 327.1 160.6 327.1 161.6 327.1 162.6 327.0 163.6 327.0 164.6 326.9 165.6 326.9 166.6 326.8 167.6 326.8 168.6 326.7 169.6 326.5 170.6 326.4 171.6 326.2 172.7 325.9 173.7 325.4 174.7 324.8 175.7 323.8 176.7 322.5 177.7 320.9 178.7 319.8 179.7 320.1 180.7 321.5 181.7 323.1 182.7 324.3 183.7 325.0 184.7 325.5 185.7 325.9 186.7 326.1 187.7 326.3 188.7 326.4 189.8 326.6 190.8 326.6 191.8 326.7 192.8 326.7 193.8 326.6 194.8 326.6 195.8 326.6 196.8 326.6 197.8 326.6 198.8 326.5 199.8 326.4 200.8 326.4 201.8 326.2 202.8 326.1 203.8 325.9 204.8 325.6 205.8 325.3 206.8 324.8 207.9 324.2 208.9 323.4 209.9 322.2 210.9 320.6 211.9 318.7 212.9 317.0 213.9 316.2 214.9 316.9 215.9 318.7 216.9 320.6 217.9 322.2 218.9 323.4 219.9 324.2 220.9 324.9 221.9 325.4 222.9 325.7 223.9 326.0 225.0 326.1 226.0 326.3 227.0 326.4 228.0 326.5 229.0 326.7 230.0 326.7 231.0 326.8 232.0 326.8 233.0 326.9 234.0 326.9 235.0 327.0 236.0 327.0 237.0 327.0 238.0 327.1 239.0 327.1 240.0 327.0 241.0 327.1 242.1 327.1 243.1 327.1 244.1 327.2 245.1 327.1 246.1 327.2 247.1 327.1 248.1 327.2 249.1 327.2 250.1 327.2" stroke="#44a0f4"/>
<path d="M146.5 338.6 147.5 338.6 148.5 338.6 149.5 338.6 150.5 338.6 151.5 338.6 152.5 338.6 153.5 338.6 154.5 338.6 155.6 338.6 156.6 338.5 157.6 338.5 158.6 338.5 159.6 338.5 160.6 338.4 161.6 338.4 162.6 338.4 163.6 338.3 164.6 338.3 165.6 338.2 166.6 338.1 167.6 338.1 168.6 338.0 169.6 337.8 170.6 337.7 171.6 337.4 172.7 337.0 173.7 336.5 174.7 335.8 175.7 334.9 176.7 333.6 177.7 332.3 178.7 331.8 179.7 332.3 180.7 333.6 181.7 334.8 182.7 335.8 183.7 336.5 184.7 336.9 185.7 337.2 186.7 337.5 187.7 337.6 188.7 337.8 189.8 337.8 190.8 337.9 191.8 337.9 192.8 338.0 193.8 338.0 194.8 338.0 195.8 338.0 196.8 337.9 197.8 337.9 198.8 337.8 199.8 337.7 200.8 337.6 201.8 337.4 202.8 337.3 203.8 337.1 204.8 336.8 205.8 336.5 206.8 336.0 207.9 335.4 208.9 334.6 209.9 333.6 210.9 332.4 211.9 331.0 212.9 329.5 213.9 328.7 214.9 328.7 215.9 329.7 216.9 331.1 217.9 332.5 218.9 333.8 219.9 334.8 220.9 335.5 221.9 336.1 222.9 336.5 223.9 336.9 225.0 337.2 226.0 337.4 227.0 337.6 228.0 337.7 229.0 337.9 230.0 337.9 231.0 338.0 232.0 338.1 233.0 338.1 234.0 338.2 235.0 338.3 236.0 338.3 237.0 338.3 238.0 338.3 239.0 338.4 240.0 338.4 241.0 338.4 242.1 338.5 243.1 338.5 244.1 338.5 245.1 338.5 246.1 338.5 247.1 338.5 248.1 338.6 249.1 338.6 250.1 338.6" stroke="#4f4fe6"/>
<path d="M146.5 350.5 147.5 350.5 148.5 350.5 149.5 350.5 150.5 350.5 151.5 350.5 152.5 350.5 153.5 350.5 154.5 350.4 155.6 350.5 156.6 350.5 157.6 350.4 158.6 350.4 159.6 350.4 160.6 350.4 161.6 350.3 162.6 350.3 163.6 350.3 164.6 350.2 165.6 350.2 166.6 350.2 167.6 350.1 168.6 350.0 169.6 349.9 170.6 349.7 171.6 349.6 172.7 349.2 173.7 348.8 174.7 348.3 175.7 347.5 176.7 346.3 177.7 344.7 178.7 343.1 179.7 342.7 180.7 343.8 181.7 345.5 182.7 346.9 183.7 347.9 184.7 348.5 185.7 349.0 186.7 349.3 187.7 349.5 188.7 349.6 189.8 349.7 190.8 349.8 191.8 349.8 192.8 349.9 193.8 349.9 194.8 349.9 195.8 349.9 196.8 349.9 197.8 349.8 198.8 349.8 199.8 349.7 200.8 349.6 201.8 349.5 202.8 349.4 203.8 349.2 204.8 349.1 205.8 348.8 206.8 348.4 207.9 348.0 208.9 347.4 209.9 346.6 210.9 345.7 211.9 344.5 212.9 343.1 213.9 341.7 214.9 340.8 215.9 340.8 216.9 341.7 217.9 343.1 218.9 344.5 219.9 345.8 220.9 346.7 221.9 347.5 222.9 348.0 223.9 348.5 225.0 348.8 226.0 349.1 227.0 349.4 228.0 349.5 229.0 349.7 230.0 349.8 231.0 349.9 232.0 349.9 233.0 350.1 234.0 350.1 235.0 350.1 236.0 350.1 237.0 350.2 238.0 350.2 239.0 350.3 240.0 350.3 241.0 350.3 242.1 350.3 243.1 350.4 244.1 350.4 245.1 350.4 246.1 350.4 247.1 350.4 248.1 350.5 249.1 350.5 250.1 350.4" stroke="#4444b2"/>
<path d="M146.5 362.4 147.5 362.4 148.5 362.4 149.5 362.4 150.5 362.4 151.5 362.4 152.5 362.4 153.5 362.4 154.5 362.4 155.6 362.4 156.6 362.4 157.6 362.4 158.6 362.4 159.6 362.3 160.6 362.4 161.6 362.4 162.6 362.3 163.6 362.3 164.6 362.3 165.6 362.3 166.6 362.3 167.6 362.3 168.6 362.2 169.6 362.2 170.6 362.2 171.6 362.1 172.7 362.1 173.7 361.9 174.7 361.8 175.7 361.7 176.7 361.4 177.7 361.0 178.7 360.3 179.7 359.2 180.7 357.3 181.7 355.1 182.7 354.5 183.7 356.5 184.7 358.5 185.7 359.9 186.7 360.7 187.7 361.2 188.7 361.5 189.8 361.7 190.8 361.8 191.8 361.9 192.8 361.9 193.8 362.0 194.8 362.1 195.8 362.1 196.8 362.1 197.8 362.1 198.8 362.1 199.8 362.0 200.8 362.0 201.8 362.0 202.8 362.0 203.8 361.9 204.8 361.8 205.8 361.7 206.8 361.6 207.9 361.5 208.9 361.2 209.9 360.9 210.9 360.5 211.9 360.0 212.9 359.1 213.9 357.9 214.9 356.1 215.9 353.7 216.9 351.7 217.9 351.6 218.9 353.5 219.9 355.8 220.9 357.8 221.9 359.0 222.9 359.9 223.9 360.5 225.0 360.9 226.0 361.2 227.0 361.4 228.0 361.7 229.0 361.8 230.0 361.9 231.0 361.9 232.0 362.0 233.0 362.1 234.0 362.1 235.0 362.1 236.0 362.2 237.0 362.2 238.0 362.3 239.0 362.3 240.0 362.3 241.0 362.3 242.1 362.3 243.1 362.3 244.1 362.3 245.1 362.3 246.1 362.3 247.1 362.3 248.1 362.4 249.1 362.4 250.1 362.4" stroke="#467aa8"/>
</g>
<rect x="146.3" y="204.6" width="104.0" height="164.2" fill="none" stroke="#454545" stroke-width="1.10"/>
<path d="M161.2,368.8v-1.2 M176.0,368.8v-1.6 M190.9,368.8v-1.2 M205.7,368.8v-1.6 M220.6,368.8v-1.2 M235.4,368.8v-1.6" stroke="#3a3a3a" stroke-width="0.9"/>
<text class="tl" style="font-size:10.0px" transform="translate(140.53,376.10) scale(0.7000,0.6831)">360</text>
<text class="tl" style="font-size:10.0px" transform="translate(170.24,376.10) scale(0.7000,0.6831)">380</text>
<text class="tl" style="font-size:10.0px" transform="translate(199.98,376.10) scale(0.7000,0.6831)">400</text>
<text class="tl" style="font-size:10.0px" transform="translate(229.70,376.10) scale(0.7000,0.6831)">420</text>
<text class="ax" style="font-size:10.0px" transform="translate(162.37,388.30) scale(0.7898,0.7994)">Raman shift (cm<tspan style="font-size:4.50px" dy="-5.60">-1</tspan><tspan dy="5.60">)</tspan></text>
<text class="yl" style="font-size:10.0px" transform="translate(142.30,322.37) rotate(-90) scale(0.8507,0.8430)">Intensity (arb. units)</text>
<text class="pl" style="font-size:10.0px" transform="translate(148.33,214.35) scale(0.9346,0.9178)">(g)</text>
<text class="ly" style="font-size:10.0px" transform="translate(233.69,214.80) scale(0.9075,0.9448)">3L</text>
<g fill="none" stroke-width="1.2" stroke-linejoin="round">
<path d="M272.8 221.4 273.8 221.3 274.8 221.3 275.8 221.3 276.8 221.2 277.8 221.2 278.8 221.1 279.8 221.1 280.8 221.0 281.8 221.0 282.8 220.8 283.8 220.7 284.8 220.6 285.8 220.4 286.8 220.2 287.8 219.9 288.8 219.7 289.8 219.2 290.8 218.7 291.9 218.0 292.9 217.1 293.9 216.3 294.9 215.1 295.9 214.0 296.9 213.1 297.9 213.0 298.9 213.6 299.9 214.6 300.9 215.7 301.9 216.8 302.9 217.6 303.9 218.4 304.9 218.9 305.9 219.2 306.9 219.6 307.9 219.9 308.9 220.0 309.9 220.2 310.9 220.3 311.9 220.4 312.9 220.4 313.9 220.5 314.9 220.5 315.9 220.5 316.9 220.5 317.9 220.4 318.9 220.4 319.9 220.4 320.9 220.3 321.9 220.1 322.9 220.0 323.9 219.8 324.9 219.6 325.9 219.3 326.9 219.0 327.9 218.6 329.0 218.1 330.0 217.5 331.0 216.7 332.0 215.6 333.0 214.4 334.0 212.9 335.0 211.2 336.0 209.6 337.0 208.3 338.0 207.9 339.0 208.3 340.0 209.6 341.0 211.2 342.0 213.0 343.0 214.5 344.0 215.7 345.0 216.7 346.0 217.6 347.0 218.2 348.0 218.8 349.0 219.1 350.0 219.5 351.0 219.9 352.0 220.0 353.0 220.2 354.0 220.4 355.0 220.4 356.0 220.7 357.0 220.7 358.0 220.9 359.0 220.9 360.0 221.0 361.0 221.1 362.0 221.2 363.0 221.1 364.0 221.2 365.0 221.2 366.0 221.3 367.1 221.3 368.1 221.3 369.1 221.4 370.1 221.4 371.1 221.4 372.1 221.4 373.1 221.5 374.1 221.5 375.1 221.5 376.1 221.5 377.1 221.5 378.1 221.5 379.1 221.5 380.1 221.5 381.1 221.6 382.1 221.5 383.1 221.6 384.1 221.6 385.1 221.6" stroke="#ae4482"/>
<path d="M272.8 234.6 273.8 234.5 274.8 234.6 275.8 234.5 276.8 234.5 277.8 234.4 278.8 234.3 279.8 234.3 280.8 234.3 281.8 234.1 282.8 234.0 283.8 234.0 284.8 233.8 285.8 233.6 286.8 233.5 287.8 233.2 288.8 232.9 289.8 232.6 290.8 232.2 291.9 231.6 292.9 230.9 293.9 230.0 294.9 229.1 295.9 227.9 296.9 227.0 297.9 226.4 298.9 226.2 299.9 226.7 300.9 227.6 301.9 228.6 302.9 229.7 303.9 230.5 304.9 231.3 305.9 231.8 306.9 232.2 307.9 232.5 308.9 232.8 309.9 233.1 310.9 233.2 311.9 233.3 312.9 233.4 313.9 233.5 314.9 233.6 315.9 233.5 316.9 233.6 317.9 233.5 318.9 233.6 319.9 233.5 320.9 233.4 321.9 233.3 322.9 233.2 323.9 233.0 324.9 232.9 325.9 232.6 326.9 232.4 327.9 232.1 329.0 231.7 330.0 231.2 331.0 230.5 332.0 229.7 333.0 228.7 334.0 227.5 335.0 226.1 336.0 224.7 337.0 223.2 338.0 222.1 339.0 221.5 340.0 221.8 341.0 222.9 342.0 224.3 343.0 225.8 344.0 227.2 345.0 228.6 346.0 229.6 347.0 230.4 348.0 231.2 349.0 231.7 350.0 232.1 351.0 232.5 352.0 232.7 353.0 233.0 354.0 233.3 355.0 233.5 356.0 233.6 357.0 233.7 358.0 233.9 359.0 234.0 360.0 234.1 361.0 234.1 362.0 234.2 363.0 234.2 364.0 234.3 365.0 234.3 366.0 234.4 367.1 234.5 368.1 234.5 369.1 234.5 370.1 234.6 371.1 234.6 372.1 234.6 373.1 234.6 374.1 234.6 375.1 234.7 376.1 234.7 377.1 234.6 378.1 234.7 379.1 234.8 380.1 234.7 381.1 234.8 382.1 234.8 383.1 234.8 384.1 234.8 385.1 234.8" stroke="#f2404a"/>
<path d="M272.8 247.8 273.8 247.8 274.8 247.8 275.8 247.8 276.8 247.7 277.8 247.6 278.8 247.6 279.8 247.5 280.8 247.4 281.8 247.3 282.8 247.2 283.8 247.0 284.8 246.9 285.8 246.6 286.8 246.4 287.8 246.2 288.8 245.7 289.8 245.3 290.8 244.8 291.9 244.1 292.9 243.3 293.9 242.4 294.9 241.5 295.9 240.6 296.9 240.0 297.9 239.9 298.9 240.2 299.9 241.0 300.9 242.0 301.9 242.9 302.9 243.7 303.9 244.4 304.9 245.0 305.9 245.4 306.9 245.7 307.9 246.0 308.9 246.3 309.9 246.4 310.9 246.5 311.9 246.7 312.9 246.7 313.9 246.8 314.9 246.8 315.9 246.8 316.9 246.8 317.9 246.8 318.9 246.7 319.9 246.7 320.9 246.6 321.9 246.5 322.9 246.3 323.9 246.2 324.9 246.0 325.9 245.8 326.9 245.4 327.9 245.0 329.0 244.6 330.0 244.1 331.0 243.3 332.0 242.5 333.0 241.6 334.0 240.3 335.0 239.0 336.0 237.6 337.0 236.2 338.0 235.1 339.0 234.7 340.0 235.0 341.0 235.9 342.0 237.3 343.0 238.7 344.0 240.1 345.0 241.3 346.0 242.4 347.0 243.3 348.0 244.0 349.0 244.7 350.0 245.1 351.0 245.6 352.0 245.9 353.0 246.2 354.0 246.4 355.0 246.6 356.0 246.8 357.0 246.9 358.0 247.1 359.0 247.1 360.0 247.3 361.0 247.4 362.0 247.4 363.0 247.5 364.0 247.5 365.0 247.6 366.0 247.7 367.1 247.7 368.1 247.7 369.1 247.8 370.1 247.8 371.1 247.8 372.1 247.9 373.1 247.9 374.1 248.0 375.1 248.0 376.1 248.0 377.1 248.0 378.1 248.1 379.1 248.1 380.1 248.1 381.1 248.1 382.1 248.1 383.1 248.1 384.1 248.1 385.1 248.1" stroke="#f89a62"/>
<path d="M272.8 261.4 273.8 261.4 274.8 261.3 275.8 261.3 276.8 261.2 277.8 261.2 278.8 261.1 279.8 261.1 280.8 261.0 281.8 260.9 282.8 260.8 283.8 260.7 284.8 260.6 285.8 260.4 286.8 260.2 287.8 259.9 288.8 259.6 289.8 259.3 290.8 258.8 291.9 258.3 292.9 257.5 293.9 256.6 294.9 255.5 295.9 254.5 296.9 253.3 297.9 252.5 298.9 252.3 299.9 252.7 300.9 253.6 301.9 254.8 302.9 255.9 303.9 256.8 304.9 257.6 305.9 258.2 306.9 258.8 307.9 259.2 308.9 259.5 309.9 259.7 310.9 259.9 311.9 260.0 312.9 260.1 313.9 260.2 314.9 260.3 315.9 260.3 316.9 260.4 317.9 260.3 318.9 260.3 319.9 260.3 320.9 260.2 321.9 260.1 322.9 260.1 323.9 260.0 324.9 259.7 325.9 259.5 326.9 259.2 327.9 259.0 329.0 258.6 330.0 258.1 331.0 257.5 332.0 256.9 333.0 256.0 334.0 254.9 335.0 253.6 336.0 252.1 337.0 250.5 338.0 249.0 339.0 247.9 340.0 247.6 341.0 248.0 342.0 249.2 343.0 250.8 344.0 252.4 345.0 253.9 346.0 255.1 347.0 256.3 348.0 257.1 349.0 257.9 350.0 258.4 351.0 258.9 352.0 259.2 353.0 259.5 354.0 259.9 355.0 260.0 356.0 260.3 357.0 260.4 358.0 260.5 359.0 260.7 360.0 260.8 361.0 260.9 362.0 260.9 363.0 261.0 364.0 261.0 365.0 261.2 366.0 261.1 367.1 261.2 368.1 261.2 369.1 261.3 370.1 261.3 371.1 261.4 372.1 261.4 373.1 261.4 374.1 261.4 375.1 261.4 376.1 261.5 377.1 261.4 378.1 261.5 379.1 261.5 380.1 261.5 381.1 261.6 382.1 261.6 383.1 261.6 384.1 261.5 385.1 261.6" stroke="#f6928a"/>
<path d="M272.8 272.2 273.8 272.2 274.8 272.2 275.8 272.1 276.8 272.2 277.8 272.0 278.8 272.0 279.8 272.0 280.8 272.0 281.8 271.9 282.8 271.8 283.8 271.7 284.8 271.7 285.8 271.6 286.8 271.4 287.8 271.3 288.8 271.0 289.8 270.8 290.8 270.5 291.9 270.1 292.9 269.7 293.9 269.0 294.9 268.2 295.9 267.3 296.9 266.2 297.9 265.0 298.9 264.1 299.9 263.8 300.9 264.2 301.9 265.1 302.9 266.2 303.9 267.3 304.9 268.2 305.9 268.9 306.9 269.5 307.9 270.0 308.9 270.4 309.9 270.6 310.9 270.8 311.9 270.9 312.9 271.1 313.9 271.2 314.9 271.2 315.9 271.3 316.9 271.3 317.9 271.3 318.9 271.3 319.9 271.3 320.9 271.3 321.9 271.2 322.9 271.1 323.9 271.0 324.9 270.9 325.9 270.7 326.9 270.5 327.9 270.3 329.0 270.0 330.0 269.7 331.0 269.2 332.0 268.7 333.0 268.0 334.0 267.0 335.0 266.0 336.0 264.6 337.0 263.0 338.0 261.4 339.0 260.0 340.0 259.2 341.0 259.3 342.0 260.3 343.0 261.7 344.0 263.4 345.0 265.0 346.0 266.3 347.0 267.4 348.0 268.2 349.0 268.9 350.0 269.5 351.0 269.9 352.0 270.3 353.0 270.6 354.0 270.8 355.0 271.0 356.0 271.2 357.0 271.4 358.0 271.4 359.0 271.5 360.0 271.6 361.0 271.8 362.0 271.9 363.0 271.9 364.0 271.9 365.0 271.9 366.0 272.0 367.1 272.1 368.1 272.0 369.1 272.1 370.1 272.1 371.1 272.1 372.1 272.2 373.1 272.2 374.1 272.3 375.1 272.2 376.1 272.2 377.1 272.3 378.1 272.3 379.1 272.3 380.1 272.4 381.1 272.3 382.1 272.4 383.1 272.3 384.1 272.3 385.1 272.4" stroke="#f486c8"/>
<path d="M272.8 282.8 273.8 282.6 274.8 282.7 275.8 282.7 276.8 282.6 277.8 282.6 278.8 282.5 279.8 282.5 280.8 282.5 281.8 282.4 282.8 282.3 283.8 282.2 284.8 282.2 285.8 282.0 286.8 281.9 287.8 281.7 288.8 281.5 289.8 281.3 290.8 281.0 291.9 280.7 292.9 280.2 293.9 279.6 294.9 278.8 295.9 277.8 296.9 276.8 297.9 275.6 298.9 274.7 299.9 274.4 300.9 274.8 301.9 275.7 302.9 276.8 303.9 277.9 304.9 278.7 305.9 279.5 306.9 280.1 307.9 280.5 308.9 280.9 309.9 281.2 310.9 281.3 311.9 281.5 312.9 281.5 313.9 281.7 314.9 281.7 315.9 281.7 316.9 281.9 317.9 281.8 318.9 281.9 319.9 281.8 320.9 281.7 321.9 281.7 322.9 281.6 323.9 281.5 324.9 281.4 325.9 281.2 326.9 281.0 327.9 280.8 329.0 280.5 330.0 280.1 331.0 279.7 332.0 279.1 333.0 278.4 334.0 277.4 335.0 276.3 336.0 274.9 337.0 273.3 338.0 271.7 339.0 270.2 340.0 269.4 341.0 269.5 342.0 270.5 343.0 272.0 344.0 273.8 345.0 275.3 346.0 276.6 347.0 277.7 348.0 278.6 349.0 279.3 350.0 279.9 351.0 280.4 352.0 280.7 353.0 281.0 354.0 281.2 355.0 281.4 356.0 281.6 357.0 281.8 358.0 282.0 359.0 282.1 360.0 282.1 361.0 282.2 362.0 282.3 363.0 282.3 364.0 282.4 365.0 282.4 366.0 282.4 367.1 282.5 368.1 282.6 369.1 282.6 370.1 282.6 371.1 282.7 372.1 282.6 373.1 282.7 374.1 282.7 375.1 282.8 376.1 282.6 377.1 282.7 378.1 282.8 379.1 282.7 380.1 282.8 381.1 282.8 382.1 282.8 383.1 282.9 384.1 282.8 385.1 282.9" stroke="#f48af4"/>
<path d="M272.8 295.3 273.8 295.2 274.8 295.3 275.8 295.2 276.8 295.3 277.8 295.2 278.8 295.2 279.8 295.2 280.8 295.2 281.8 295.0 282.8 295.1 283.8 295.0 284.8 295.0 285.8 295.0 286.8 294.9 287.8 294.9 288.8 294.8 289.8 294.7 290.8 294.6 291.9 294.5 292.9 294.3 293.9 294.0 294.9 293.8 295.9 293.4 296.9 292.9 297.9 292.2 298.9 291.2 299.9 289.9 300.9 288.2 301.9 286.4 302.9 285.2 303.9 285.6 304.9 287.1 305.9 288.8 306.9 290.4 307.9 291.5 308.9 292.3 309.9 292.9 310.9 293.4 311.9 293.7 312.9 294.0 313.9 294.1 314.9 294.3 315.9 294.4 316.9 294.5 317.9 294.5 318.9 294.5 319.9 294.6 320.9 294.6 321.9 294.6 322.9 294.6 323.9 294.6 324.9 294.5 325.9 294.5 326.9 294.4 327.9 294.3 329.0 294.2 330.0 294.1 331.0 293.9 332.0 293.6 333.0 293.4 334.0 293.0 335.0 292.6 336.0 291.9 337.0 291.0 338.0 289.7 339.0 288.3 340.0 286.3 341.0 284.1 342.0 282.3 343.0 281.8 344.0 282.9 345.0 284.9 346.0 287.0 347.0 288.9 348.0 290.3 349.0 291.4 350.0 292.2 351.0 292.8 352.0 293.2 353.0 293.6 354.0 293.9 355.0 294.1 356.0 294.2 357.0 294.4 358.0 294.5 359.0 294.6 360.0 294.7 361.0 294.9 362.0 294.8 363.0 294.9 364.0 295.0 365.0 295.0 366.0 295.0 367.1 295.0 368.1 295.1 369.1 295.1 370.1 295.1 371.1 295.2 372.1 295.2 373.1 295.2 374.1 295.2 375.1 295.2 376.1 295.3 377.1 295.3 378.1 295.2 379.1 295.3 380.1 295.3 381.1 295.3 382.1 295.3 383.1 295.3 384.1 295.3 385.1 295.4" stroke="#e438e6"/>
<path d="M272.8 307.0 273.8 307.0 274.8 307.0 275.8 306.9 276.8 307.0 277.8 306.9 278.8 307.0 279.8 306.9 280.8 306.9 281.8 307.0 282.8 306.9 283.8 306.9 284.8 306.9 285.8 306.8 286.8 306.9 287.8 306.7 288.8 306.7 289.8 306.7 290.8 306.6 291.9 306.6 292.9 306.5 293.9 306.4 294.9 306.3 295.9 306.1 296.9 306.0 297.9 305.8 298.9 305.4 299.9 305.1 300.9 304.6 301.9 303.8 302.9 302.8 303.9 301.5 304.9 299.9 305.9 298.5 306.9 298.0 307.9 298.8 308.9 300.4 309.9 301.9 310.9 303.1 311.9 304.0 312.9 304.6 313.9 305.1 314.9 305.5 315.9 305.7 316.9 305.9 317.9 306.0 318.9 306.1 319.9 306.2 320.9 306.2 321.9 306.3 322.9 306.3 323.9 306.4 324.9 306.4 325.9 306.4 326.9 306.3 327.9 306.3 329.0 306.2 330.0 306.1 331.0 306.1 332.0 306.0 333.0 305.8 334.0 305.7 335.0 305.5 336.0 305.2 337.0 304.9 338.0 304.4 339.0 303.7 340.0 303.0 341.0 301.9 342.0 300.5 343.0 298.7 344.0 296.6 345.0 294.7 346.0 293.9 347.0 294.6 348.0 296.5 349.0 298.6 350.0 300.5 351.0 301.9 352.0 303.0 353.0 303.8 354.0 304.4 355.0 304.9 356.0 305.2 357.0 305.6 358.0 305.8 359.0 305.9 360.0 306.0 361.0 306.2 362.0 306.3 363.0 306.4 364.0 306.5 365.0 306.6 366.0 306.6 367.1 306.6 368.1 306.7 369.1 306.7 370.1 306.7 371.1 306.8 372.1 306.8 373.1 306.8 374.1 306.9 375.1 306.9 376.1 306.9 377.1 306.9 378.1 306.9 379.1 307.0 380.1 307.0 381.1 306.9 382.1 307.0 383.1 307.0 384.1 307.0 385.1 307.0" stroke="#a64ce8"/>
<path d="M272.8 319.5 273.8 319.5 274.8 319.5 275.8 319.5 276.8 319.5 277.8 319.5 278.8 319.5 279.8 319.4 280.8 319.4 281.8 319.4 282.8 319.4 283.8 319.4 284.8 319.4 285.8 319.3 286.8 319.3 287.8 319.2 288.8 319.3 289.8 319.2 290.8 319.1 291.9 319.1 292.9 319.0 293.9 318.9 294.9 318.9 295.9 318.7 296.9 318.5 297.9 318.3 298.9 318.0 299.9 317.6 300.9 317.1 301.9 316.5 302.9 315.5 303.9 314.3 304.9 312.7 305.9 310.9 306.9 309.9 307.9 310.1 308.9 311.5 309.9 313.2 310.9 314.7 311.9 315.9 312.9 316.7 313.9 317.3 314.9 317.7 315.9 318.0 316.9 318.3 317.9 318.4 318.9 318.5 319.9 318.6 320.9 318.7 321.9 318.8 322.9 318.8 323.9 318.8 324.9 318.8 325.9 318.9 326.9 318.9 327.9 318.8 329.0 318.8 330.0 318.7 331.0 318.7 332.0 318.6 333.0 318.5 334.0 318.3 335.0 318.2 336.0 318.0 337.0 317.8 338.0 317.5 339.0 317.1 340.0 316.6 341.0 315.9 342.0 314.9 343.0 313.6 344.0 311.9 345.0 309.8 346.0 307.7 347.0 306.0 348.0 305.8 349.0 307.2 350.0 309.3 351.0 311.4 352.0 313.3 353.0 314.7 354.0 315.7 355.0 316.4 356.0 317.0 357.0 317.4 358.0 317.8 359.0 318.0 360.0 318.3 361.0 318.5 362.0 318.6 363.0 318.7 364.0 318.8 365.0 318.9 366.0 319.0 367.1 319.0 368.1 319.1 369.1 319.1 370.1 319.2 371.1 319.2 372.1 319.3 373.1 319.3 374.1 319.3 375.1 319.3 376.1 319.3 377.1 319.4 378.1 319.4 379.1 319.4 380.1 319.4 381.1 319.4 382.1 319.5 383.1 319.5 384.1 319.5 385.1 319.5" stroke="#a8a4ee"/>
<path d="M272.8 330.2 273.8 330.3 274.8 330.2 275.8 330.2 276.8 330.3 277.8 330.2 278.8 330.2 279.8 330.2 280.8 330.2 281.8 330.2 282.8 330.2 283.8 330.2 284.8 330.1 285.8 330.1 286.8 330.1 287.8 330.1 288.8 330.1 289.8 330.1 290.8 330.0 291.9 330.0 292.9 329.9 293.9 330.0 294.9 329.9 295.9 329.8 296.9 329.7 297.9 329.6 298.9 329.4 299.9 329.3 300.9 329.1 301.9 328.8 302.9 328.3 303.9 327.7 304.9 326.6 305.9 325.0 306.9 322.5 307.9 319.5 308.9 318.1 309.9 319.9 310.9 322.9 311.9 325.2 312.9 326.7 313.9 327.7 314.9 328.3 315.9 328.8 316.9 329.0 317.9 329.2 318.9 329.4 319.9 329.5 320.9 329.6 321.9 329.7 322.9 329.6 323.9 329.7 324.9 329.7 325.9 329.7 326.9 329.7 327.9 329.6 329.0 329.6 330.0 329.6 331.0 329.6 332.0 329.5 333.0 329.5 334.0 329.4 335.0 329.3 336.0 329.2 337.0 329.0 338.0 328.8 339.0 328.5 340.0 328.1 341.0 327.7 342.0 327.0 343.0 326.0 344.0 324.7 345.0 322.9 346.0 320.4 347.0 317.5 348.0 315.4 349.0 315.7 350.0 317.9 351.0 320.8 352.0 323.2 353.0 325.0 354.0 326.2 355.0 327.2 356.0 327.7 357.0 328.3 358.0 328.6 359.0 328.9 360.0 329.1 361.0 329.3 362.0 329.4 363.0 329.6 364.0 329.6 365.0 329.7 366.0 329.7 367.1 329.8 368.1 329.9 369.1 329.9 370.1 329.9 371.1 330.0 372.1 330.0 373.1 330.0 374.1 330.0 375.1 330.1 376.1 330.1 377.1 330.1 378.1 330.1 379.1 330.1 380.1 330.1 381.1 330.1 382.1 330.2 383.1 330.2 384.1 330.2 385.1 330.2" stroke="#44a0f4"/>
<path d="M272.8 341.8 273.8 341.7 274.8 341.7 275.8 341.7 276.8 341.7 277.8 341.7 278.8 341.7 279.8 341.7 280.8 341.7 281.8 341.6 282.8 341.7 283.8 341.7 284.8 341.7 285.8 341.6 286.8 341.6 287.8 341.7 288.8 341.6 289.8 341.6 290.8 341.5 291.9 341.5 292.9 341.5 293.9 341.5 294.9 341.4 295.9 341.4 296.9 341.3 297.9 341.2 298.9 341.2 299.9 341.0 300.9 340.9 301.9 340.7 302.9 340.3 303.9 339.9 304.9 339.3 305.9 338.2 306.9 336.5 307.9 333.8 308.9 330.7 309.9 329.8 310.9 332.3 311.9 335.4 312.9 337.4 313.9 338.7 314.9 339.6 315.9 340.1 316.9 340.5 317.9 340.7 318.9 340.9 319.9 341.0 320.9 341.1 321.9 341.2 322.9 341.1 323.9 341.2 324.9 341.2 325.9 341.2 326.9 341.3 327.9 341.2 329.0 341.2 330.0 341.2 331.0 341.2 332.0 341.1 333.0 341.1 334.0 341.0 335.0 340.9 336.0 340.8 337.0 340.6 338.0 340.5 339.0 340.2 340.0 339.9 341.0 339.4 342.0 338.9 343.0 338.0 344.0 336.8 345.0 335.1 346.0 332.7 347.0 329.7 348.0 327.3 349.0 327.1 350.0 329.2 351.0 332.2 352.0 334.8 353.0 336.7 354.0 337.9 355.0 338.8 356.0 339.4 357.0 339.8 358.0 340.2 359.0 340.4 360.0 340.7 361.0 340.8 362.0 340.9 363.0 341.1 364.0 341.2 365.0 341.3 366.0 341.3 367.1 341.3 368.1 341.4 369.1 341.4 370.1 341.4 371.1 341.5 372.1 341.5 373.1 341.5 374.1 341.5 375.1 341.6 376.1 341.6 377.1 341.6 378.1 341.7 379.1 341.6 380.1 341.6 381.1 341.6 382.1 341.6 383.1 341.7 384.1 341.7 385.1 341.7" stroke="#4f4fe6"/>
<path d="M272.8 353.3 273.8 353.2 274.8 353.2 275.8 353.2 276.8 353.2 277.8 353.2 278.8 353.2 279.8 353.3 280.8 353.2 281.8 353.2 282.8 353.1 283.8 353.2 284.8 353.2 285.8 353.2 286.8 353.2 287.8 353.2 288.8 353.2 289.8 353.1 290.8 353.1 291.9 353.1 292.9 353.0 293.9 353.0 294.9 353.0 295.9 352.9 296.9 352.9 297.9 352.8 298.9 352.8 299.9 352.7 300.9 352.5 301.9 352.3 302.9 352.2 303.9 351.8 304.9 351.2 305.9 350.5 306.9 349.1 307.9 347.0 308.9 343.7 309.9 341.0 310.9 342.2 311.9 345.7 312.9 348.4 313.9 349.9 314.9 350.9 315.9 351.6 316.9 351.9 317.9 352.2 318.9 352.4 319.9 352.5 320.9 352.6 321.9 352.7 322.9 352.7 323.9 352.8 324.9 352.8 325.9 352.7 326.9 352.8 327.9 352.7 329.0 352.7 330.0 352.7 331.0 352.7 332.0 352.7 333.0 352.6 334.0 352.6 335.0 352.4 336.0 352.3 337.0 352.2 338.0 352.0 339.0 351.9 340.0 351.6 341.0 351.2 342.0 350.6 343.0 350.0 344.0 348.9 345.0 347.6 346.0 345.4 347.0 342.7 348.0 339.8 349.0 338.4 350.0 339.5 351.0 342.2 352.0 345.1 353.0 347.3 354.0 348.9 355.0 349.9 356.0 350.6 357.0 351.2 358.0 351.5 359.0 351.9 360.0 352.1 361.0 352.2 362.0 352.4 363.0 352.4 364.0 352.6 365.0 352.7 366.0 352.8 367.1 352.8 368.1 352.9 369.1 352.9 370.1 353.0 371.1 353.0 372.1 353.0 373.1 353.1 374.1 353.1 375.1 353.1 376.1 353.1 377.1 353.1 378.1 353.1 379.1 353.1 380.1 353.1 381.1 353.2 382.1 353.2 383.1 353.1 384.1 353.1 385.1 353.1" stroke="#4444b2"/>
<path d="M272.8 364.9 273.8 364.9 274.8 365.0 275.8 364.9 276.8 364.9 277.8 364.9 278.8 364.9 279.8 364.9 280.8 364.9 281.8 364.9 282.8 364.9 283.8 364.9 284.8 364.8 285.8 364.8 286.8 364.8 287.8 364.8 288.8 364.9 289.8 364.9 290.8 364.7 291.9 364.8 292.9 364.7 293.9 364.7 294.9 364.7 295.9 364.6 296.9 364.7 297.9 364.6 298.9 364.5 299.9 364.4 300.9 364.3 301.9 364.1 302.9 363.9 303.9 363.6 304.9 363.1 305.9 362.4 306.9 361.1 307.9 359.0 308.9 356.0 309.9 353.5 310.9 354.7 311.9 357.8 312.9 360.3 313.9 361.9 314.9 362.8 315.9 363.4 316.9 363.7 317.9 364.0 318.9 364.1 319.9 364.3 320.9 364.3 321.9 364.4 322.9 364.4 323.9 364.5 324.9 364.5 325.9 364.5 326.9 364.5 327.9 364.5 329.0 364.5 330.0 364.5 331.0 364.4 332.0 364.4 333.0 364.3 334.0 364.2 335.0 364.2 336.0 364.1 337.0 363.9 338.0 363.7 339.0 363.6 340.0 363.3 341.0 363.0 342.0 362.4 343.0 361.7 344.0 360.8 345.0 359.3 346.0 357.3 347.0 354.6 348.0 351.7 349.0 350.3 350.0 351.4 351.0 354.2 352.0 356.9 353.0 359.1 354.0 360.6 355.0 361.6 356.0 362.4 357.0 362.9 358.0 363.3 359.0 363.6 360.0 363.8 361.0 363.9 362.0 364.1 363.0 364.2 364.0 364.3 365.0 364.4 366.0 364.5 367.1 364.5 368.1 364.6 369.1 364.6 370.1 364.6 371.1 364.6 372.1 364.7 373.1 364.7 374.1 364.8 375.1 364.8 376.1 364.8 377.1 364.8 378.1 364.8 379.1 364.8 380.1 364.8 381.1 364.9 382.1 364.9 383.1 364.8 384.1 364.8 385.1 364.9" stroke="#467aa8"/>
</g>
<rect x="272.6" y="204.6" width="112.7" height="166.1" fill="none" stroke="#454545" stroke-width="1.10"/>
<path d="M288.7,370.7v-1.2 M304.8,370.7v-1.6 M320.9,370.7v-1.2 M337.0,370.7v-1.6 M353.1,370.7v-1.2 M369.2,370.7v-1.6" stroke="#3a3a3a" stroke-width="0.9"/>
<text class="tl" style="font-size:10.0px" transform="translate(266.83,378.95) scale(0.7000,0.6831)">360</text>
<text class="tl" style="font-size:10.0px" transform="translate(299.03,378.95) scale(0.7000,0.6831)">380</text>
<text class="tl" style="font-size:10.0px" transform="translate(331.25,378.95) scale(0.7000,0.6831)">400</text>
<text class="tl" style="font-size:10.0px" transform="translate(363.45,378.95) scale(0.7000,0.6831)">420</text>
<text class="ax" style="font-size:10.0px" transform="translate(297.17,389.10) scale(0.7909,0.7994)">Raman shift (cm<tspan style="font-size:4.50px" dy="-5.60">-1</tspan><tspan dy="5.60">)</tspan></text>
<text class="yl" style="font-size:10.0px" transform="translate(269.10,324.87) rotate(-90) scale(0.8550,0.8140)">Intensity (arb. units)</text>
<text class="pl" style="font-size:10.0px" transform="translate(274.48,213.87) scale(1.0365,0.9753)">(h)</text>
<text class="ly" style="font-size:10.0px" transform="translate(371.45,214.50) scale(0.9991,0.9884)">4L</text>
<g fill="none" stroke-width="1.2" stroke-linejoin="round">
<path d="M407.5 220.9 408.5 220.9 409.5 220.8 410.5 220.9 411.5 220.8 412.5 220.8 413.5 220.8 414.6 220.8 415.6 220.8 416.6 220.7 417.6 220.6 418.6 220.6 419.6 220.5 420.6 220.5 421.6 220.4 422.6 220.3 423.6 220.1 424.6 219.8 425.6 219.5 426.6 219.0 427.7 218.2 428.7 217.2 429.7 216.0 430.7 215.2 431.7 215.6 432.7 216.6 433.7 217.8 434.7 218.7 435.7 219.3 436.7 219.7 437.7 219.9 438.7 220.1 439.7 220.3 440.7 220.4 441.8 220.4 442.8 220.5 443.8 220.6 444.8 220.6 445.8 220.6 446.8 220.6 447.8 220.6 448.8 220.6 449.8 220.6 450.8 220.6 451.8 220.6 452.8 220.5 453.8 220.5 454.9 220.5 455.9 220.4 456.9 220.4 457.9 220.3 458.9 220.2 459.9 220.1 460.9 220.0 461.9 219.8 462.9 219.6 463.9 219.3 464.9 218.8 465.9 218.2 466.9 217.4 468.0 216.4 469.0 215.1 470.0 213.8 471.0 213.1 472.0 213.4 473.0 214.6 474.0 215.9 475.0 217.0 476.0 218.0 477.0 218.6 478.0 219.1 479.0 219.5 480.0 219.7 481.1 219.9 482.1 220.1 483.1 220.2 484.1 220.3 485.1 220.4 486.1 220.5 487.1 220.6 488.1 220.6 489.1 220.6 490.1 220.7 491.1 220.7 492.1 220.7 493.1 220.8 494.1 220.8 495.2 220.8 496.2 220.8 497.2 220.8 498.2 220.9 499.2 220.8 500.2 220.8 501.2 220.8 502.2 220.9 503.2 220.9 504.2 220.9 505.2 220.9 506.2 220.9 507.2 220.9 508.3 220.9 509.3 220.9 510.3 220.9 511.3 220.9 512.3 220.9 513.3 220.9 514.3 220.9" stroke="#ae4482"/>
<path d="M407.5 233.1 408.5 233.1 409.5 233.0 410.5 233.1 411.5 233.0 412.5 233.0 413.5 233.0 414.6 233.0 415.6 233.0 416.6 232.9 417.6 232.9 418.6 232.9 419.6 232.8 420.6 232.8 421.6 232.7 422.6 232.6 423.6 232.5 424.6 232.3 425.6 232.1 426.6 231.8 427.7 231.2 428.7 230.5 429.7 229.5 430.7 228.2 431.7 227.4 432.7 227.7 433.7 228.9 434.7 230.0 435.7 230.9 436.7 231.5 437.7 231.9 438.7 232.2 439.7 232.4 440.7 232.5 441.8 232.6 442.8 232.7 443.8 232.7 444.8 232.7 445.8 232.7 446.8 232.8 447.8 232.8 448.8 232.8 449.8 232.8 450.8 232.8 451.8 232.8 452.8 232.8 453.8 232.8 454.9 232.7 455.9 232.7 456.9 232.7 457.9 232.6 458.9 232.5 459.9 232.4 460.9 232.3 461.9 232.2 462.9 232.0 463.9 231.7 464.9 231.4 465.9 231.0 466.9 230.3 468.0 229.5 469.0 228.3 470.0 227.0 471.0 225.8 472.0 225.2 473.0 225.8 474.0 227.1 475.0 228.4 476.0 229.5 477.0 230.3 478.0 231.0 479.0 231.4 480.0 231.8 481.1 232.0 482.1 232.2 483.1 232.4 484.1 232.4 485.1 232.5 486.1 232.6 487.1 232.8 488.1 232.8 489.1 232.8 490.1 232.8 491.1 232.9 492.1 232.9 493.1 232.9 494.1 233.0 495.2 233.0 496.2 233.0 497.2 233.0 498.2 233.0 499.2 233.0 500.2 233.0 501.2 233.0 502.2 233.1 503.2 233.1 504.2 233.1 505.2 233.1 506.2 233.1 507.2 233.1 508.3 233.1 509.3 233.1 510.3 233.1 511.3 233.1 512.3 233.1 513.3 233.1 514.3 233.1" stroke="#f2404a"/>
<path d="M407.5 244.0 408.5 244.0 409.5 244.0 410.5 244.0 411.5 244.0 412.5 243.9 413.5 243.9 414.6 243.9 415.6 243.9 416.6 243.9 417.6 243.8 418.6 243.8 419.6 243.8 420.6 243.8 421.6 243.7 422.6 243.7 423.6 243.5 424.6 243.4 425.6 243.3 426.6 243.0 427.7 242.7 428.7 242.2 429.7 241.5 430.7 240.5 431.7 239.2 432.7 238.3 433.7 238.6 434.7 239.7 435.7 241.0 436.7 241.8 437.7 242.4 438.7 242.8 439.7 243.1 440.7 243.2 441.8 243.4 442.8 243.5 443.8 243.5 444.8 243.6 445.8 243.6 446.8 243.7 447.8 243.6 448.8 243.7 449.8 243.7 450.8 243.7 451.8 243.7 452.8 243.7 453.8 243.7 454.9 243.6 455.9 243.6 456.9 243.6 457.9 243.6 458.9 243.5 459.9 243.4 460.9 243.3 461.9 243.2 462.9 243.1 463.9 242.9 464.9 242.6 465.9 242.3 466.9 241.8 468.0 241.1 469.0 240.2 470.0 239.1 471.0 237.6 472.0 236.4 473.0 236.1 474.0 236.9 475.0 238.3 476.0 239.6 477.0 240.7 478.0 241.4 479.0 242.0 480.0 242.5 481.1 242.8 482.1 243.0 483.1 243.2 484.1 243.3 485.1 243.4 486.1 243.5 487.1 243.6 488.1 243.7 489.1 243.7 490.1 243.8 491.1 243.8 492.1 243.8 493.1 243.8 494.1 243.9 495.2 243.9 496.2 243.9 497.2 243.9 498.2 243.9 499.2 243.9 500.2 243.9 501.2 243.9 502.2 244.0 503.2 244.0 504.2 244.0 505.2 244.0 506.2 244.0 507.2 243.9 508.3 244.0 509.3 244.0 510.3 244.0 511.3 244.0 512.3 244.0 513.3 244.0 514.3 244.0" stroke="#f89a62"/>
<path d="M407.5 253.3 408.5 253.3 409.5 253.3 410.5 253.2 411.5 253.3 412.5 253.3 413.5 253.2 414.6 253.2 415.6 253.2 416.6 253.2 417.6 253.2 418.6 253.1 419.6 253.2 420.6 253.1 421.6 253.1 422.6 253.0 423.6 252.9 424.6 252.8 425.6 252.7 426.6 252.6 427.7 252.4 428.7 252.1 429.7 251.6 430.7 250.9 431.7 249.9 432.7 248.6 433.7 247.6 434.7 247.9 435.7 249.0 436.7 250.3 437.7 251.2 438.7 251.8 439.7 252.1 440.7 252.4 441.8 252.6 442.8 252.8 443.8 252.8 444.8 252.9 445.8 253.0 446.8 253.0 447.8 253.0 448.8 253.0 449.8 253.0 450.8 253.0 451.8 253.0 452.8 253.0 453.8 253.0 454.9 253.0 455.9 253.0 456.9 252.9 457.9 252.9 458.9 252.9 459.9 252.8 460.9 252.7 461.9 252.6 462.9 252.5 463.9 252.4 464.9 252.2 465.9 251.9 466.9 251.5 468.0 251.1 469.0 250.3 470.0 249.4 471.0 248.1 472.0 246.6 473.0 245.5 474.0 245.4 475.0 246.5 476.0 247.9 477.0 249.3 478.0 250.2 479.0 251.0 480.0 251.5 481.1 251.9 482.1 252.2 483.1 252.4 484.1 252.5 485.1 252.7 486.1 252.8 487.1 252.9 488.1 252.9 489.1 252.9 490.1 253.0 491.1 253.1 492.1 253.1 493.1 253.1 494.1 253.2 495.2 253.1 496.2 253.2 497.2 253.2 498.2 253.2 499.2 253.2 500.2 253.2 501.2 253.2 502.2 253.2 503.2 253.3 504.2 253.3 505.2 253.3 506.2 253.3 507.2 253.3 508.3 253.3 509.3 253.3 510.3 253.3 511.3 253.3 512.3 253.3 513.3 253.3 514.3 253.3" stroke="#f6928a"/>
<path d="M407.5 263.9 408.5 263.9 409.5 263.9 410.5 263.9 411.5 263.9 412.5 263.9 413.5 263.9 414.6 263.8 415.6 263.8 416.6 263.8 417.6 263.8 418.6 263.8 419.6 263.7 420.6 263.7 421.6 263.7 422.6 263.7 423.6 263.6 424.6 263.5 425.6 263.5 426.6 263.4 427.7 263.2 428.7 263.0 429.7 262.7 430.7 262.2 431.7 261.6 432.7 260.6 433.7 259.2 434.7 258.2 435.7 258.4 436.7 259.6 437.7 260.9 438.7 261.8 439.7 262.4 440.7 262.7 441.8 263.0 442.8 263.2 443.8 263.3 444.8 263.4 445.8 263.5 446.8 263.5 447.8 263.6 448.8 263.6 449.8 263.6 450.8 263.6 451.8 263.6 452.8 263.6 453.8 263.7 454.9 263.6 455.9 263.6 456.9 263.6 457.9 263.5 458.9 263.5 459.9 263.5 460.9 263.4 461.9 263.3 462.9 263.2 463.9 263.2 464.9 263.0 465.9 262.8 466.9 262.5 468.0 262.1 469.0 261.6 470.0 260.9 471.0 259.8 472.0 258.5 473.0 256.9 474.0 256.0 475.0 256.1 476.0 257.4 477.0 258.8 478.0 260.1 479.0 261.1 480.0 261.8 481.1 262.2 482.1 262.6 483.1 262.8 484.1 263.1 485.1 263.2 486.1 263.3 487.1 263.4 488.1 263.5 489.1 263.5 490.1 263.6 491.1 263.6 492.1 263.7 493.1 263.7 494.1 263.7 495.2 263.8 496.2 263.7 497.2 263.7 498.2 263.8 499.2 263.8 500.2 263.8 501.2 263.8 502.2 263.9 503.2 263.8 504.2 263.9 505.2 263.9 506.2 263.9 507.2 263.9 508.3 263.9 509.3 263.9 510.3 263.9 511.3 263.9 512.3 263.9 513.3 263.9 514.3 263.9" stroke="#f486c8"/>
<path d="M407.5 274.7 408.5 274.7 409.5 274.7 410.5 274.7 411.5 274.7 412.5 274.6 413.5 274.7 414.6 274.7 415.6 274.7 416.6 274.6 417.6 274.6 418.6 274.6 419.6 274.6 420.6 274.6 421.6 274.5 422.6 274.5 423.6 274.4 424.6 274.4 425.6 274.4 426.6 274.3 427.7 274.2 428.7 274.0 429.7 273.9 430.7 273.5 431.7 273.2 432.7 272.5 433.7 271.5 434.7 270.1 435.7 269.0 436.7 269.2 437.7 270.4 438.7 271.7 439.7 272.6 440.7 273.3 441.8 273.6 442.8 273.9 443.8 274.1 444.8 274.2 445.8 274.3 446.8 274.3 447.8 274.3 448.8 274.4 449.8 274.4 450.8 274.4 451.8 274.4 452.8 274.5 453.8 274.4 454.9 274.4 455.9 274.5 456.9 274.4 457.9 274.4 458.9 274.3 459.9 274.3 460.9 274.3 461.9 274.2 462.9 274.1 463.9 274.1 464.9 273.9 465.9 273.8 466.9 273.6 468.0 273.3 469.0 272.9 470.0 272.3 471.0 271.5 472.0 270.5 473.0 269.0 474.0 267.4 475.0 266.6 476.0 267.1 477.0 268.5 478.0 270.0 479.0 271.2 480.0 272.1 481.1 272.7 482.1 273.1 483.1 273.5 484.1 273.8 485.1 273.9 486.1 274.1 487.1 274.2 488.1 274.2 489.1 274.3 490.1 274.3 491.1 274.4 492.1 274.4 493.1 274.5 494.1 274.5 495.2 274.6 496.2 274.6 497.2 274.6 498.2 274.6 499.2 274.6 500.2 274.6 501.2 274.6 502.2 274.6 503.2 274.6 504.2 274.6 505.2 274.6 506.2 274.7 507.2 274.6 508.3 274.7 509.3 274.7 510.3 274.7 511.3 274.7 512.3 274.7 513.3 274.7 514.3 274.7" stroke="#f48af4"/>
<path d="M407.5 286.9 408.5 286.9 409.5 286.9 410.5 286.9 411.5 286.9 412.5 286.9 413.5 286.9 414.6 286.8 415.6 286.9 416.6 286.8 417.6 286.9 418.6 286.8 419.6 286.8 420.6 286.8 421.6 286.8 422.6 286.8 423.6 286.8 424.6 286.7 425.6 286.6 426.6 286.6 427.7 286.6 428.7 286.4 429.7 286.3 430.7 286.1 431.7 285.8 432.7 285.4 433.7 284.8 434.7 283.9 435.7 282.4 436.7 281.2 437.7 281.3 438.7 282.6 439.7 283.9 440.7 284.9 441.8 285.4 442.8 285.8 443.8 286.1 444.8 286.2 445.8 286.4 446.8 286.5 447.8 286.5 448.8 286.5 449.8 286.6 450.8 286.6 451.8 286.6 452.8 286.7 453.8 286.6 454.9 286.6 455.9 286.6 456.9 286.7 457.9 286.6 458.9 286.6 459.9 286.6 460.9 286.5 461.9 286.4 462.9 286.4 463.9 286.3 464.9 286.2 465.9 286.1 466.9 286.0 468.0 285.7 469.0 285.5 470.0 285.1 471.0 284.5 472.0 283.6 473.0 282.5 474.0 280.9 475.0 279.4 476.0 278.8 477.0 279.5 478.0 281.0 479.0 282.5 480.0 283.7 481.1 284.5 482.1 285.1 483.1 285.5 484.1 285.8 485.1 286.0 486.1 286.2 487.1 286.3 488.1 286.3 489.1 286.5 490.1 286.5 491.1 286.6 492.1 286.6 493.1 286.6 494.1 286.7 495.2 286.7 496.2 286.8 497.2 286.8 498.2 286.8 499.2 286.8 500.2 286.8 501.2 286.9 502.2 286.8 503.2 286.8 504.2 286.9 505.2 286.9 506.2 286.9 507.2 286.8 508.3 286.9 509.3 286.9 510.3 286.9 511.3 286.9 512.3 286.9 513.3 286.9 514.3 286.9" stroke="#e438e6"/>
<path d="M407.5 297.9 408.5 297.9 409.5 297.9 410.5 297.9 411.5 297.9 412.5 297.9 413.5 297.9 414.6 297.8 415.6 297.9 416.6 297.8 417.6 297.8 418.6 297.9 419.6 297.8 420.6 297.8 421.6 297.8 422.6 297.8 423.6 297.8 424.6 297.7 425.6 297.7 426.6 297.6 427.7 297.6 428.7 297.6 429.7 297.4 430.7 297.4 431.7 297.2 432.7 296.9 433.7 296.5 434.7 295.9 435.7 294.9 436.7 293.5 437.7 292.3 438.7 292.3 439.7 293.6 440.7 294.9 441.8 295.9 442.8 296.5 443.8 296.9 444.8 297.1 445.8 297.3 446.8 297.4 447.8 297.4 448.8 297.6 449.8 297.6 450.8 297.6 451.8 297.6 452.8 297.7 453.8 297.6 454.9 297.7 455.9 297.6 456.9 297.7 457.9 297.6 458.9 297.6 459.9 297.6 460.9 297.6 461.9 297.5 462.9 297.5 463.9 297.5 464.9 297.3 465.9 297.2 466.9 297.1 468.0 296.9 469.0 296.7 470.0 296.4 471.0 296.0 472.0 295.4 473.0 294.5 474.0 293.2 475.0 291.7 476.0 290.2 477.0 289.7 478.0 290.8 479.0 292.4 480.0 293.9 481.1 295.0 482.1 295.7 483.1 296.2 484.1 296.6 485.1 296.9 486.1 297.0 487.1 297.2 488.1 297.3 489.1 297.4 490.1 297.5 491.1 297.6 492.1 297.6 493.1 297.6 494.1 297.7 495.2 297.7 496.2 297.7 497.2 297.7 498.2 297.8 499.2 297.8 500.2 297.8 501.2 297.8 502.2 297.8 503.2 297.9 504.2 297.8 505.2 297.8 506.2 297.8 507.2 297.9 508.3 297.9 509.3 297.9 510.3 297.9 511.3 297.9 512.3 297.9 513.3 297.9 514.3 297.9" stroke="#a64ce8"/>
<path d="M407.5 311.7 408.5 311.7 409.5 311.7 410.5 311.7 411.5 311.7 412.5 311.6 413.5 311.7 414.6 311.7 415.6 311.6 416.6 311.7 417.6 311.7 418.6 311.6 419.6 311.6 420.6 311.6 421.6 311.6 422.6 311.6 423.6 311.6 424.6 311.6 425.6 311.5 426.6 311.5 427.7 311.5 428.7 311.5 429.7 311.3 430.7 311.3 431.7 311.2 432.7 311.0 433.7 310.8 434.7 310.4 435.7 309.8 436.7 308.9 437.7 307.5 438.7 306.1 439.7 306.1 440.7 307.4 441.8 308.8 442.8 309.8 443.8 310.4 444.8 310.7 445.8 311.0 446.8 311.1 447.8 311.2 448.8 311.3 449.8 311.4 450.8 311.4 451.8 311.4 452.8 311.4 453.8 311.4 454.9 311.5 455.9 311.5 456.9 311.5 457.9 311.5 458.9 311.4 459.9 311.4 460.9 311.4 461.9 311.4 462.9 311.3 463.9 311.3 464.9 311.2 465.9 311.1 466.9 311.1 468.0 310.9 469.0 310.8 470.0 310.5 471.0 310.3 472.0 309.7 473.0 309.1 474.0 308.2 475.0 306.8 476.0 305.1 477.0 303.7 478.0 303.6 479.0 304.9 480.0 306.6 481.1 308.0 482.1 309.0 483.1 309.7 484.1 310.2 485.1 310.5 486.1 310.7 487.1 311.0 488.1 311.0 489.1 311.2 490.1 311.2 491.1 311.3 492.1 311.4 493.1 311.4 494.1 311.5 495.2 311.5 496.2 311.5 497.2 311.5 498.2 311.6 499.2 311.6 500.2 311.6 501.2 311.6 502.2 311.6 503.2 311.6 504.2 311.6 505.2 311.6 506.2 311.6 507.2 311.7 508.3 311.7 509.3 311.7 510.3 311.7 511.3 311.7 512.3 311.7 513.3 311.7 514.3 311.7" stroke="#a8a4ee"/>
<path d="M407.5 322.4 408.5 322.4 409.5 322.4 410.5 322.4 411.5 322.4 412.5 322.4 413.5 322.4 414.6 322.4 415.6 322.4 416.6 322.4 417.6 322.4 418.6 322.4 419.6 322.4 420.6 322.3 421.6 322.3 422.6 322.3 423.6 322.3 424.6 322.3 425.6 322.3 426.6 322.3 427.7 322.2 428.7 322.2 429.7 322.1 430.7 322.1 431.7 322.0 432.7 321.9 433.7 321.8 434.7 321.5 435.7 321.1 436.7 320.6 437.7 319.7 438.7 318.3 439.7 316.8 440.7 316.7 441.8 318.1 442.8 319.5 443.8 320.5 444.8 321.1 445.8 321.5 446.8 321.7 447.8 321.8 448.8 321.9 449.8 322.0 450.8 322.1 451.8 322.1 452.8 322.1 453.8 322.1 454.9 322.2 455.9 322.2 456.9 322.1 457.9 322.2 458.9 322.2 459.9 322.2 460.9 322.1 461.9 322.1 462.9 322.1 463.9 322.0 464.9 322.0 465.9 321.9 466.9 321.9 468.0 321.7 469.0 321.6 470.0 321.5 471.0 321.2 472.0 320.9 473.0 320.4 474.0 319.7 475.0 318.8 476.0 317.3 477.0 315.5 478.0 314.2 479.0 314.4 480.0 316.0 481.1 317.7 482.1 319.0 483.1 320.0 484.1 320.6 485.1 321.0 486.1 321.3 487.1 321.5 488.1 321.7 489.1 321.8 490.1 321.9 491.1 322.0 492.1 322.1 493.1 322.1 494.1 322.1 495.2 322.2 496.2 322.2 497.2 322.2 498.2 322.3 499.2 322.3 500.2 322.3 501.2 322.3 502.2 322.3 503.2 322.3 504.2 322.3 505.2 322.3 506.2 322.4 507.2 322.4 508.3 322.4 509.3 322.4 510.3 322.4 511.3 322.4 512.3 322.3 513.3 322.4 514.3 322.4" stroke="#44a0f4"/>
<path d="M407.5 335.0 408.5 335.0 409.5 335.0 410.5 335.0 411.5 335.0 412.5 335.0 413.5 335.0 414.6 335.0 415.6 335.0 416.6 335.0 417.6 334.9 418.6 335.0 419.6 334.9 420.6 334.9 421.6 334.9 422.6 334.9 423.6 334.9 424.6 334.9 425.6 334.9 426.6 334.9 427.7 334.9 428.7 334.8 429.7 334.8 430.7 334.8 431.7 334.7 432.7 334.6 433.7 334.5 434.7 334.4 435.7 334.2 436.7 333.8 437.7 333.3 438.7 332.5 439.7 331.0 440.7 329.5 441.8 329.2 442.8 330.6 443.8 332.2 444.8 333.1 445.8 333.7 446.8 334.1 447.8 334.3 448.8 334.4 449.8 334.6 450.8 334.6 451.8 334.7 452.8 334.7 453.8 334.7 454.9 334.7 455.9 334.8 456.9 334.8 457.9 334.8 458.9 334.8 459.9 334.8 460.9 334.8 461.9 334.8 462.9 334.7 463.9 334.7 464.9 334.6 465.9 334.6 466.9 334.5 468.0 334.5 469.0 334.4 470.0 334.2 471.0 334.0 472.0 333.8 473.0 333.5 474.0 333.0 475.0 332.3 476.0 331.2 477.0 329.6 478.0 327.8 479.0 326.7 480.0 327.2 481.1 329.0 482.1 330.8 483.1 332.0 484.1 332.8 485.1 333.4 486.1 333.7 487.1 334.0 488.1 334.2 489.1 334.4 490.1 334.4 491.1 334.5 492.1 334.6 493.1 334.7 494.1 334.7 495.2 334.8 496.2 334.8 497.2 334.8 498.2 334.8 499.2 334.9 500.2 334.9 501.2 334.9 502.2 334.9 503.2 334.9 504.2 334.9 505.2 334.9 506.2 334.9 507.2 335.0 508.3 335.0 509.3 335.0 510.3 335.0 511.3 335.0 512.3 335.0 513.3 335.0 514.3 335.0" stroke="#4f4fe6"/>
<path d="M407.5 348.0 408.5 348.0 409.5 348.0 410.5 348.0 411.5 348.0 412.5 348.0 413.5 348.0 414.6 348.0 415.6 348.0 416.6 348.0 417.6 348.0 418.6 348.0 419.6 347.9 420.6 348.0 421.6 348.0 422.6 348.0 423.6 347.9 424.6 347.9 425.6 347.9 426.6 347.9 427.7 347.9 428.7 347.9 429.7 347.8 430.7 347.8 431.7 347.8 432.7 347.7 433.7 347.7 434.7 347.5 435.7 347.4 436.7 347.2 437.7 346.9 438.7 346.4 439.7 345.5 440.7 344.1 441.8 342.4 442.8 342.2 443.8 343.7 444.8 345.2 445.8 346.2 446.8 346.7 447.8 347.1 448.8 347.3 449.8 347.5 450.8 347.6 451.8 347.7 452.8 347.7 453.8 347.7 454.9 347.8 455.9 347.8 456.9 347.8 457.9 347.8 458.9 347.8 459.9 347.8 460.9 347.8 461.9 347.8 462.9 347.7 463.9 347.7 464.9 347.7 465.9 347.7 466.9 347.6 468.0 347.5 469.0 347.5 470.0 347.4 471.0 347.3 472.0 347.1 473.0 346.8 474.0 346.5 475.0 346.0 476.0 345.2 477.0 344.0 478.0 342.3 479.0 340.4 480.0 339.5 481.1 340.6 482.1 342.4 483.1 344.1 484.1 345.2 485.1 346.0 486.1 346.5 487.1 346.9 488.1 347.1 489.1 347.3 490.1 347.4 491.1 347.5 492.1 347.6 493.1 347.7 494.1 347.7 495.2 347.8 496.2 347.8 497.2 347.8 498.2 347.9 499.2 347.8 500.2 347.9 501.2 347.9 502.2 347.9 503.2 347.9 504.2 347.9 505.2 347.9 506.2 347.9 507.2 347.9 508.3 348.0 509.3 347.9 510.3 348.0 511.3 348.0 512.3 348.0 513.3 348.0 514.3 348.0" stroke="#4444b2"/>
<path d="M407.5 359.4 408.5 359.4 409.5 359.4 410.5 359.4 411.5 359.4 412.5 359.4 413.5 359.4 414.6 359.4 415.6 359.4 416.6 359.4 417.6 359.4 418.6 359.4 419.6 359.4 420.6 359.4 421.6 359.4 422.6 359.4 423.6 359.4 424.6 359.3 425.6 359.3 426.6 359.3 427.7 359.3 428.7 359.3 429.7 359.3 430.7 359.2 431.7 359.3 432.7 359.2 433.7 359.1 434.7 359.1 435.7 359.0 436.7 358.9 437.7 358.7 438.7 358.4 439.7 357.9 440.7 357.1 441.8 355.7 442.8 353.9 443.8 353.5 444.8 355.1 445.8 356.7 446.8 357.7 447.8 358.2 448.8 358.6 449.8 358.8 450.8 358.9 451.8 359.0 452.8 359.0 453.8 359.1 454.9 359.1 455.9 359.2 456.9 359.2 457.9 359.2 458.9 359.2 459.9 359.2 460.9 359.2 461.9 359.2 462.9 359.2 463.9 359.2 464.9 359.2 465.9 359.1 466.9 359.1 468.0 359.0 469.0 359.0 470.0 358.9 471.0 358.8 472.0 358.7 473.0 358.5 474.0 358.2 475.0 357.9 476.0 357.3 477.0 356.5 478.0 355.2 479.0 353.4 480.0 351.5 481.1 351.0 482.1 352.4 483.1 354.3 484.1 355.9 485.1 356.9 486.1 357.6 487.1 358.1 488.1 358.4 489.1 358.6 490.1 358.7 491.1 358.9 492.1 358.9 493.1 359.0 494.1 359.1 495.2 359.1 496.2 359.1 497.2 359.2 498.2 359.2 499.2 359.2 500.2 359.2 501.2 359.3 502.2 359.3 503.2 359.3 504.2 359.3 505.2 359.3 506.2 359.3 507.2 359.3 508.3 359.4 509.3 359.4 510.3 359.4 511.3 359.4 512.3 359.4 513.3 359.4 514.3 359.4" stroke="#467aa8"/>
</g>
<rect x="407.3" y="204.1" width="107.2" height="164.1" fill="none" stroke="#454545" stroke-width="1.10"/>
<path d="M422.6,368.2v-1.2 M437.9,368.2v-1.6 M453.2,368.2v-1.2 M468.6,368.2v-1.6 M483.9,368.2v-1.2 M499.2,368.2v-1.6" stroke="#3a3a3a" stroke-width="0.9"/>
<text class="tl" style="font-size:10.0px" transform="translate(401.53,375.85) scale(0.7000,0.6831)">360</text>
<text class="tl" style="font-size:10.0px" transform="translate(432.15,375.85) scale(0.7000,0.6831)">380</text>
<text class="tl" style="font-size:10.0px" transform="translate(462.81,375.85) scale(0.7000,0.6831)">400</text>
<text class="tl" style="font-size:10.0px" transform="translate(493.44,375.85) scale(0.7000,0.6831)">420</text>
<text class="ax" style="font-size:10.0px" transform="translate(429.46,388.40) scale(0.7993,0.8285)">Raman shift (cm<tspan style="font-size:4.50px" dy="-5.60">-1</tspan><tspan dy="5.60">)</tspan></text>
<text class="yl" style="font-size:10.0px" transform="translate(402.50,325.27) rotate(-90) scale(0.8571,0.7994)">Intensity (arb. units)</text>
<text class="pl" style="font-size:10.0px" transform="translate(409.21,213.95) scale(0.9834,0.8896)">(i)</text>
<text class="ly" style="font-size:10.0px" transform="translate(500.61,214.30) scale(0.9231,0.8721)">5L</text>
<g fill="none" stroke-width="1.2" stroke-linejoin="round">
<path d="M535.8 222.4 536.8 222.4 537.8 222.4 538.8 222.4 539.8 222.4 540.8 222.3 541.8 222.3 542.8 222.3 543.8 222.2 544.8 222.1 545.8 222.1 546.9 222.0 547.9 221.9 548.9 221.8 549.9 221.6 550.9 221.3 551.9 221.1 552.9 220.6 553.9 220.0 554.9 219.1 555.9 217.9 556.9 216.4 557.9 215.1 558.9 214.7 559.9 215.6 560.9 217.1 561.9 218.4 562.9 219.5 563.9 220.2 564.9 220.7 565.9 221.1 566.9 221.3 568.0 221.5 569.0 221.6 570.0 221.7 571.0 221.8 572.0 221.9 573.0 221.9 574.0 221.9 575.0 221.9 576.0 221.9 577.0 221.9 578.0 221.9 579.0 221.8 580.0 221.8 581.0 221.7 582.0 221.7 583.0 221.6 584.0 221.5 585.0 221.3 586.0 221.1 587.0 220.8 588.0 220.6 589.1 220.1 590.1 219.7 591.1 219.0 592.1 218.3 593.1 217.1 594.1 215.8 595.1 214.2 596.1 212.6 597.1 211.4 598.1 211.1 599.1 212.0 600.1 213.5 601.1 215.2 602.1 216.6 603.1 217.9 604.1 218.8 605.1 219.5 606.1 220.1 607.1 220.5 608.1 220.8 609.2 221.1 610.2 221.3 611.2 221.5 612.2 221.6 613.2 221.7 614.2 221.8 615.2 221.9 616.2 222.0 617.2 222.1 618.2 222.1 619.2 222.2 620.2 222.2 621.2 222.2 622.2 222.3 623.2 222.3 624.2 222.3 625.2 222.3 626.2 222.4 627.2 222.4 628.2 222.4 629.2 222.4 630.3 222.5 631.3 222.5 632.3 222.5 633.3 222.5 634.3 222.5 635.3 222.5 636.3 222.5 637.3 222.5 638.3 222.5 639.3 222.5 640.3 222.5" stroke="#ae4482"/>
<path d="M535.8 234.1 536.8 234.2 537.8 234.1 538.8 234.1 539.8 234.1 540.8 234.1 541.8 234.0 542.8 234.0 543.8 234.0 544.8 233.9 545.8 233.9 546.9 233.8 547.9 233.7 548.9 233.6 549.9 233.5 550.9 233.3 551.9 233.1 552.9 232.8 553.9 232.4 554.9 231.8 555.9 230.8 556.9 229.7 557.9 228.1 558.9 226.8 559.9 226.4 560.9 227.4 561.9 228.9 562.9 230.3 563.9 231.3 564.9 232.0 565.9 232.5 566.9 232.8 568.0 233.1 569.0 233.2 570.0 233.4 571.0 233.5 572.0 233.5 573.0 233.6 574.0 233.7 575.0 233.6 576.0 233.6 577.0 233.6 578.0 233.6 579.0 233.6 580.0 233.6 581.0 233.5 582.0 233.4 583.0 233.4 584.0 233.3 585.0 233.1 586.0 233.0 587.0 232.8 588.0 232.5 589.1 232.2 590.1 231.9 591.1 231.4 592.1 230.7 593.1 229.9 594.1 228.7 595.1 227.3 596.1 225.7 597.1 223.9 598.1 222.9 599.1 222.9 600.1 224.0 601.1 225.6 602.1 227.3 603.1 228.7 604.1 229.9 605.1 230.7 606.1 231.4 607.1 232.0 608.1 232.3 609.2 232.6 610.2 232.9 611.2 233.1 612.2 233.3 613.2 233.4 614.2 233.5 615.2 233.6 616.2 233.6 617.2 233.8 618.2 233.8 619.2 233.9 620.2 233.9 621.2 233.9 622.2 234.0 623.2 234.0 624.2 234.0 625.2 234.0 626.2 234.1 627.2 234.1 628.2 234.1 629.2 234.1 630.3 234.2 631.3 234.2 632.3 234.2 633.3 234.2 634.3 234.2 635.3 234.2 636.3 234.1 637.3 234.2 638.3 234.2 639.3 234.2 640.3 234.2" stroke="#f2404a"/>
<path d="M535.8 246.1 536.8 246.1 537.8 246.1 538.8 246.0 539.8 246.0 540.8 246.0 541.8 246.0 542.8 245.9 543.8 245.9 544.8 245.9 545.8 245.8 546.9 245.8 547.9 245.7 548.9 245.6 549.9 245.6 550.9 245.4 551.9 245.3 552.9 245.1 553.9 244.8 554.9 244.3 555.9 243.8 556.9 242.9 557.9 241.7 558.9 240.2 559.9 238.7 560.9 238.3 561.9 239.3 562.9 240.9 563.9 242.3 564.9 243.3 565.9 244.0 566.9 244.4 568.0 244.8 569.0 245.0 570.0 245.2 571.0 245.3 572.0 245.4 573.0 245.5 574.0 245.5 575.0 245.6 576.0 245.6 577.0 245.6 578.0 245.5 579.0 245.6 580.0 245.5 581.0 245.5 582.0 245.5 583.0 245.4 584.0 245.3 585.0 245.2 586.0 245.1 587.0 245.0 588.0 244.7 589.1 244.5 590.1 244.2 591.1 243.8 592.1 243.3 593.1 242.6 594.1 241.7 595.1 240.6 596.1 239.1 597.1 237.3 598.1 235.7 599.1 234.6 600.1 234.9 601.1 236.1 602.1 238.0 603.1 239.6 604.1 241.0 605.1 242.1 606.1 242.9 607.1 243.5 608.1 244.0 609.2 244.4 610.2 244.6 611.2 244.9 612.2 245.1 613.2 245.2 614.2 245.3 615.2 245.4 616.2 245.5 617.2 245.6 618.2 245.7 619.2 245.8 620.2 245.8 621.2 245.8 622.2 245.9 623.2 245.9 624.2 245.9 625.2 245.9 626.2 246.0 627.2 246.0 628.2 246.0 629.2 246.0 630.3 246.0 631.3 246.0 632.3 246.1 633.3 246.1 634.3 246.1 635.3 246.1 636.3 246.1 637.3 246.1 638.3 246.1 639.3 246.1 640.3 246.1" stroke="#f89a62"/>
<path d="M535.8 258.6 536.8 258.6 537.8 258.6 538.8 258.5 539.8 258.5 540.8 258.5 541.8 258.5 542.8 258.5 543.8 258.5 544.8 258.5 545.8 258.4 546.9 258.4 547.9 258.3 548.9 258.2 549.9 258.2 550.9 258.1 551.9 258.0 552.9 257.8 553.9 257.6 554.9 257.3 555.9 256.9 556.9 256.3 557.9 255.5 558.9 254.3 559.9 252.7 560.9 251.2 561.9 250.7 562.9 251.8 563.9 253.5 564.9 254.9 565.9 255.9 566.9 256.6 568.0 257.1 569.0 257.4 570.0 257.6 571.0 257.7 572.0 257.9 573.0 258.0 574.0 258.0 575.0 258.0 576.0 258.1 577.0 258.1 578.0 258.1 579.0 258.1 580.0 258.1 581.0 258.0 582.0 258.0 583.0 258.0 584.0 257.9 585.0 257.8 586.0 257.7 587.0 257.6 588.0 257.4 589.1 257.3 590.1 257.0 591.1 256.7 592.1 256.3 593.1 255.8 594.1 255.1 595.1 254.2 596.1 253.0 597.1 251.4 598.1 249.6 599.1 247.8 600.1 247.0 601.1 247.5 602.1 249.0 603.1 250.9 604.1 252.5 605.1 253.9 606.1 254.9 607.1 255.7 608.1 256.2 609.2 256.7 610.2 257.0 611.2 257.3 612.2 257.5 613.2 257.6 614.2 257.8 615.2 257.9 616.2 258.0 617.2 258.0 618.2 258.2 619.2 258.2 620.2 258.3 621.2 258.3 622.2 258.3 623.2 258.4 624.2 258.4 625.2 258.4 626.2 258.4 627.2 258.5 628.2 258.5 629.2 258.5 630.3 258.5 631.3 258.5 632.3 258.6 633.3 258.6 634.3 258.6 635.3 258.6 636.3 258.6 637.3 258.6 638.3 258.6 639.3 258.6 640.3 258.6" stroke="#f6928a"/>
<path d="M535.8 270.0 536.8 270.0 537.8 270.0 538.8 270.0 539.8 270.0 540.8 269.9 541.8 269.9 542.8 269.9 543.8 269.9 544.8 269.9 545.8 269.8 546.9 269.8 547.9 269.8 548.9 269.7 549.9 269.7 550.9 269.6 551.9 269.5 552.9 269.4 553.9 269.2 554.9 269.0 555.9 268.7 556.9 268.4 557.9 267.8 558.9 267.0 559.9 265.8 560.9 264.1 561.9 262.6 562.9 262.1 563.9 263.3 564.9 265.0 565.9 266.4 566.9 267.4 568.0 268.1 569.0 268.5 570.0 268.8 571.0 269.0 572.0 269.2 573.0 269.3 574.0 269.4 575.0 269.5 576.0 269.5 577.0 269.5 578.0 269.5 579.0 269.5 580.0 269.5 581.0 269.5 582.0 269.5 583.0 269.4 584.0 269.4 585.0 269.3 586.0 269.3 587.0 269.2 588.0 269.0 589.1 268.9 590.1 268.7 591.1 268.5 592.1 268.2 593.1 267.8 594.1 267.3 595.1 266.5 596.1 265.6 597.1 264.3 598.1 262.6 599.1 260.7 600.1 259.0 601.1 258.4 602.1 259.1 603.1 260.8 604.1 262.7 605.1 264.4 606.1 265.6 607.1 266.6 608.1 267.3 609.2 267.8 610.2 268.2 611.2 268.5 612.2 268.7 613.2 269.0 614.2 269.1 615.2 269.3 616.2 269.4 617.2 269.4 618.2 269.5 619.2 269.6 620.2 269.6 621.2 269.7 622.2 269.7 623.2 269.8 624.2 269.8 625.2 269.8 626.2 269.8 627.2 269.9 628.2 269.9 629.2 269.9 630.3 269.9 631.3 269.9 632.3 269.9 633.3 269.9 634.3 270.0 635.3 270.0 636.3 270.0 637.3 270.0 638.3 269.9 639.3 270.0 640.3 270.0" stroke="#f486c8"/>
<path d="M535.8 281.8 536.8 281.8 537.8 281.8 538.8 281.7 539.8 281.8 540.8 281.7 541.8 281.7 542.8 281.7 543.8 281.7 544.8 281.7 545.8 281.7 546.9 281.7 547.9 281.6 548.9 281.6 549.9 281.5 550.9 281.5 551.9 281.4 552.9 281.3 553.9 281.2 554.9 281.1 555.9 280.9 556.9 280.7 557.9 280.3 558.9 279.7 559.9 278.9 560.9 277.7 561.9 276.0 562.9 274.4 563.9 273.9 564.9 275.2 565.9 276.9 566.9 278.4 568.0 279.3 569.0 280.0 570.0 280.4 571.0 280.7 572.0 280.9 573.0 281.0 574.0 281.1 575.0 281.2 576.0 281.3 577.0 281.3 578.0 281.3 579.0 281.3 580.0 281.3 581.0 281.4 582.0 281.3 583.0 281.3 584.0 281.3 585.0 281.2 586.0 281.1 587.0 281.1 588.0 281.0 589.1 280.8 590.1 280.7 591.1 280.5 592.1 280.3 593.1 280.0 594.1 279.6 595.1 279.1 596.1 278.3 597.1 277.3 598.1 276.0 599.1 274.2 600.1 272.2 601.1 270.5 602.1 270.1 603.1 271.2 604.1 273.1 605.1 275.0 606.1 276.6 607.1 277.8 608.1 278.7 609.2 279.4 610.2 279.8 611.2 280.2 612.2 280.4 613.2 280.7 614.2 280.9 615.2 281.0 616.2 281.1 617.2 281.2 618.2 281.3 619.2 281.4 620.2 281.4 621.2 281.4 622.2 281.5 623.2 281.5 624.2 281.6 625.2 281.6 626.2 281.6 627.2 281.7 628.2 281.7 629.2 281.7 630.3 281.7 631.3 281.7 632.3 281.7 633.3 281.7 634.3 281.7 635.3 281.8 636.3 281.8 637.3 281.8 638.3 281.8 639.3 281.8 640.3 281.8" stroke="#f48af4"/>
<path d="M535.8 294.2 536.8 294.2 537.8 294.2 538.8 294.2 539.8 294.2 540.8 294.2 541.8 294.2 542.8 294.1 543.8 294.1 544.8 294.1 545.8 294.1 546.9 294.1 547.9 294.1 548.9 294.0 549.9 294.0 550.9 293.9 551.9 293.9 552.9 293.8 553.9 293.8 554.9 293.7 555.9 293.5 556.9 293.3 557.9 293.1 558.9 292.8 559.9 292.2 560.9 291.4 561.9 290.2 562.9 288.5 563.9 286.7 564.9 286.3 565.9 287.6 566.9 289.5 568.0 290.9 569.0 291.9 570.0 292.5 571.0 292.9 572.0 293.2 573.0 293.4 574.0 293.5 575.0 293.6 576.0 293.7 577.0 293.7 578.0 293.7 579.0 293.8 580.0 293.8 581.0 293.8 582.0 293.7 583.0 293.8 584.0 293.7 585.0 293.7 586.0 293.6 587.0 293.6 588.0 293.5 589.1 293.4 590.1 293.3 591.1 293.2 592.1 293.0 593.1 292.7 594.1 292.4 595.1 292.0 596.1 291.4 597.1 290.7 598.1 289.7 599.1 288.3 600.1 286.4 601.1 284.3 602.1 282.7 603.1 282.5 604.1 283.9 605.1 286.0 606.1 287.8 607.1 289.4 608.1 290.6 609.2 291.4 610.2 291.9 611.2 292.4 612.2 292.7 613.2 293.0 614.2 293.2 615.2 293.4 616.2 293.5 617.2 293.6 618.2 293.7 619.2 293.7 620.2 293.8 621.2 293.8 622.2 293.8 623.2 293.9 624.2 294.0 625.2 294.0 626.2 294.0 627.2 294.0 628.2 294.0 629.2 294.1 630.3 294.1 631.3 294.1 632.3 294.1 633.3 294.1 634.3 294.1 635.3 294.2 636.3 294.2 637.3 294.1 638.3 294.2 639.3 294.2 640.3 294.2" stroke="#e438e6"/>
<path d="M535.8 305.3 536.8 305.3 537.8 305.3 538.8 305.3 539.8 305.3 540.8 305.3 541.8 305.3 542.8 305.3 543.8 305.2 544.8 305.2 545.8 305.2 546.9 305.2 547.9 305.2 548.9 305.2 549.9 305.1 550.9 305.1 551.9 305.1 552.9 305.0 553.9 305.0 554.9 304.9 555.9 304.8 556.9 304.7 557.9 304.5 558.9 304.3 559.9 303.9 560.9 303.4 561.9 302.7 562.9 301.5 563.9 299.7 564.9 297.8 565.9 297.4 566.9 298.8 568.0 300.7 569.0 302.2 570.0 303.1 571.0 303.7 572.0 304.0 573.0 304.4 574.0 304.5 575.0 304.7 576.0 304.7 577.0 304.8 578.0 304.8 579.0 304.9 580.0 304.9 581.0 304.9 582.0 304.9 583.0 304.8 584.0 304.8 585.0 304.8 586.0 304.8 587.0 304.8 588.0 304.7 589.1 304.6 590.1 304.6 591.1 304.5 592.1 304.3 593.1 304.1 594.1 303.9 595.1 303.6 596.1 303.2 597.1 302.6 598.1 301.8 599.1 300.7 600.1 299.3 601.1 297.3 602.1 295.1 603.1 293.6 604.1 293.7 605.1 295.4 606.1 297.6 607.1 299.5 608.1 301.0 609.2 301.9 610.2 302.7 611.2 303.2 612.2 303.6 613.2 303.9 614.2 304.2 615.2 304.4 616.2 304.5 617.2 304.7 618.2 304.7 619.2 304.8 620.2 304.9 621.2 304.9 622.2 305.0 623.2 305.0 624.2 305.1 625.2 305.0 626.2 305.1 627.2 305.1 628.2 305.2 629.2 305.1 630.3 305.2 631.3 305.2 632.3 305.2 633.3 305.2 634.3 305.2 635.3 305.3 636.3 305.3 637.3 305.3 638.3 305.3 639.3 305.3 640.3 305.3" stroke="#a64ce8"/>
<path d="M535.8 316.8 536.8 316.8 537.8 316.8 538.8 316.8 539.8 316.8 540.8 316.8 541.8 316.8 542.8 316.8 543.8 316.7 544.8 316.8 545.8 316.7 546.9 316.7 547.9 316.7 548.9 316.7 549.9 316.7 550.9 316.6 551.9 316.6 552.9 316.6 553.9 316.5 554.9 316.5 555.9 316.4 556.9 316.3 557.9 316.3 558.9 316.1 559.9 315.8 560.9 315.5 561.9 315.1 562.9 314.3 563.9 313.1 564.9 311.3 565.9 309.3 566.9 308.8 568.0 310.4 569.0 312.4 570.0 313.8 571.0 314.7 572.0 315.3 573.0 315.6 574.0 315.9 575.0 316.1 576.0 316.2 577.0 316.3 578.0 316.3 579.0 316.4 580.0 316.4 581.0 316.4 582.0 316.4 583.0 316.4 584.0 316.4 585.0 316.4 586.0 316.3 587.0 316.4 588.0 316.3 589.1 316.3 590.1 316.2 591.1 316.1 592.1 316.0 593.1 315.8 594.1 315.7 595.1 315.4 596.1 315.1 597.1 314.7 598.1 314.2 599.1 313.3 600.1 312.2 601.1 310.6 602.1 308.6 603.1 306.3 604.1 304.9 605.1 305.4 606.1 307.4 607.1 309.6 608.1 311.5 609.2 312.9 610.2 313.8 611.2 314.5 612.2 314.9 613.2 315.4 614.2 315.6 615.2 315.8 616.2 316.0 617.2 316.1 618.2 316.2 619.2 316.3 620.2 316.3 621.2 316.4 622.2 316.5 623.2 316.5 624.2 316.5 625.2 316.6 626.2 316.6 627.2 316.6 628.2 316.6 629.2 316.7 630.3 316.7 631.3 316.8 632.3 316.7 633.3 316.7 634.3 316.7 635.3 316.7 636.3 316.8 637.3 316.7 638.3 316.8 639.3 316.8 640.3 316.8" stroke="#a8a4ee"/>
<path d="M535.8 328.5 536.8 328.5 537.8 328.5 538.8 328.5 539.8 328.5 540.8 328.5 541.8 328.4 542.8 328.5 543.8 328.5 544.8 328.5 545.8 328.4 546.9 328.4 547.9 328.4 548.9 328.4 549.9 328.4 550.9 328.4 551.9 328.4 552.9 328.3 553.9 328.3 554.9 328.2 555.9 328.2 556.9 328.1 557.9 328.1 558.9 328.0 559.9 327.8 560.9 327.6 561.9 327.3 562.9 326.8 563.9 326.1 564.9 325.0 565.9 323.2 566.9 321.1 568.0 320.5 569.0 322.2 570.0 324.2 571.0 325.7 572.0 326.5 573.0 327.0 574.0 327.4 575.0 327.7 576.0 327.8 577.0 327.9 578.0 328.0 579.0 328.1 580.0 328.1 581.0 328.1 582.0 328.1 583.0 328.1 584.0 328.1 585.0 328.1 586.0 328.1 587.0 328.1 588.0 328.1 589.1 328.0 590.1 328.0 591.1 327.9 592.1 327.8 593.1 327.7 594.1 327.6 595.1 327.4 596.1 327.2 597.1 326.9 598.1 326.4 599.1 325.8 600.1 325.1 601.1 323.9 602.1 322.2 603.1 320.0 604.1 317.7 605.1 316.5 606.1 317.4 607.1 319.6 608.1 321.9 609.2 323.6 610.2 324.9 611.2 325.8 612.2 326.4 613.2 326.8 614.2 327.2 615.2 327.4 616.2 327.6 617.2 327.7 618.2 327.9 619.2 327.9 620.2 328.0 621.2 328.1 622.2 328.2 623.2 328.2 624.2 328.2 625.2 328.2 626.2 328.3 627.2 328.3 628.2 328.3 629.2 328.3 630.3 328.4 631.3 328.4 632.3 328.4 633.3 328.4 634.3 328.4 635.3 328.4 636.3 328.5 637.3 328.4 638.3 328.5 639.3 328.4 640.3 328.5" stroke="#44a0f4"/>
<path d="M535.8 339.1 536.8 339.1 537.8 339.1 538.8 339.1 539.8 339.1 540.8 339.1 541.8 339.1 542.8 339.1 543.8 339.1 544.8 339.1 545.8 339.1 546.9 339.1 547.9 339.0 548.9 339.0 549.9 339.0 550.9 339.0 551.9 339.0 552.9 338.9 553.9 339.0 554.9 338.9 555.9 338.9 556.9 338.8 557.9 338.8 558.9 338.7 559.9 338.6 560.9 338.4 561.9 338.3 562.9 338.0 563.9 337.5 564.9 336.9 565.9 335.7 566.9 333.9 568.0 331.7 569.0 331.1 570.0 332.9 571.0 335.0 572.0 336.4 573.0 337.3 574.0 337.8 575.0 338.1 576.0 338.3 577.0 338.4 578.0 338.6 579.0 338.7 580.0 338.7 581.0 338.7 582.0 338.8 583.0 338.8 584.0 338.8 585.0 338.7 586.0 338.8 587.0 338.7 588.0 338.7 589.1 338.7 590.1 338.6 591.1 338.6 592.1 338.5 593.1 338.5 594.1 338.3 595.1 338.2 596.1 338.1 597.1 337.8 598.1 337.5 599.1 337.1 600.1 336.5 601.1 335.7 602.1 334.4 603.1 332.7 604.1 330.3 605.1 328.0 606.1 327.1 607.1 328.4 608.1 330.8 609.2 333.1 610.2 334.8 611.2 335.9 612.2 336.7 613.2 337.2 614.2 337.6 615.2 337.9 616.2 338.1 617.2 338.3 618.2 338.4 619.2 338.5 620.2 338.6 621.2 338.7 622.2 338.8 623.2 338.8 624.2 338.8 625.2 338.8 626.2 338.9 627.2 338.9 628.2 338.9 629.2 338.9 630.3 339.0 631.3 339.0 632.3 339.0 633.3 339.0 634.3 339.0 635.3 339.1 636.3 339.0 637.3 339.1 638.3 339.1 639.3 339.1 640.3 339.1" stroke="#4f4fe6"/>
<path d="M535.8 350.0 536.8 350.0 537.8 350.0 538.8 350.0 539.8 350.0 540.8 350.0 541.8 350.0 542.8 350.0 543.8 350.0 544.8 350.0 545.8 350.0 546.9 350.0 547.9 350.0 548.9 350.0 549.9 349.9 550.9 349.9 551.9 349.9 552.9 350.0 553.9 349.9 554.9 349.9 555.9 349.8 556.9 349.8 557.9 349.8 558.9 349.7 559.9 349.6 560.9 349.6 561.9 349.4 562.9 349.2 563.9 349.0 564.9 348.6 565.9 347.9 566.9 346.7 568.0 344.9 569.0 342.6 570.0 342.0 571.0 343.9 572.0 346.1 573.0 347.5 574.0 348.3 575.0 348.8 576.0 349.1 577.0 349.3 578.0 349.4 579.0 349.5 580.0 349.6 581.0 349.6 582.0 349.6 583.0 349.7 584.0 349.7 585.0 349.7 586.0 349.7 587.0 349.7 588.0 349.6 589.1 349.6 590.1 349.6 591.1 349.5 592.1 349.5 593.1 349.5 594.1 349.4 595.1 349.3 596.1 349.1 597.1 349.0 598.1 348.8 599.1 348.4 600.1 348.0 601.1 347.4 602.1 346.6 603.1 345.3 604.1 343.4 605.1 340.9 606.1 338.5 607.1 338.0 608.1 339.8 609.2 342.4 610.2 344.6 611.2 346.1 612.2 347.1 613.2 347.8 614.2 348.3 615.2 348.7 616.2 348.9 617.2 349.1 618.2 349.3 619.2 349.4 620.2 349.5 621.2 349.5 622.2 349.6 623.2 349.7 624.2 349.7 625.2 349.8 626.2 349.8 627.2 349.8 628.2 349.8 629.2 349.8 630.3 349.8 631.3 349.9 632.3 349.9 633.3 349.9 634.3 349.9 635.3 349.9 636.3 350.0 637.3 350.0 638.3 350.0 639.3 350.0 640.3 350.0" stroke="#4444b2"/>
<path d="M535.8 361.1 536.8 361.1 537.8 361.1 538.8 361.1 539.8 361.1 540.8 361.1 541.8 361.1 542.8 361.1 543.8 361.1 544.8 361.1 545.8 361.1 546.9 361.1 547.9 361.1 548.9 361.1 549.9 361.0 550.9 361.0 551.9 361.1 552.9 361.0 553.9 361.0 554.9 361.0 555.9 361.0 556.9 360.9 557.9 360.9 558.9 360.9 559.9 360.8 560.9 360.8 561.9 360.7 562.9 360.6 563.9 360.4 564.9 360.2 565.9 359.7 566.9 359.2 568.0 358.0 569.0 356.2 570.0 353.7 571.0 353.1 572.0 355.2 573.0 357.4 574.0 358.8 575.0 359.5 576.0 360.0 577.0 360.2 578.0 360.5 579.0 360.6 580.0 360.6 581.0 360.8 582.0 360.7 583.0 360.8 584.0 360.8 585.0 360.8 586.0 360.8 587.0 360.8 588.0 360.8 589.1 360.8 590.1 360.8 591.1 360.7 592.1 360.7 593.1 360.7 594.1 360.6 595.1 360.5 596.1 360.4 597.1 360.3 598.1 360.1 599.1 359.9 600.1 359.7 601.1 359.2 602.1 358.6 603.1 357.7 604.1 356.3 605.1 354.3 606.1 351.6 607.1 349.3 608.1 349.2 609.2 351.5 610.2 354.2 611.2 356.2 612.2 357.6 613.2 358.6 614.2 359.2 615.2 359.6 616.2 359.9 617.2 360.2 618.2 360.3 619.2 360.4 620.2 360.6 621.2 360.6 622.2 360.7 623.2 360.8 624.2 360.8 625.2 360.8 626.2 360.9 627.2 360.9 628.2 360.9 629.2 360.9 630.3 361.0 631.3 361.0 632.3 361.0 633.3 361.0 634.3 361.0 635.3 361.1 636.3 361.0 637.3 361.0 638.3 361.0 639.3 361.1 640.3 361.1" stroke="#467aa8"/>
</g>
<rect x="535.6" y="204.6" width="104.9" height="165.4" fill="none" stroke="#454545" stroke-width="1.10"/>
<path d="M550.6,370.0v-1.2 M565.6,370.0v-1.6 M580.6,370.0v-1.2 M595.5,370.0v-1.6 M610.5,370.0v-1.2 M625.5,370.0v-1.6" stroke="#3a3a3a" stroke-width="0.9"/>
<text class="tl" style="font-size:10.0px" transform="translate(529.83,377.35) scale(0.7000,0.6831)">360</text>
<text class="tl" style="font-size:10.0px" transform="translate(559.80,377.35) scale(0.7000,0.6831)">380</text>
<text class="tl" style="font-size:10.0px" transform="translate(589.80,377.35) scale(0.7000,0.6831)">400</text>
<text class="tl" style="font-size:10.0px" transform="translate(619.77,377.35) scale(0.7000,0.6831)">420</text>
<text class="ax" style="font-size:10.0px" transform="translate(558.37,388.70) scale(0.7945,0.7994)">Raman shift (cm<tspan style="font-size:4.50px" dy="-5.60">-1</tspan><tspan dy="5.60">)</tspan></text>
<text class="yl" style="font-size:10.0px" transform="translate(529.70,326.27) rotate(-90) scale(0.8560,0.7994)">Intensity (arb. units)</text>
<text class="pl" style="font-size:10.0px" transform="translate(536.82,214.18) scale(0.9601,0.8111)">(g)</text>
<text class="ly" style="font-size:10.0px" transform="translate(623.76,216.00) scale(0.9281,0.9448)">6L</text>
<defs><linearGradient id="g1" x1="0" y1="1" x2="0" y2="0"><stop offset="0" stop-color="#4872b0"/><stop offset="0.28" stop-color="#6a66c0"/><stop offset="0.48" stop-color="#a050d0"/><stop offset="0.7" stop-color="#e030d8"/><stop offset="1" stop-color="#e878b0"/></linearGradient></defs>
<text class="k557" style="font-size:10.0px" transform="translate(647.57,27.20) scale(1.0685,1.1628)">557K</text>
<rect x="657.1" y="35.3" width="2.0" height="106.2" fill="url(#g1)"/>
<path d="M658.1,35.1 l-3.4,6.0 M658.1,35.1 l3.4,6.0" stroke="#e266b0" stroke-width="1.8" fill="none" stroke-linecap="round"/>
<text class="k77" style="font-size:10.0px" transform="translate(650.46,155.10) scale(1.0219,1.1047)">77K</text>
<defs><linearGradient id="g2" x1="0" y1="1" x2="0" y2="0"><stop offset="0" stop-color="#4872b0"/><stop offset="0.28" stop-color="#6a66c0"/><stop offset="0.48" stop-color="#a050d0"/><stop offset="0.7" stop-color="#e030d8"/><stop offset="1" stop-color="#e878b0"/></linearGradient></defs>
<text class="k557" style="font-size:10.0px" transform="translate(649.78,227.70) scale(1.0473,1.1628)">557K</text>
<rect x="659.0" y="235.4" width="2.0" height="106.3" fill="url(#g2)"/>
<path d="M660.0,235.2 l-3.4,6.0 M660.0,235.2 l3.4,6.0" stroke="#e266b0" stroke-width="1.8" fill="none" stroke-linecap="round"/>
<text class="k77" style="font-size:10.0px" transform="translate(652.47,355.70) scale(1.0051,1.1192)">77K</text>
</svg></body></html>
